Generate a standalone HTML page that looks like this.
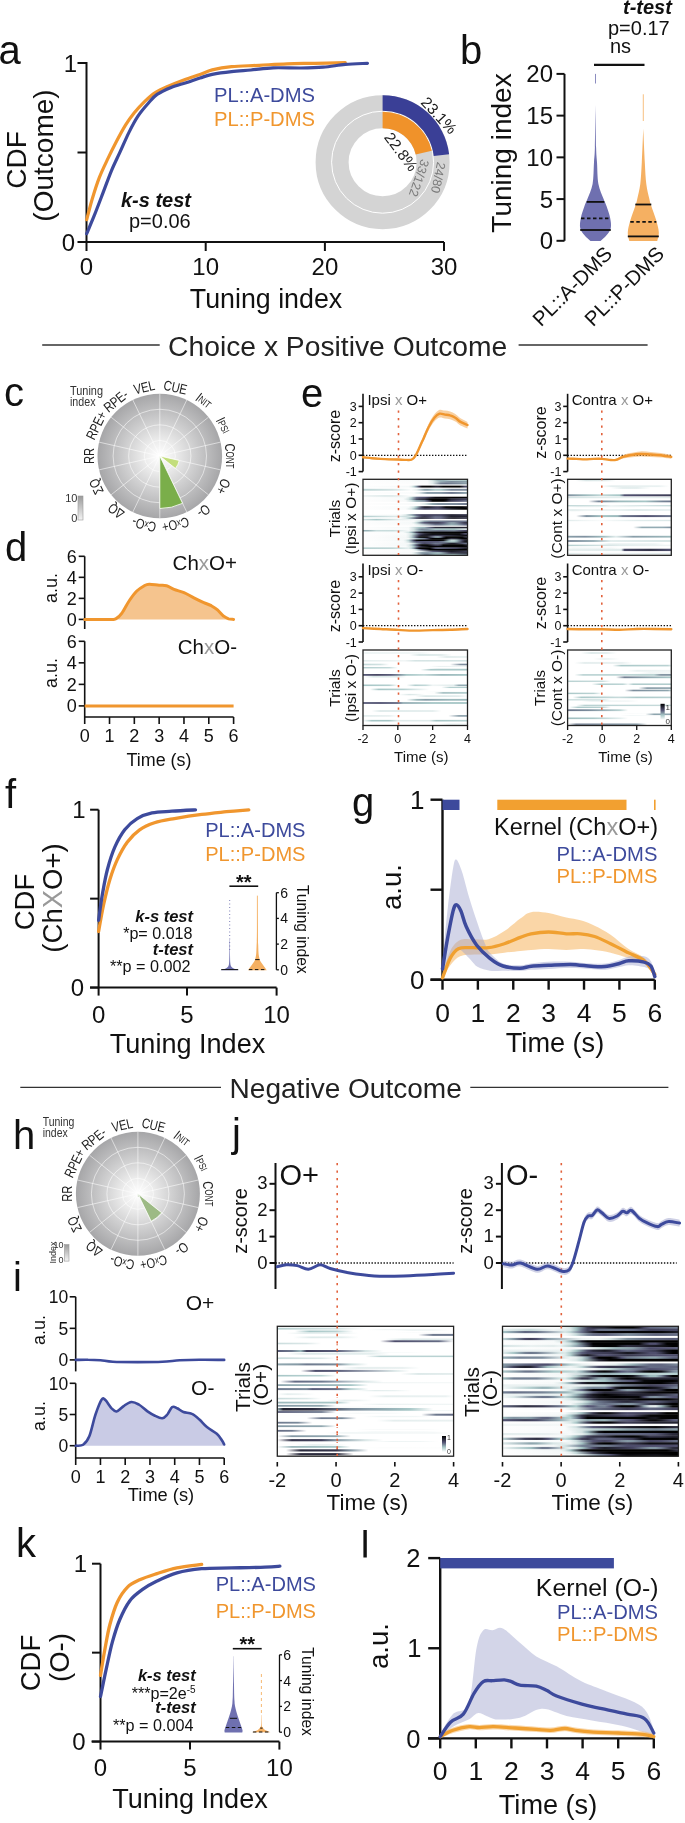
<!DOCTYPE html>
<html><head><meta charset="utf-8"><style>
html,body{margin:0;padding:0;background:#fff;}
body{width:685px;height:1823px;overflow:hidden;}
svg{display:block;will-change:transform;}
text{font-family:"Liberation Sans",sans-serif;}
</style></head><body>
<svg width="685" height="1823" viewBox="0 0 685 1823">
<defs><radialGradient id="pg1" cx="159.8" cy="456" r="62.3" gradientUnits="userSpaceOnUse"><stop offset="0" stop-color="#ffffff"/><stop offset="0.25" stop-color="#ececec"/><stop offset="0.6" stop-color="#cbcbcc"/><stop offset="1" stop-color="#a6a6a8"/></radialGradient><linearGradient id="lg10" x1="0" y1="0" x2="0" y2="1"><stop offset="0" stop-color="#9a9a9a"/><stop offset="1" stop-color="#f4f4f4"/></linearGradient><linearGradient id="h1"><stop offset="0.000" stop-color="#fefefe"/><stop offset="0.615" stop-color="#f6f9f9"/><stop offset="0.667" stop-color="#d0e1e0"/><stop offset="0.718" stop-color="#9cb7bb"/><stop offset="0.769" stop-color="#9cb8bc"/><stop offset="0.846" stop-color="#bfd6d6"/><stop offset="1.000" stop-color="#b4cfcf"/></linearGradient><linearGradient id="h2"><stop offset="0.000" stop-color="#fefefe"/><stop offset="0.615" stop-color="#f9fbfb"/><stop offset="0.667" stop-color="#dfeaea"/><stop offset="0.744" stop-color="#95aeb5"/><stop offset="0.846" stop-color="#7c8d9c"/><stop offset="1.000" stop-color="#8ca1ab"/></linearGradient><linearGradient id="h3"><stop offset="0.000" stop-color="#fefefe"/><stop offset="0.615" stop-color="#fbfcfc"/><stop offset="0.667" stop-color="#deeaea"/><stop offset="0.744" stop-color="#758395"/><stop offset="0.795" stop-color="#6d778c"/><stop offset="0.923" stop-color="#7d8d9c"/><stop offset="1.000" stop-color="#8ca2ac"/></linearGradient><linearGradient id="h4"><stop offset="0.000" stop-color="#fefefe"/><stop offset="0.436" stop-color="#f6f9f9"/><stop offset="0.462" stop-color="#e6efef"/><stop offset="0.487" stop-color="#bdd5d5"/><stop offset="0.513" stop-color="#8092a0"/><stop offset="0.538" stop-color="#3c3b53"/><stop offset="0.564" stop-color="#07070a"/><stop offset="0.641" stop-color="#010102"/><stop offset="0.692" stop-color="#1e1e2a"/><stop offset="0.718" stop-color="#21212f"/><stop offset="0.769" stop-color="#000000"/><stop offset="0.923" stop-color="#000000"/><stop offset="0.974" stop-color="#42425c"/><stop offset="1.000" stop-color="#515171"/></linearGradient><linearGradient id="h5"><stop offset="0.000" stop-color="#bcd4d4"/><stop offset="0.282" stop-color="#d4e3e3"/><stop offset="0.462" stop-color="#fafcfc"/><stop offset="0.513" stop-color="#e7efef"/><stop offset="0.590" stop-color="#8ea5ae"/><stop offset="0.615" stop-color="#8ba1ab"/><stop offset="0.692" stop-color="#b0cccc"/><stop offset="0.744" stop-color="#accac9"/><stop offset="0.846" stop-color="#778697"/><stop offset="1.000" stop-color="#7b8a9b"/></linearGradient><linearGradient id="h6"><stop offset="0.000" stop-color="#fefefe"/><stop offset="0.487" stop-color="#fafcfc"/><stop offset="0.538" stop-color="#e0ebeb"/><stop offset="0.615" stop-color="#899ea9"/><stop offset="0.744" stop-color="#8598a5"/><stop offset="0.846" stop-color="#6c768c"/><stop offset="0.923" stop-color="#7b8b9b"/><stop offset="1.000" stop-color="#90a8b0"/></linearGradient><linearGradient id="h7"><stop offset="0.000" stop-color="#edf3f3"/><stop offset="0.205" stop-color="#dde9e9"/><stop offset="0.282" stop-color="#dde9e9"/><stop offset="0.462" stop-color="#fcfdfd"/><stop offset="1.000" stop-color="#fefefe"/></linearGradient><linearGradient id="h8"><stop offset="0.000" stop-color="#fefefe"/><stop offset="0.410" stop-color="#f4f8f8"/><stop offset="0.436" stop-color="#e2ecec"/><stop offset="0.462" stop-color="#bad3d3"/><stop offset="0.513" stop-color="#676f86"/><stop offset="0.538" stop-color="#585b78"/><stop offset="0.590" stop-color="#4c4c6a"/><stop offset="0.692" stop-color="#0d0d13"/><stop offset="0.872" stop-color="#000000"/><stop offset="1.000" stop-color="#060609"/></linearGradient><linearGradient id="h9"><stop offset="0.000" stop-color="#fefefe"/><stop offset="0.385" stop-color="#f8fbfb"/><stop offset="0.436" stop-color="#d2e2e2"/><stop offset="0.462" stop-color="#9fbcbf"/><stop offset="0.513" stop-color="#454560"/><stop offset="0.538" stop-color="#323245"/><stop offset="0.590" stop-color="#222230"/><stop offset="0.641" stop-color="#000000"/><stop offset="0.795" stop-color="#040405"/><stop offset="0.846" stop-color="#292939"/><stop offset="1.000" stop-color="#403f59"/></linearGradient><linearGradient id="h10"><stop offset="0.000" stop-color="#fefefe"/><stop offset="0.410" stop-color="#f7f9f9"/><stop offset="0.462" stop-color="#d2e2e2"/><stop offset="0.513" stop-color="#94aeb4"/><stop offset="0.590" stop-color="#778697"/><stop offset="0.615" stop-color="#575977"/><stop offset="0.667" stop-color="#000000"/><stop offset="0.769" stop-color="#000000"/><stop offset="0.795" stop-color="#0d0d13"/><stop offset="0.821" stop-color="#29293a"/><stop offset="0.846" stop-color="#393950"/><stop offset="0.923" stop-color="#4e4e6c"/><stop offset="1.000" stop-color="#677087"/></linearGradient><linearGradient id="h11"><stop offset="0.000" stop-color="#fefefe"/><stop offset="0.538" stop-color="#f8fafa"/><stop offset="0.590" stop-color="#dce8e8"/><stop offset="0.667" stop-color="#90a8b0"/><stop offset="0.718" stop-color="#8193a1"/><stop offset="0.897" stop-color="#7b8a9b"/><stop offset="1.000" stop-color="#6c768c"/></linearGradient><linearGradient id="h12"><stop offset="0.000" stop-color="#fefefe"/><stop offset="0.436" stop-color="#f8fbfb"/><stop offset="0.487" stop-color="#d4e3e3"/><stop offset="0.513" stop-color="#a1bfc1"/><stop offset="0.564" stop-color="#3b3b52"/><stop offset="0.590" stop-color="#1f1f2c"/><stop offset="0.615" stop-color="#1b1b26"/><stop offset="0.692" stop-color="#3b3b52"/><stop offset="0.718" stop-color="#3e3e56"/><stop offset="0.744" stop-color="#323246"/><stop offset="0.795" stop-color="#000000"/><stop offset="0.949" stop-color="#000001"/><stop offset="1.000" stop-color="#1a1a24"/></linearGradient><linearGradient id="h13"><stop offset="0.000" stop-color="#fefefe"/><stop offset="0.410" stop-color="#f9fbfb"/><stop offset="0.462" stop-color="#dce8e8"/><stop offset="0.487" stop-color="#b1cdcd"/><stop offset="0.538" stop-color="#616781"/><stop offset="0.590" stop-color="#40405a"/><stop offset="0.718" stop-color="#4c4c69"/><stop offset="0.846" stop-color="#1b1b26"/><stop offset="0.974" stop-color="#000000"/><stop offset="1.000" stop-color="#000000"/></linearGradient><linearGradient id="h14"><stop offset="0.000" stop-color="#fefefe"/><stop offset="0.359" stop-color="#f9fbfb"/><stop offset="0.410" stop-color="#deeaea"/><stop offset="0.462" stop-color="#92abb2"/><stop offset="0.513" stop-color="#595c79"/><stop offset="0.564" stop-color="#41405a"/><stop offset="0.744" stop-color="#454460"/><stop offset="0.846" stop-color="#272736"/><stop offset="1.000" stop-color="#39394f"/></linearGradient><linearGradient id="h15"><stop offset="0.000" stop-color="#b1cdcd"/><stop offset="0.308" stop-color="#dce8e8"/><stop offset="0.410" stop-color="#cddfdf"/><stop offset="0.462" stop-color="#dde9e9"/><stop offset="0.487" stop-color="#b3cece"/><stop offset="0.538" stop-color="#5e627d"/><stop offset="0.564" stop-color="#45445f"/><stop offset="0.590" stop-color="#3a3a51"/><stop offset="0.641" stop-color="#4a4a67"/><stop offset="0.692" stop-color="#626882"/><stop offset="0.744" stop-color="#5e637e"/><stop offset="0.846" stop-color="#232331"/><stop offset="1.000" stop-color="#252534"/></linearGradient><linearGradient id="h16"><stop offset="0.000" stop-color="#fefefe"/><stop offset="0.359" stop-color="#f9fbfb"/><stop offset="0.410" stop-color="#dde9e9"/><stop offset="0.436" stop-color="#b7d1d1"/><stop offset="0.513" stop-color="#454561"/><stop offset="0.538" stop-color="#2f2f41"/><stop offset="0.564" stop-color="#242432"/><stop offset="0.615" stop-color="#2f2f42"/><stop offset="0.692" stop-color="#5d617d"/><stop offset="0.744" stop-color="#5a5d79"/><stop offset="0.821" stop-color="#262635"/><stop offset="0.872" stop-color="#1c1c26"/><stop offset="1.000" stop-color="#343449"/></linearGradient><linearGradient id="h17"><stop offset="0.000" stop-color="#d1e1e1"/><stop offset="0.128" stop-color="#a9c8c8"/><stop offset="0.359" stop-color="#e7efef"/><stop offset="0.641" stop-color="#fefefe"/><stop offset="1.000" stop-color="#fefefe"/></linearGradient><linearGradient id="h18"><stop offset="0.000" stop-color="#fefefe"/><stop offset="0.487" stop-color="#f8fafa"/><stop offset="0.538" stop-color="#cfe0e0"/><stop offset="0.590" stop-color="#879ba6"/><stop offset="0.641" stop-color="#707c90"/><stop offset="1.000" stop-color="#687188"/></linearGradient><linearGradient id="h19"><stop offset="0.000" stop-color="#fefefe"/><stop offset="0.462" stop-color="#f5f9f9"/><stop offset="0.487" stop-color="#e6efee"/><stop offset="0.513" stop-color="#c2d8d8"/><stop offset="0.564" stop-color="#6a748a"/><stop offset="0.590" stop-color="#515070"/><stop offset="0.641" stop-color="#3e3e56"/><stop offset="0.718" stop-color="#3a3950"/><stop offset="0.769" stop-color="#525271"/><stop offset="0.821" stop-color="#798899"/><stop offset="0.846" stop-color="#8497a3"/><stop offset="0.872" stop-color="#8395a2"/><stop offset="0.923" stop-color="#5e637e"/><stop offset="0.974" stop-color="#343449"/><stop offset="1.000" stop-color="#302f42"/></linearGradient><linearGradient id="h20"><stop offset="0.000" stop-color="#fefefe"/><stop offset="0.487" stop-color="#f8fafa"/><stop offset="0.538" stop-color="#dae7e7"/><stop offset="0.692" stop-color="#687088"/><stop offset="0.744" stop-color="#697389"/><stop offset="0.846" stop-color="#96afb5"/><stop offset="0.897" stop-color="#8ba0ab"/><stop offset="0.974" stop-color="#5e627d"/><stop offset="1.000" stop-color="#5a5e7a"/></linearGradient><linearGradient id="h21"><stop offset="0.000" stop-color="#fefefe"/><stop offset="0.436" stop-color="#f5f9f9"/><stop offset="0.538" stop-color="#a3c2c3"/><stop offset="0.590" stop-color="#94adb4"/><stop offset="0.641" stop-color="#5f647f"/><stop offset="0.692" stop-color="#2a2a3a"/><stop offset="0.872" stop-color="#222230"/><stop offset="1.000" stop-color="#222230"/></linearGradient><linearGradient id="h22"><stop offset="0.000" stop-color="#fefefe"/><stop offset="0.436" stop-color="#f8fbfb"/><stop offset="0.487" stop-color="#d0e1e1"/><stop offset="0.538" stop-color="#899ea9"/><stop offset="0.564" stop-color="#7a899a"/><stop offset="0.615" stop-color="#8193a1"/><stop offset="0.692" stop-color="#aac8c8"/><stop offset="0.872" stop-color="#a4c3c4"/><stop offset="1.000" stop-color="#e6efef"/></linearGradient><linearGradient id="h23"><stop offset="0.000" stop-color="#95afb5"/><stop offset="0.051" stop-color="#9bb6ba"/><stop offset="0.128" stop-color="#c8dcdc"/><stop offset="0.282" stop-color="#c7dbdb"/><stop offset="0.436" stop-color="#f6f9f9"/><stop offset="0.487" stop-color="#d6e5e4"/><stop offset="0.538" stop-color="#93abb3"/><stop offset="0.590" stop-color="#7d8d9c"/><stop offset="0.744" stop-color="#6e798e"/><stop offset="0.872" stop-color="#778597"/><stop offset="0.974" stop-color="#494865"/><stop offset="1.000" stop-color="#464662"/></linearGradient><linearGradient id="h24"><stop offset="0.000" stop-color="#fefefe"/><stop offset="0.385" stop-color="#f7fafa"/><stop offset="0.436" stop-color="#d3e3e3"/><stop offset="0.462" stop-color="#a0bec0"/><stop offset="0.513" stop-color="#3b3b53"/><stop offset="0.538" stop-color="#1b1b26"/><stop offset="0.590" stop-color="#07070a"/><stop offset="0.769" stop-color="#020204"/><stop offset="1.000" stop-color="#000000"/></linearGradient><linearGradient id="h25"><stop offset="0.000" stop-color="#fefefe"/><stop offset="0.410" stop-color="#f9fbfb"/><stop offset="0.462" stop-color="#dae7e7"/><stop offset="0.487" stop-color="#accac9"/><stop offset="0.538" stop-color="#525271"/><stop offset="0.590" stop-color="#232331"/><stop offset="0.667" stop-color="#010102"/><stop offset="0.923" stop-color="#010102"/><stop offset="0.974" stop-color="#43435e"/><stop offset="1.000" stop-color="#4f4f6f"/></linearGradient><linearGradient id="h26"><stop offset="0.000" stop-color="#fefefe"/><stop offset="0.410" stop-color="#f6f9f9"/><stop offset="0.436" stop-color="#e8f0f0"/><stop offset="0.462" stop-color="#c7dbdb"/><stop offset="0.538" stop-color="#35354b"/><stop offset="0.564" stop-color="#20202c"/><stop offset="0.615" stop-color="#1f1f2b"/><stop offset="0.692" stop-color="#3e3e57"/><stop offset="0.769" stop-color="#3a3a50"/><stop offset="0.923" stop-color="#1a1a24"/><stop offset="1.000" stop-color="#08080b"/></linearGradient><linearGradient id="h27"><stop offset="0.000" stop-color="#fefefe"/><stop offset="0.410" stop-color="#f4f7f7"/><stop offset="0.436" stop-color="#e2ecec"/><stop offset="0.462" stop-color="#b8d1d1"/><stop offset="0.487" stop-color="#7e8f9e"/><stop offset="0.513" stop-color="#3d3d55"/><stop offset="0.538" stop-color="#09090d"/><stop offset="0.590" stop-color="#000000"/><stop offset="0.615" stop-color="#08080c"/><stop offset="0.667" stop-color="#656c85"/><stop offset="0.692" stop-color="#879ba6"/><stop offset="0.718" stop-color="#90a8b0"/><stop offset="0.744" stop-color="#717d91"/><stop offset="0.769" stop-color="#2b2b3c"/><stop offset="0.795" stop-color="#000000"/><stop offset="0.949" stop-color="#000000"/><stop offset="0.974" stop-color="#1d1d29"/><stop offset="1.000" stop-color="#303042"/></linearGradient><linearGradient id="h28"><stop offset="0.000" stop-color="#fefefe"/><stop offset="0.436" stop-color="#f5f8f8"/><stop offset="0.487" stop-color="#c9dcdc"/><stop offset="0.538" stop-color="#8fa6af"/><stop offset="0.590" stop-color="#707b90"/><stop offset="0.615" stop-color="#4a4a67"/><stop offset="0.641" stop-color="#16161f"/><stop offset="0.667" stop-color="#000000"/><stop offset="0.795" stop-color="#000000"/><stop offset="0.846" stop-color="#2d2d3e"/><stop offset="0.897" stop-color="#232330"/><stop offset="0.949" stop-color="#010102"/><stop offset="1.000" stop-color="#000000"/></linearGradient><linearGradient id="h29"><stop offset="0.000" stop-color="#fefefe"/><stop offset="0.385" stop-color="#f4f8f8"/><stop offset="0.410" stop-color="#e3eded"/><stop offset="0.436" stop-color="#bad3d3"/><stop offset="0.462" stop-color="#8193a1"/><stop offset="0.487" stop-color="#41415b"/><stop offset="0.513" stop-color="#0f0f15"/><stop offset="0.538" stop-color="#000000"/><stop offset="0.744" stop-color="#000000"/><stop offset="0.769" stop-color="#0c0c10"/><stop offset="0.821" stop-color="#94adb4"/><stop offset="0.846" stop-color="#c2d8d8"/><stop offset="0.872" stop-color="#c1d7d7"/><stop offset="0.897" stop-color="#9dbabd"/><stop offset="0.949" stop-color="#44445f"/><stop offset="0.974" stop-color="#222230"/><stop offset="1.000" stop-color="#181821"/></linearGradient><linearGradient id="h30"><stop offset="0.000" stop-color="#fefefe"/><stop offset="0.385" stop-color="#f8fafa"/><stop offset="0.410" stop-color="#ebf2f2"/><stop offset="0.436" stop-color="#ccdede"/><stop offset="0.487" stop-color="#6a7389"/><stop offset="0.513" stop-color="#4f4f6e"/><stop offset="0.718" stop-color="#555675"/><stop offset="0.769" stop-color="#717d91"/><stop offset="0.821" stop-color="#a0bdc0"/><stop offset="0.846" stop-color="#b0cccc"/><stop offset="0.872" stop-color="#abc9c9"/><stop offset="0.897" stop-color="#8ea6ae"/><stop offset="0.949" stop-color="#35354a"/><stop offset="0.974" stop-color="#13131b"/><stop offset="1.000" stop-color="#08080c"/></linearGradient><linearGradient id="h31"><stop offset="0.000" stop-color="#fefefe"/><stop offset="0.436" stop-color="#f5f8f8"/><stop offset="0.462" stop-color="#e5eeee"/><stop offset="0.487" stop-color="#c4d9d9"/><stop offset="0.538" stop-color="#717d91"/><stop offset="0.564" stop-color="#565775"/><stop offset="0.590" stop-color="#484864"/><stop offset="0.641" stop-color="#565876"/><stop offset="0.692" stop-color="#6e798e"/><stop offset="0.744" stop-color="#697188"/><stop offset="0.821" stop-color="#2a2a3b"/><stop offset="0.846" stop-color="#1f1f2b"/><stop offset="0.872" stop-color="#1f1f2c"/><stop offset="0.974" stop-color="#656c84"/><stop offset="1.000" stop-color="#6c768b"/></linearGradient><linearGradient id="h32"><stop offset="0.000" stop-color="#fefefe"/><stop offset="0.410" stop-color="#f4f8f8"/><stop offset="0.436" stop-color="#e3eded"/><stop offset="0.462" stop-color="#bad3d3"/><stop offset="0.487" stop-color="#8395a3"/><stop offset="0.513" stop-color="#474763"/><stop offset="0.538" stop-color="#181822"/><stop offset="0.564" stop-color="#000000"/><stop offset="0.615" stop-color="#030304"/><stop offset="0.692" stop-color="#3b3b53"/><stop offset="0.718" stop-color="#404059"/><stop offset="0.744" stop-color="#2b2b3c"/><stop offset="0.769" stop-color="#000000"/><stop offset="0.949" stop-color="#000000"/><stop offset="1.000" stop-color="#21202d"/></linearGradient><linearGradient id="h33"><stop offset="0.000" stop-color="#fefefe"/><stop offset="0.410" stop-color="#f9fbfb"/><stop offset="0.462" stop-color="#d9e6e6"/><stop offset="0.487" stop-color="#a8c7c7"/><stop offset="0.538" stop-color="#474763"/><stop offset="0.564" stop-color="#282838"/><stop offset="0.641" stop-color="#020203"/><stop offset="0.949" stop-color="#010102"/><stop offset="1.000" stop-color="#0a0a0e"/></linearGradient><linearGradient id="h34"><stop offset="0.000" stop-color="#b4cfcf"/><stop offset="0.282" stop-color="#bdd4d4"/><stop offset="0.436" stop-color="#e2eded"/><stop offset="0.462" stop-color="#c0d7d7"/><stop offset="0.487" stop-color="#8496a3"/><stop offset="0.513" stop-color="#36364b"/><stop offset="0.538" stop-color="#000000"/><stop offset="0.641" stop-color="#000000"/><stop offset="0.692" stop-color="#545473"/><stop offset="0.718" stop-color="#5f647e"/><stop offset="0.897" stop-color="#43435e"/><stop offset="0.974" stop-color="#22222f"/><stop offset="1.000" stop-color="#20202d"/></linearGradient><linearGradient id="h35"><stop offset="0.000" stop-color="#fefefe"/><stop offset="0.462" stop-color="#f8fafa"/><stop offset="0.487" stop-color="#e8f0f0"/><stop offset="0.513" stop-color="#bed5d5"/><stop offset="0.564" stop-color="#535473"/><stop offset="0.641" stop-color="#000000"/><stop offset="1.000" stop-color="#000000"/></linearGradient><linearGradient id="h36"><stop offset="0.000" stop-color="#fefefe"/><stop offset="0.513" stop-color="#f8fafa"/><stop offset="0.564" stop-color="#dae7e7"/><stop offset="0.667" stop-color="#5b5f7b"/><stop offset="0.718" stop-color="#484864"/><stop offset="0.846" stop-color="#1b1b26"/><stop offset="0.923" stop-color="#2a2a3a"/><stop offset="1.000" stop-color="#404059"/></linearGradient><linearGradient id="h37"><stop offset="0.000" stop-color="#fefefe"/><stop offset="0.462" stop-color="#f6f9f9"/><stop offset="0.487" stop-color="#e5eeee"/><stop offset="0.564" stop-color="#8699a5"/><stop offset="0.615" stop-color="#8193a1"/><stop offset="0.718" stop-color="#9bb6ba"/><stop offset="0.744" stop-color="#90a7af"/><stop offset="0.821" stop-color="#3c3c53"/><stop offset="0.846" stop-color="#2c2c3e"/><stop offset="1.000" stop-color="#262635"/></linearGradient><linearGradient id="h38"><stop offset="0.000" stop-color="#fefefe"/><stop offset="0.462" stop-color="#fafbfb"/><stop offset="0.513" stop-color="#dfebeb"/><stop offset="0.590" stop-color="#7b8a9a"/><stop offset="0.615" stop-color="#768496"/><stop offset="0.692" stop-color="#a0bdbf"/><stop offset="0.872" stop-color="#a7c7c7"/><stop offset="0.974" stop-color="#7b8b9b"/><stop offset="1.000" stop-color="#798899"/></linearGradient><linearGradient id="h39"><stop offset="0.000" stop-color="#ffffff"/><stop offset="0.020" stop-color="#eff5f5"/><stop offset="0.552" stop-color="#f2f7f7"/><stop offset="0.652" stop-color="#ffffff"/><stop offset="1.000" stop-color="#ffffff"/></linearGradient><linearGradient id="h40"><stop offset="0.000" stop-color="#ffffff"/><stop offset="0.443" stop-color="#ffffff"/><stop offset="0.543" stop-color="#dbe8e8"/><stop offset="0.749" stop-color="#e2ecec"/><stop offset="0.849" stop-color="#ffffff"/><stop offset="1.000" stop-color="#ffffff"/></linearGradient><linearGradient id="h41"><stop offset="0.000" stop-color="#ffffff"/><stop offset="0.700" stop-color="#ffffff"/><stop offset="0.800" stop-color="#e3eded"/><stop offset="0.993" stop-color="#e9f1f1"/><stop offset="1.000" stop-color="#ffffff"/></linearGradient><linearGradient id="h42"><stop offset="0.000" stop-color="#ffffff"/><stop offset="0.634" stop-color="#ffffff"/><stop offset="0.734" stop-color="#ebf2f2"/><stop offset="1.000" stop-color="#eff5f5"/><stop offset="1.000" stop-color="#ffffff"/></linearGradient><linearGradient id="h43"><stop offset="0.000" stop-color="#ffffff"/><stop offset="0.608" stop-color="#ffffff"/><stop offset="0.708" stop-color="#dae7e7"/><stop offset="1.000" stop-color="#e1ecec"/><stop offset="1.000" stop-color="#ffffff"/></linearGradient><linearGradient id="h44"><stop offset="0.000" stop-color="#ffffff"/><stop offset="0.588" stop-color="#ffffff"/><stop offset="0.688" stop-color="#eff5f4"/><stop offset="1.000" stop-color="#f2f7f6"/><stop offset="1.000" stop-color="#ffffff"/></linearGradient><linearGradient id="h45"><stop offset="0.000" stop-color="#ffffff"/><stop offset="0.343" stop-color="#ffffff"/><stop offset="0.443" stop-color="#dae7e7"/><stop offset="0.493" stop-color="#e2ecec"/><stop offset="0.593" stop-color="#ffffff"/><stop offset="1.000" stop-color="#ffffff"/></linearGradient><linearGradient id="h46"><stop offset="0.000" stop-color="#ffffff"/><stop offset="0.730" stop-color="#ffffff"/><stop offset="0.830" stop-color="#e8f0f0"/><stop offset="1.000" stop-color="#edf3f3"/><stop offset="1.000" stop-color="#ffffff"/></linearGradient><linearGradient id="h47"><stop offset="0.000" stop-color="#e1ecec"/><stop offset="0.167" stop-color="#e7efef"/><stop offset="0.400" stop-color="#f0f5f5"/><stop offset="0.500" stop-color="#d2e2e2"/><stop offset="1.000" stop-color="#d2e2e2"/></linearGradient><linearGradient id="h48"><stop offset="0.000" stop-color="#c3d9d9"/><stop offset="0.167" stop-color="#d2e2e2"/><stop offset="0.250" stop-color="#ffffff"/><stop offset="0.833" stop-color="#ffffff"/><stop offset="0.933" stop-color="#8091a0"/><stop offset="1.000" stop-color="#768496"/></linearGradient><linearGradient id="h49"><stop offset="0.000" stop-color="#b4cfcf"/><stop offset="0.250" stop-color="#c3d9d9"/><stop offset="0.333" stop-color="#ffffff"/><stop offset="1.000" stop-color="#ffffff"/></linearGradient><linearGradient id="h50"><stop offset="0.000" stop-color="#ffffff"/><stop offset="0.550" stop-color="#ffffff"/><stop offset="0.650" stop-color="#a6c6c6"/><stop offset="1.000" stop-color="#a6c6c6"/></linearGradient><linearGradient id="h51"><stop offset="0.000" stop-color="#5a5d7a"/><stop offset="0.133" stop-color="#474763"/><stop offset="0.267" stop-color="#5a5d7a"/><stop offset="0.333" stop-color="#768496"/><stop offset="0.417" stop-color="#a6c6c6"/><stop offset="0.583" stop-color="#c3d9d9"/><stop offset="0.750" stop-color="#9cb9bc"/><stop offset="1.000" stop-color="#a6c6c6"/></linearGradient><linearGradient id="h52"><stop offset="0.000" stop-color="#ffffff"/><stop offset="0.017" stop-color="#ffffff"/><stop offset="0.100" stop-color="#d2e2e2"/><stop offset="0.333" stop-color="#dbe8e8"/><stop offset="0.417" stop-color="#ffffff"/><stop offset="1.000" stop-color="#ffffff"/></linearGradient><linearGradient id="h53"><stop offset="0.000" stop-color="#a6c6c6"/><stop offset="0.250" stop-color="#b4cfcf"/><stop offset="0.333" stop-color="#ffffff"/><stop offset="0.417" stop-color="#ffffff"/><stop offset="0.500" stop-color="#b4cfcf"/><stop offset="0.600" stop-color="#c3d9d9"/><stop offset="0.667" stop-color="#f0f5f5"/><stop offset="0.867" stop-color="#e1ecec"/><stop offset="0.917" stop-color="#93abb3"/><stop offset="1.000" stop-color="#93abb3"/></linearGradient><linearGradient id="h54"><stop offset="0.000" stop-color="#ffffff"/><stop offset="0.750" stop-color="#ffffff"/><stop offset="0.833" stop-color="#b4cfcf"/><stop offset="1.000" stop-color="#b4cfcf"/></linearGradient><linearGradient id="h55"><stop offset="0.000" stop-color="#ffffff"/><stop offset="0.067" stop-color="#ffffff"/><stop offset="0.150" stop-color="#a6c6c6"/><stop offset="0.383" stop-color="#b4cfcf"/><stop offset="0.533" stop-color="#e1ecec"/><stop offset="0.633" stop-color="#ffffff"/><stop offset="1.000" stop-color="#ffffff"/></linearGradient><linearGradient id="h56"><stop offset="0.000" stop-color="#ffffff"/><stop offset="0.683" stop-color="#ffffff"/><stop offset="0.767" stop-color="#9cb9bc"/><stop offset="1.000" stop-color="#a6c6c6"/></linearGradient><linearGradient id="h57"><stop offset="0.000" stop-color="#ffffff"/><stop offset="0.500" stop-color="#ffffff"/><stop offset="0.600" stop-color="#d2e2e2"/><stop offset="0.917" stop-color="#dbe8e8"/><stop offset="1.000" stop-color="#ffffff"/><stop offset="1.000" stop-color="#ffffff"/></linearGradient><linearGradient id="h58"><stop offset="0.000" stop-color="#ffffff"/><stop offset="0.417" stop-color="#ffffff"/><stop offset="0.517" stop-color="#9cb9bc"/><stop offset="0.600" stop-color="#899ea9"/><stop offset="0.833" stop-color="#9cb9bc"/><stop offset="1.000" stop-color="#9cb9bc"/></linearGradient><linearGradient id="h59"><stop offset="0.000" stop-color="#5a5d7a"/><stop offset="0.167" stop-color="#505070"/><stop offset="0.333" stop-color="#636a83"/><stop offset="0.383" stop-color="#93abb3"/><stop offset="0.667" stop-color="#a6c6c6"/><stop offset="1.000" stop-color="#a6c6c6"/></linearGradient><linearGradient id="h60"><stop offset="0.000" stop-color="#ffffff"/><stop offset="0.083" stop-color="#ffffff"/><stop offset="0.167" stop-color="#d2e2e2"/><stop offset="0.667" stop-color="#dbe8e8"/><stop offset="0.750" stop-color="#ffffff"/><stop offset="1.000" stop-color="#ffffff"/></linearGradient><linearGradient id="h61"><stop offset="0.000" stop-color="#e1ecec"/><stop offset="0.250" stop-color="#e7efef"/><stop offset="0.333" stop-color="#ffffff"/><stop offset="0.817" stop-color="#ffffff"/><stop offset="0.917" stop-color="#899ea9"/><stop offset="1.000" stop-color="#899ea9"/></linearGradient><linearGradient id="h62"><stop offset="0.000" stop-color="#ffffff"/><stop offset="0.000" stop-color="#ffffff"/><stop offset="0.083" stop-color="#a6c6c6"/><stop offset="0.250" stop-color="#a6c6c6"/><stop offset="0.333" stop-color="#e1ecec"/><stop offset="0.633" stop-color="#e1ecec"/><stop offset="0.700" stop-color="#a6c6c6"/><stop offset="1.000" stop-color="#b4cfcf"/></linearGradient><linearGradient id="h63"><stop offset="0.000" stop-color="#ffffff"/><stop offset="0.078" stop-color="#ffffff"/><stop offset="0.178" stop-color="#dbe8e8"/><stop offset="0.363" stop-color="#e2ecec"/><stop offset="0.463" stop-color="#ffffff"/><stop offset="1.000" stop-color="#ffffff"/></linearGradient><linearGradient id="h64"><stop offset="0.000" stop-color="#ffffff"/><stop offset="0.324" stop-color="#ffffff"/><stop offset="0.424" stop-color="#e5eeee"/><stop offset="0.879" stop-color="#eaf2f2"/><stop offset="0.979" stop-color="#ffffff"/><stop offset="1.000" stop-color="#ffffff"/></linearGradient><linearGradient id="h65"><stop offset="0.000" stop-color="#ffffff"/><stop offset="0.529" stop-color="#ffffff"/><stop offset="0.629" stop-color="#f4f8f8"/><stop offset="0.726" stop-color="#f6f9f9"/><stop offset="0.826" stop-color="#ffffff"/><stop offset="1.000" stop-color="#ffffff"/></linearGradient><linearGradient id="h66"><stop offset="0.000" stop-color="#ffffff"/><stop offset="0.001" stop-color="#ffffff"/><stop offset="0.101" stop-color="#f1f6f6"/><stop offset="0.623" stop-color="#f4f8f8"/><stop offset="0.723" stop-color="#ffffff"/><stop offset="1.000" stop-color="#ffffff"/></linearGradient><linearGradient id="h67"><stop offset="0.000" stop-color="#ffffff"/><stop offset="0.041" stop-color="#eaf2f1"/><stop offset="0.094" stop-color="#eef4f4"/><stop offset="0.194" stop-color="#ffffff"/><stop offset="1.000" stop-color="#ffffff"/></linearGradient><linearGradient id="h68"><stop offset="0.000" stop-color="#ffffff"/><stop offset="0.297" stop-color="#ffffff"/><stop offset="0.397" stop-color="#e8f0f0"/><stop offset="0.837" stop-color="#ecf3f3"/><stop offset="0.937" stop-color="#ffffff"/><stop offset="1.000" stop-color="#ffffff"/></linearGradient><linearGradient id="h69"><stop offset="0.000" stop-color="#ffffff"/><stop offset="0.000" stop-color="#ffffff"/><stop offset="0.052" stop-color="#f3f7f7"/><stop offset="0.416" stop-color="#f5f8f8"/><stop offset="0.516" stop-color="#ffffff"/><stop offset="1.000" stop-color="#ffffff"/></linearGradient><linearGradient id="h70"><stop offset="0.000" stop-color="#ffffff"/><stop offset="0.417" stop-color="#ffffff"/><stop offset="0.533" stop-color="#dbe8e8"/><stop offset="0.667" stop-color="#dbe8e8"/><stop offset="0.800" stop-color="#ffffff"/><stop offset="1.000" stop-color="#ffffff"/></linearGradient><linearGradient id="h71"><stop offset="0.000" stop-color="#8091a0"/><stop offset="0.167" stop-color="#9cb9bc"/><stop offset="0.333" stop-color="#c3d9d9"/><stop offset="0.500" stop-color="#a6c6c6"/><stop offset="0.550" stop-color="#505070"/><stop offset="0.750" stop-color="#474763"/><stop offset="1.000" stop-color="#3d3d56"/></linearGradient><linearGradient id="h72"><stop offset="0.000" stop-color="#d2e2e2"/><stop offset="0.333" stop-color="#e1ecec"/><stop offset="0.667" stop-color="#e7efef"/><stop offset="1.000" stop-color="#e1ecec"/></linearGradient><linearGradient id="h73"><stop offset="0.000" stop-color="#ffffff"/><stop offset="0.200" stop-color="#ffffff"/><stop offset="0.300" stop-color="#768496"/><stop offset="0.500" stop-color="#9cb9bc"/><stop offset="0.750" stop-color="#a6c6c6"/><stop offset="0.917" stop-color="#768496"/><stop offset="1.000" stop-color="#6d778d"/></linearGradient><linearGradient id="h74"><stop offset="0.000" stop-color="#c3d9d9"/><stop offset="0.333" stop-color="#d2e2e2"/><stop offset="0.417" stop-color="#f0f5f5"/><stop offset="0.583" stop-color="#e1ecec"/><stop offset="1.000" stop-color="#c3d9d9"/></linearGradient><linearGradient id="h75"><stop offset="0.000" stop-color="#e1ecec"/><stop offset="0.167" stop-color="#e7efef"/><stop offset="0.500" stop-color="#e1ecec"/><stop offset="0.667" stop-color="#d2e2e2"/><stop offset="1.000" stop-color="#e1ecec"/></linearGradient><linearGradient id="h76"><stop offset="0.000" stop-color="#ffffff"/><stop offset="0.083" stop-color="#ffffff"/><stop offset="0.183" stop-color="#8091a0"/><stop offset="0.333" stop-color="#a6c6c6"/><stop offset="0.483" stop-color="#9cb9bc"/><stop offset="0.533" stop-color="#6d778d"/><stop offset="0.750" stop-color="#505070"/><stop offset="1.000" stop-color="#6d778d"/></linearGradient><linearGradient id="h77"><stop offset="0.000" stop-color="#e1ecec"/><stop offset="0.167" stop-color="#f0f5f5"/><stop offset="0.333" stop-color="#f9fbfb"/><stop offset="0.667" stop-color="#e1ecec"/><stop offset="1.000" stop-color="#dbe8e8"/></linearGradient><linearGradient id="h78"><stop offset="0.000" stop-color="#ffffff"/><stop offset="0.633" stop-color="#ffffff"/><stop offset="0.717" stop-color="#93abb3"/><stop offset="0.917" stop-color="#93abb3"/><stop offset="1.000" stop-color="#8091a0"/></linearGradient><linearGradient id="h79"><stop offset="0.000" stop-color="#899ea9"/><stop offset="0.167" stop-color="#8091a0"/><stop offset="0.333" stop-color="#9cb9bc"/><stop offset="0.467" stop-color="#e1ecec"/><stop offset="0.633" stop-color="#899ea9"/><stop offset="1.000" stop-color="#9cb9bc"/></linearGradient><linearGradient id="h80"><stop offset="0.000" stop-color="#768496"/><stop offset="0.250" stop-color="#93abb3"/><stop offset="0.417" stop-color="#e1ecec"/><stop offset="1.000" stop-color="#d2e2e2"/></linearGradient><linearGradient id="h81"><stop offset="0.000" stop-color="#b4cfcf"/><stop offset="0.333" stop-color="#d2e2e2"/><stop offset="0.500" stop-color="#e1ecec"/><stop offset="1.000" stop-color="#f0f5f5"/></linearGradient><linearGradient id="h82"><stop offset="0.000" stop-color="#e7efef"/><stop offset="0.517" stop-color="#e1ecec"/><stop offset="0.550" stop-color="#474763"/><stop offset="0.800" stop-color="#343448"/><stop offset="1.000" stop-color="#505070"/></linearGradient><linearGradient id="h83"><stop offset="0.000" stop-color="#e1ecec"/><stop offset="0.333" stop-color="#f0f5f5"/><stop offset="1.000" stop-color="#e1ecec"/></linearGradient><linearGradient id="h84"><stop offset="0.000" stop-color="#ffffff"/><stop offset="0.129" stop-color="#ffffff"/><stop offset="0.229" stop-color="#e0ebeb"/><stop offset="0.374" stop-color="#e6efef"/><stop offset="0.474" stop-color="#ffffff"/><stop offset="1.000" stop-color="#ffffff"/></linearGradient><linearGradient id="h85"><stop offset="0.000" stop-color="#ffffff"/><stop offset="0.252" stop-color="#ffffff"/><stop offset="0.352" stop-color="#eef4f4"/><stop offset="0.400" stop-color="#f1f6f6"/><stop offset="0.500" stop-color="#ffffff"/><stop offset="1.000" stop-color="#ffffff"/></linearGradient><linearGradient id="h86"><stop offset="0.000" stop-color="#ffffff"/><stop offset="0.066" stop-color="#ffffff"/><stop offset="0.166" stop-color="#e5eeee"/><stop offset="0.524" stop-color="#eaf1f1"/><stop offset="0.624" stop-color="#ffffff"/><stop offset="1.000" stop-color="#ffffff"/></linearGradient><linearGradient id="h87"><stop offset="0.000" stop-color="#ffffff"/><stop offset="0.572" stop-color="#ffffff"/><stop offset="0.672" stop-color="#ebf2f2"/><stop offset="1.000" stop-color="#eff4f4"/><stop offset="1.000" stop-color="#ffffff"/></linearGradient><linearGradient id="h88"><stop offset="0.000" stop-color="#ffffff"/><stop offset="0.698" stop-color="#ffffff"/><stop offset="0.798" stop-color="#f1f6f6"/><stop offset="0.999" stop-color="#f4f8f8"/><stop offset="1.000" stop-color="#ffffff"/></linearGradient><linearGradient id="h89"><stop offset="0.000" stop-color="#ffffff"/><stop offset="0.606" stop-color="#ffffff"/><stop offset="0.706" stop-color="#dee9e9"/><stop offset="1.000" stop-color="#e4eeee"/><stop offset="1.000" stop-color="#ffffff"/></linearGradient><linearGradient id="h90"><stop offset="0.000" stop-color="#ffffff"/><stop offset="0.090" stop-color="#ffffff"/><stop offset="0.190" stop-color="#f2f6f6"/><stop offset="0.368" stop-color="#f4f8f8"/><stop offset="0.468" stop-color="#ffffff"/><stop offset="1.000" stop-color="#ffffff"/></linearGradient><linearGradient id="h91"><stop offset="0.000" stop-color="#ffffff"/><stop offset="0.132" stop-color="#ffffff"/><stop offset="0.232" stop-color="#eaf1f1"/><stop offset="0.583" stop-color="#eef4f4"/><stop offset="0.683" stop-color="#ffffff"/><stop offset="1.000" stop-color="#ffffff"/></linearGradient><linearGradient id="h92"><stop offset="0.000" stop-color="#ffffff"/><stop offset="0.508" stop-color="#ffffff"/><stop offset="0.608" stop-color="#e9f1f1"/><stop offset="0.723" stop-color="#eef4f4"/><stop offset="0.823" stop-color="#ffffff"/><stop offset="1.000" stop-color="#ffffff"/></linearGradient><linearGradient id="h93"><stop offset="0.000" stop-color="#ffffff"/><stop offset="0.433" stop-color="#ffffff"/><stop offset="0.517" stop-color="#abc9c9"/><stop offset="0.967" stop-color="#b9d2d2"/><stop offset="1.000" stop-color="#e3eded"/></linearGradient><linearGradient id="h94"><stop offset="0.000" stop-color="#ffffff"/><stop offset="0.067" stop-color="#ffffff"/><stop offset="0.150" stop-color="#b9d2d2"/><stop offset="0.833" stop-color="#b9d2d2"/><stop offset="0.900" stop-color="#7c8d9c"/><stop offset="1.000" stop-color="#7c8d9c"/></linearGradient><linearGradient id="h95"><stop offset="0.000" stop-color="#ffffff"/><stop offset="0.467" stop-color="#ffffff"/><stop offset="0.550" stop-color="#748093"/><stop offset="0.750" stop-color="#8ea5ae"/><stop offset="1.000" stop-color="#abc9c9"/></linearGradient><linearGradient id="h96"><stop offset="0.000" stop-color="#b9d2d2"/><stop offset="0.333" stop-color="#c7dbdb"/><stop offset="0.417" stop-color="#ffffff"/><stop offset="1.000" stop-color="#ffffff"/></linearGradient><linearGradient id="h97"><stop offset="0.000" stop-color="#ffffff"/><stop offset="0.233" stop-color="#ffffff"/><stop offset="0.317" stop-color="#abc9c9"/><stop offset="0.533" stop-color="#b9d2d2"/><stop offset="0.583" stop-color="#f1f6f6"/><stop offset="0.633" stop-color="#abc9c9"/><stop offset="1.000" stop-color="#abc9c9"/></linearGradient><linearGradient id="h98"><stop offset="0.000" stop-color="#ffffff"/><stop offset="0.683" stop-color="#ffffff"/><stop offset="0.767" stop-color="#8599a5"/><stop offset="1.000" stop-color="#8ea5ae"/></linearGradient><linearGradient id="h99"><stop offset="0.000" stop-color="#ffffff"/><stop offset="0.550" stop-color="#ffffff"/><stop offset="0.633" stop-color="#7c8d9c"/><stop offset="0.967" stop-color="#8ea5ae"/><stop offset="1.000" stop-color="#c7dbdb"/></linearGradient><linearGradient id="h100"><stop offset="0.000" stop-color="#abc9c9"/><stop offset="0.250" stop-color="#b9d2d2"/><stop offset="0.333" stop-color="#ffffff"/><stop offset="1.000" stop-color="#ffffff"/></linearGradient><linearGradient id="h101"><stop offset="0.000" stop-color="#ffffff"/><stop offset="0.050" stop-color="#ffffff"/><stop offset="0.133" stop-color="#abc9c9"/><stop offset="0.500" stop-color="#c7dbdb"/><stop offset="0.667" stop-color="#abc9c9"/><stop offset="1.000" stop-color="#b9d2d2"/></linearGradient><linearGradient id="h102"><stop offset="0.000" stop-color="#c7dbdb"/><stop offset="0.333" stop-color="#d5e4e4"/><stop offset="0.417" stop-color="#ffffff"/><stop offset="1.000" stop-color="#ffffff"/></linearGradient><linearGradient id="h103"><stop offset="0.000" stop-color="#ffffff"/><stop offset="0.083" stop-color="#ffffff"/><stop offset="0.167" stop-color="#b9d2d2"/><stop offset="1.000" stop-color="#c7dbdb"/></linearGradient><linearGradient id="h104"><stop offset="0.000" stop-color="#ffffff"/><stop offset="0.017" stop-color="#ffffff"/><stop offset="0.100" stop-color="#abc9c9"/><stop offset="0.333" stop-color="#b9d2d2"/><stop offset="0.417" stop-color="#ffffff"/><stop offset="1.000" stop-color="#ffffff"/></linearGradient><linearGradient id="h105"><stop offset="0.000" stop-color="#6b748a"/><stop offset="0.200" stop-color="#7c8d9c"/><stop offset="0.500" stop-color="#b9d2d2"/><stop offset="0.583" stop-color="#ffffff"/><stop offset="1.000" stop-color="#ffffff"/></linearGradient><linearGradient id="h106"><stop offset="0.000" stop-color="#ffffff"/><stop offset="0.750" stop-color="#ffffff"/><stop offset="0.833" stop-color="#8ea5ae"/><stop offset="1.000" stop-color="#8ea5ae"/></linearGradient><linearGradient id="h107"><stop offset="0.000" stop-color="#a0bec0"/><stop offset="0.250" stop-color="#abc9c9"/><stop offset="0.500" stop-color="#e3eded"/><stop offset="0.583" stop-color="#ffffff"/><stop offset="1.000" stop-color="#ffffff"/></linearGradient><linearGradient id="h108"><stop offset="0.000" stop-color="#ffffff"/><stop offset="0.000" stop-color="#ffffff"/><stop offset="0.083" stop-color="#748093"/><stop offset="0.667" stop-color="#8599a5"/><stop offset="0.767" stop-color="#ffffff"/><stop offset="1.000" stop-color="#ffffff"/></linearGradient><linearGradient id="cbar" x1="0" y1="0" x2="0" y2="1"><stop offset="0" stop-color="#000"/><stop offset="0.4" stop-color="#545474"/><stop offset="0.7" stop-color="#a6c6c6"/><stop offset="1" stop-color="#fff"/></linearGradient><radialGradient id="pg2" cx="137.9" cy="1193.8" r="62" gradientUnits="userSpaceOnUse"><stop offset="0" stop-color="#ffffff"/><stop offset="0.25" stop-color="#ececec"/><stop offset="0.6" stop-color="#cbcbcc"/><stop offset="1" stop-color="#a6a6a8"/></radialGradient><linearGradient id="lg11" x1="0" y1="0" x2="0" y2="1"><stop offset="0" stop-color="#9a9a9a"/><stop offset="1" stop-color="#f4f4f4"/></linearGradient><linearGradient id="h109"><stop offset="0.000" stop-color="#ffffff"/><stop offset="0.505" stop-color="#ffffff"/><stop offset="0.605" stop-color="#dae7e7"/><stop offset="0.880" stop-color="#e1ecec"/><stop offset="0.980" stop-color="#ffffff"/><stop offset="1.000" stop-color="#ffffff"/></linearGradient><linearGradient id="h110"><stop offset="0.000" stop-color="#ffffff"/><stop offset="0.666" stop-color="#ffffff"/><stop offset="0.766" stop-color="#d8e6e6"/><stop offset="0.879" stop-color="#e0ebeb"/><stop offset="0.979" stop-color="#ffffff"/><stop offset="1.000" stop-color="#ffffff"/></linearGradient><linearGradient id="h111"><stop offset="0.000" stop-color="#ffffff"/><stop offset="0.053" stop-color="#ffffff"/><stop offset="0.153" stop-color="#e2eded"/><stop offset="0.359" stop-color="#e8f0f0"/><stop offset="0.459" stop-color="#ffffff"/><stop offset="1.000" stop-color="#ffffff"/></linearGradient><linearGradient id="h112"><stop offset="0.000" stop-color="#ffffff"/><stop offset="0.223" stop-color="#ffffff"/><stop offset="0.323" stop-color="#f2f7f7"/><stop offset="0.362" stop-color="#f5f8f8"/><stop offset="0.462" stop-color="#ffffff"/><stop offset="1.000" stop-color="#ffffff"/></linearGradient><linearGradient id="h113"><stop offset="0.000" stop-color="#ffffff"/><stop offset="0.092" stop-color="#ffffff"/><stop offset="0.192" stop-color="#deeaea"/><stop offset="0.363" stop-color="#e5eeee"/><stop offset="0.463" stop-color="#ffffff"/><stop offset="1.000" stop-color="#ffffff"/></linearGradient><linearGradient id="h114"><stop offset="0.000" stop-color="#ffffff"/><stop offset="0.615" stop-color="#ffffff"/><stop offset="0.715" stop-color="#dbe8e8"/><stop offset="1.000" stop-color="#e2ecec"/><stop offset="1.000" stop-color="#ffffff"/></linearGradient><linearGradient id="h115"><stop offset="0.000" stop-color="#ffffff"/><stop offset="0.334" stop-color="#ffffff"/><stop offset="0.434" stop-color="#eff5f5"/><stop offset="0.732" stop-color="#f2f7f7"/><stop offset="0.832" stop-color="#ffffff"/><stop offset="1.000" stop-color="#ffffff"/></linearGradient><linearGradient id="h116"><stop offset="0.000" stop-color="#ffffff"/><stop offset="0.054" stop-color="#ffffff"/><stop offset="0.154" stop-color="#dde9e9"/><stop offset="0.536" stop-color="#e4eeee"/><stop offset="0.636" stop-color="#ffffff"/><stop offset="1.000" stop-color="#ffffff"/></linearGradient><linearGradient id="h117"><stop offset="0.000" stop-color="#ffffff"/><stop offset="0.024" stop-color="#e2ecec"/><stop offset="0.059" stop-color="#e8f0f0"/><stop offset="0.159" stop-color="#ffffff"/><stop offset="1.000" stop-color="#ffffff"/></linearGradient><linearGradient id="h118"><stop offset="0.000" stop-color="#ffffff"/><stop offset="0.003" stop-color="#ffffff"/><stop offset="0.103" stop-color="#f0f6f6"/><stop offset="0.226" stop-color="#f3f7f7"/><stop offset="0.326" stop-color="#ffffff"/><stop offset="1.000" stop-color="#ffffff"/></linearGradient><linearGradient id="h119"><stop offset="0.000" stop-color="#ffffff"/><stop offset="0.362" stop-color="#ffffff"/><stop offset="0.462" stop-color="#e5eeee"/><stop offset="0.710" stop-color="#eaf1f1"/><stop offset="0.810" stop-color="#ffffff"/><stop offset="1.000" stop-color="#ffffff"/></linearGradient><linearGradient id="h120"><stop offset="0.000" stop-color="#ffffff"/><stop offset="0.700" stop-color="#ffffff"/><stop offset="0.800" stop-color="#dde9e9"/><stop offset="1.000" stop-color="#e4eded"/><stop offset="1.000" stop-color="#ffffff"/></linearGradient><linearGradient id="h121"><stop offset="0.000" stop-color="#ffffff"/><stop offset="0.472" stop-color="#ffffff"/><stop offset="0.572" stop-color="#dfeaea"/><stop offset="1.000" stop-color="#e5eeee"/><stop offset="1.000" stop-color="#ffffff"/></linearGradient><linearGradient id="h122"><stop offset="0.000" stop-color="#ffffff"/><stop offset="0.453" stop-color="#ffffff"/><stop offset="0.553" stop-color="#e0ebeb"/><stop offset="0.660" stop-color="#e6efef"/><stop offset="0.760" stop-color="#ffffff"/><stop offset="1.000" stop-color="#ffffff"/></linearGradient><linearGradient id="h123"><stop offset="0.000" stop-color="#ffffff"/><stop offset="0.000" stop-color="#ffffff"/><stop offset="0.058" stop-color="#e6efef"/><stop offset="0.113" stop-color="#ebf2f2"/><stop offset="0.213" stop-color="#ffffff"/><stop offset="1.000" stop-color="#ffffff"/></linearGradient><linearGradient id="h124"><stop offset="0.000" stop-color="#ffffff"/><stop offset="0.516" stop-color="#ffffff"/><stop offset="0.616" stop-color="#e6efef"/><stop offset="0.954" stop-color="#ebf2f2"/><stop offset="1.000" stop-color="#ffffff"/></linearGradient><linearGradient id="h125"><stop offset="0.000" stop-color="#ffffff"/><stop offset="0.282" stop-color="#ffffff"/><stop offset="0.382" stop-color="#e5eeee"/><stop offset="0.438" stop-color="#eaf1f1"/><stop offset="0.538" stop-color="#ffffff"/><stop offset="1.000" stop-color="#ffffff"/></linearGradient><linearGradient id="h126"><stop offset="0.000" stop-color="#ffffff"/><stop offset="0.474" stop-color="#ffffff"/><stop offset="0.574" stop-color="#ebf2f2"/><stop offset="1.000" stop-color="#eff5f5"/><stop offset="1.000" stop-color="#ffffff"/></linearGradient><linearGradient id="h127"><stop offset="0.000" stop-color="#ffffff"/><stop offset="0.110" stop-color="#ffffff"/><stop offset="0.210" stop-color="#f2f6f6"/><stop offset="0.660" stop-color="#f4f8f8"/><stop offset="0.760" stop-color="#ffffff"/><stop offset="1.000" stop-color="#ffffff"/></linearGradient><linearGradient id="h128"><stop offset="0.000" stop-color="#ffffff"/><stop offset="0.530" stop-color="#ffffff"/><stop offset="0.630" stop-color="#dce9e9"/><stop offset="1.000" stop-color="#e3eded"/><stop offset="1.000" stop-color="#ffffff"/></linearGradient><linearGradient id="h129"><stop offset="0.000" stop-color="#ffffff"/><stop offset="0.357" stop-color="#ffffff"/><stop offset="0.457" stop-color="#dce8e8"/><stop offset="0.648" stop-color="#e3eded"/><stop offset="0.748" stop-color="#ffffff"/><stop offset="1.000" stop-color="#ffffff"/></linearGradient><linearGradient id="h130"><stop offset="0.000" stop-color="#ffffff"/><stop offset="0.041" stop-color="#ffffff"/><stop offset="0.141" stop-color="#f2f6f6"/><stop offset="0.377" stop-color="#f4f8f8"/><stop offset="0.477" stop-color="#ffffff"/><stop offset="1.000" stop-color="#ffffff"/></linearGradient><linearGradient id="h131"><stop offset="0.000" stop-color="#ffffff"/><stop offset="0.486" stop-color="#ffffff"/><stop offset="0.586" stop-color="#eff5f5"/><stop offset="0.783" stop-color="#f2f7f7"/><stop offset="0.883" stop-color="#ffffff"/><stop offset="1.000" stop-color="#ffffff"/></linearGradient><linearGradient id="h132"><stop offset="0.000" stop-color="#ffffff"/><stop offset="0.563" stop-color="#ffffff"/><stop offset="0.663" stop-color="#e5eeee"/><stop offset="1.000" stop-color="#eaf1f1"/><stop offset="1.000" stop-color="#ffffff"/></linearGradient><linearGradient id="h133"><stop offset="0.000" stop-color="#ffffff"/><stop offset="0.446" stop-color="#ffffff"/><stop offset="0.546" stop-color="#dae7e7"/><stop offset="0.833" stop-color="#e2ecec"/><stop offset="0.933" stop-color="#ffffff"/><stop offset="1.000" stop-color="#ffffff"/></linearGradient><linearGradient id="h134"><stop offset="0.000" stop-color="#ffffff"/><stop offset="0.277" stop-color="#ffffff"/><stop offset="0.377" stop-color="#f2f7f7"/><stop offset="0.893" stop-color="#f5f8f8"/><stop offset="0.993" stop-color="#ffffff"/><stop offset="1.000" stop-color="#ffffff"/></linearGradient><linearGradient id="h135"><stop offset="0.000" stop-color="#ffffff"/><stop offset="0.547" stop-color="#ffffff"/><stop offset="0.647" stop-color="#e6efef"/><stop offset="0.812" stop-color="#ebf2f2"/><stop offset="0.912" stop-color="#ffffff"/><stop offset="1.000" stop-color="#ffffff"/></linearGradient><linearGradient id="h136"><stop offset="0.000" stop-color="#ffffff"/><stop offset="0.103" stop-color="#ffffff"/><stop offset="0.203" stop-color="#eaf2f2"/><stop offset="0.295" stop-color="#eef4f4"/><stop offset="0.395" stop-color="#ffffff"/><stop offset="1.000" stop-color="#ffffff"/></linearGradient><linearGradient id="h137"><stop offset="0.000" stop-color="#ffffff"/><stop offset="0.479" stop-color="#ffffff"/><stop offset="0.579" stop-color="#f2f7f7"/><stop offset="1.000" stop-color="#f5f8f8"/><stop offset="1.000" stop-color="#ffffff"/></linearGradient><linearGradient id="h138"><stop offset="0.000" stop-color="#ffffff"/><stop offset="0.342" stop-color="#ffffff"/><stop offset="0.442" stop-color="#e6efef"/><stop offset="0.816" stop-color="#ebf2f2"/><stop offset="0.916" stop-color="#ffffff"/><stop offset="1.000" stop-color="#ffffff"/></linearGradient><linearGradient id="h139"><stop offset="0.000" stop-color="#b9d2d2"/><stop offset="0.333" stop-color="#d5e4e4"/><stop offset="0.417" stop-color="#edf3f3"/><stop offset="0.500" stop-color="#ffffff"/><stop offset="1.000" stop-color="#ffffff"/></linearGradient><linearGradient id="h140"><stop offset="0.000" stop-color="#ffffff"/><stop offset="0.100" stop-color="#ffffff"/><stop offset="0.183" stop-color="#a7c7c7"/><stop offset="0.333" stop-color="#b9d2d2"/><stop offset="0.433" stop-color="#ffffff"/><stop offset="1.000" stop-color="#ffffff"/></linearGradient><linearGradient id="h141"><stop offset="0.000" stop-color="#ffffff"/><stop offset="0.800" stop-color="#ffffff"/><stop offset="0.883" stop-color="#6f7a8f"/><stop offset="1.000" stop-color="#6f7a8f"/></linearGradient><linearGradient id="h142"><stop offset="0.000" stop-color="#ffffff"/><stop offset="0.583" stop-color="#ffffff"/><stop offset="0.667" stop-color="#4e4e6c"/><stop offset="0.917" stop-color="#646b84"/><stop offset="1.000" stop-color="#ffffff"/><stop offset="1.000" stop-color="#ffffff"/></linearGradient><linearGradient id="h143"><stop offset="0.000" stop-color="#cadddd"/><stop offset="0.167" stop-color="#dce8e8"/><stop offset="0.250" stop-color="#ffffff"/><stop offset="1.000" stop-color="#ffffff"/></linearGradient><linearGradient id="h144"><stop offset="0.000" stop-color="#595c79"/><stop offset="0.083" stop-color="#6f7a8f"/><stop offset="0.133" stop-color="#9cb8bc"/><stop offset="0.167" stop-color="#42425d"/><stop offset="0.333" stop-color="#595c79"/><stop offset="0.500" stop-color="#d5e4e4"/><stop offset="0.600" stop-color="#ffffff"/><stop offset="1.000" stop-color="#ffffff"/></linearGradient><linearGradient id="h145"><stop offset="0.000" stop-color="#ffffff"/><stop offset="0.500" stop-color="#ffffff"/><stop offset="0.583" stop-color="#b9d2d2"/><stop offset="1.000" stop-color="#b9d2d2"/></linearGradient><linearGradient id="h146"><stop offset="0.000" stop-color="#cadddd"/><stop offset="0.250" stop-color="#dce8e8"/><stop offset="0.333" stop-color="#ffffff"/><stop offset="1.000" stop-color="#ffffff"/></linearGradient><linearGradient id="h147"><stop offset="0.000" stop-color="#91a8b0"/><stop offset="0.117" stop-color="#8599a5"/><stop offset="0.167" stop-color="#6f7a8f"/><stop offset="0.333" stop-color="#7a8a9a"/><stop offset="0.417" stop-color="#cadddd"/><stop offset="0.517" stop-color="#ffffff"/><stop offset="1.000" stop-color="#ffffff"/></linearGradient><linearGradient id="h148"><stop offset="0.000" stop-color="#ffffff"/><stop offset="0.133" stop-color="#ffffff"/><stop offset="0.217" stop-color="#4e4e6c"/><stop offset="0.333" stop-color="#595c79"/><stop offset="0.667" stop-color="#dce8e8"/><stop offset="0.750" stop-color="#ffffff"/><stop offset="1.000" stop-color="#ffffff"/></linearGradient><linearGradient id="h149"><stop offset="0.000" stop-color="#a7c7c7"/><stop offset="0.250" stop-color="#b9d2d2"/><stop offset="0.333" stop-color="#ffffff"/><stop offset="1.000" stop-color="#ffffff"/></linearGradient><linearGradient id="h150"><stop offset="0.000" stop-color="#ffffff"/><stop offset="0.017" stop-color="#ffffff"/><stop offset="0.100" stop-color="#646b84"/><stop offset="0.250" stop-color="#6f7a8f"/><stop offset="0.500" stop-color="#dce8e8"/><stop offset="0.600" stop-color="#ffffff"/><stop offset="1.000" stop-color="#ffffff"/></linearGradient><linearGradient id="h151"><stop offset="0.000" stop-color="#91a8b0"/><stop offset="0.333" stop-color="#9cb8bc"/><stop offset="0.417" stop-color="#a7c7c7"/><stop offset="0.517" stop-color="#ffffff"/><stop offset="1.000" stop-color="#ffffff"/></linearGradient><linearGradient id="h152"><stop offset="0.000" stop-color="#6f7a8f"/><stop offset="0.167" stop-color="#7a8a9a"/><stop offset="0.200" stop-color="#595c79"/><stop offset="0.333" stop-color="#646b84"/><stop offset="0.417" stop-color="#b9d2d2"/><stop offset="0.517" stop-color="#ffffff"/><stop offset="1.000" stop-color="#ffffff"/></linearGradient><linearGradient id="h153"><stop offset="0.000" stop-color="#cadddd"/><stop offset="0.167" stop-color="#dce8e8"/><stop offset="0.250" stop-color="#ffffff"/><stop offset="1.000" stop-color="#ffffff"/></linearGradient><linearGradient id="h154"><stop offset="0.000" stop-color="#9cb8bc"/><stop offset="0.333" stop-color="#a7c7c7"/><stop offset="0.417" stop-color="#ffffff"/><stop offset="1.000" stop-color="#ffffff"/></linearGradient><linearGradient id="h155"><stop offset="0.000" stop-color="#8599a5"/><stop offset="0.250" stop-color="#91a8b0"/><stop offset="0.333" stop-color="#ffffff"/><stop offset="1.000" stop-color="#ffffff"/></linearGradient><linearGradient id="h156"><stop offset="0.000" stop-color="#9cb8bc"/><stop offset="0.033" stop-color="#21212e"/><stop offset="0.200" stop-color="#2c2c3e"/><stop offset="0.417" stop-color="#7a8a9a"/><stop offset="0.750" stop-color="#a7c7c7"/><stop offset="0.883" stop-color="#ffffff"/><stop offset="1.000" stop-color="#ffffff"/></linearGradient><linearGradient id="h157"><stop offset="0.000" stop-color="#595c79"/><stop offset="0.250" stop-color="#6f7a8f"/><stop offset="0.333" stop-color="#ffffff"/><stop offset="1.000" stop-color="#ffffff"/></linearGradient><linearGradient id="h158"><stop offset="0.000" stop-color="#ffffff"/><stop offset="0.817" stop-color="#ffffff"/><stop offset="0.900" stop-color="#6f7a8f"/><stop offset="1.000" stop-color="#646b84"/></linearGradient><linearGradient id="h159"><stop offset="0.000" stop-color="#ffffff"/><stop offset="0.167" stop-color="#ffffff"/><stop offset="0.250" stop-color="#6f7a8f"/><stop offset="0.367" stop-color="#7a8a9a"/><stop offset="0.450" stop-color="#ffffff"/><stop offset="1.000" stop-color="#ffffff"/></linearGradient><linearGradient id="h160"><stop offset="0.000" stop-color="#6f7a8f"/><stop offset="0.117" stop-color="#7a8a9a"/><stop offset="0.200" stop-color="#ffffff"/><stop offset="1.000" stop-color="#ffffff"/></linearGradient><linearGradient id="h161"><stop offset="0.000" stop-color="#8599a5"/><stop offset="0.250" stop-color="#91a8b0"/><stop offset="0.333" stop-color="#ffffff"/><stop offset="1.000" stop-color="#ffffff"/></linearGradient><linearGradient id="h162"><stop offset="0.000" stop-color="#646b84"/><stop offset="0.083" stop-color="#6f7a8f"/><stop offset="0.167" stop-color="#ffffff"/><stop offset="1.000" stop-color="#ffffff"/></linearGradient><linearGradient id="h163"><stop offset="0.000" stop-color="#ffffff"/><stop offset="0.000" stop-color="#ffffff"/><stop offset="0.083" stop-color="#8599a5"/><stop offset="0.333" stop-color="#91a8b0"/><stop offset="0.417" stop-color="#ffffff"/><stop offset="1.000" stop-color="#ffffff"/></linearGradient><linearGradient id="h164"><stop offset="0.000" stop-color="#ffffff"/><stop offset="0.000" stop-color="#ffffff"/><stop offset="0.083" stop-color="#37374d"/><stop offset="0.250" stop-color="#42425d"/><stop offset="0.333" stop-color="#8599a5"/><stop offset="0.500" stop-color="#dce8e8"/><stop offset="0.600" stop-color="#ffffff"/><stop offset="1.000" stop-color="#ffffff"/></linearGradient><linearGradient id="h165"><stop offset="0.000" stop-color="#ffffff"/><stop offset="0.000" stop-color="#ffffff"/><stop offset="0.083" stop-color="#9cb8bc"/><stop offset="0.333" stop-color="#a7c7c7"/><stop offset="0.417" stop-color="#ffffff"/><stop offset="1.000" stop-color="#ffffff"/></linearGradient><linearGradient id="h166"><stop offset="0.000" stop-color="#ffffff"/><stop offset="0.050" stop-color="#ffffff"/><stop offset="0.133" stop-color="#2c2c3e"/><stop offset="0.333" stop-color="#37374d"/><stop offset="0.417" stop-color="#8599a5"/><stop offset="0.517" stop-color="#ffffff"/><stop offset="1.000" stop-color="#ffffff"/></linearGradient><linearGradient id="h167"><stop offset="0.000" stop-color="#ffffff"/><stop offset="0.050" stop-color="#ffffff"/><stop offset="0.133" stop-color="#2c2c3e"/><stop offset="0.333" stop-color="#2c2c3e"/><stop offset="0.433" stop-color="#ffffff"/><stop offset="1.000" stop-color="#ffffff"/></linearGradient><linearGradient id="h168"><stop offset="0.000" stop-color="#fefefe"/><stop offset="0.323" stop-color="#fafcfc"/><stop offset="0.387" stop-color="#d7e6e5"/><stop offset="0.419" stop-color="#a2c1c2"/><stop offset="0.484" stop-color="#3d3d55"/><stop offset="0.516" stop-color="#292939"/><stop offset="0.581" stop-color="#222230"/><stop offset="0.645" stop-color="#030305"/><stop offset="0.742" stop-color="#000000"/><stop offset="0.774" stop-color="#181822"/><stop offset="0.806" stop-color="#43435e"/><stop offset="0.839" stop-color="#616781"/><stop offset="1.000" stop-color="#748193"/></linearGradient><linearGradient id="h169"><stop offset="0.000" stop-color="#e9f1f1"/><stop offset="0.161" stop-color="#c9dcdc"/><stop offset="0.290" stop-color="#f0f5f5"/><stop offset="0.387" stop-color="#dbe8e8"/><stop offset="0.419" stop-color="#a3c1c2"/><stop offset="0.452" stop-color="#6b748b"/><stop offset="0.484" stop-color="#454560"/><stop offset="0.516" stop-color="#4e4e6c"/><stop offset="0.548" stop-color="#6b748a"/><stop offset="0.613" stop-color="#6d788d"/><stop offset="0.742" stop-color="#646b84"/><stop offset="0.839" stop-color="#42425c"/><stop offset="1.000" stop-color="#494966"/></linearGradient><linearGradient id="h170"><stop offset="0.000" stop-color="#a9c8c8"/><stop offset="0.065" stop-color="#8699a6"/><stop offset="0.129" stop-color="#606680"/><stop offset="0.194" stop-color="#6b758b"/><stop offset="0.355" stop-color="#d9e6e6"/><stop offset="0.387" stop-color="#bfd6d6"/><stop offset="0.452" stop-color="#666d86"/><stop offset="0.516" stop-color="#1a1924"/><stop offset="0.548" stop-color="#060608"/><stop offset="0.677" stop-color="#030305"/><stop offset="0.903" stop-color="#060609"/><stop offset="1.000" stop-color="#1f1f2b"/></linearGradient><linearGradient id="h171"><stop offset="0.000" stop-color="#fefefe"/><stop offset="0.355" stop-color="#f6f9f9"/><stop offset="0.387" stop-color="#e7efef"/><stop offset="0.419" stop-color="#c7dbdb"/><stop offset="0.484" stop-color="#778496"/><stop offset="0.516" stop-color="#646b84"/><stop offset="0.581" stop-color="#5c607c"/><stop offset="0.710" stop-color="#7d8e9d"/><stop offset="0.871" stop-color="#5f647e"/><stop offset="1.000" stop-color="#666e86"/></linearGradient><linearGradient id="h172"><stop offset="0.000" stop-color="#c4d9d9"/><stop offset="0.065" stop-color="#8498a4"/><stop offset="0.129" stop-color="#494865"/><stop offset="0.161" stop-color="#3f3f58"/><stop offset="0.194" stop-color="#4e4e6c"/><stop offset="0.258" stop-color="#879ba7"/><stop offset="0.452" stop-color="#ecf3f3"/><stop offset="0.548" stop-color="#f1f6f6"/><stop offset="0.613" stop-color="#d4e3e3"/><stop offset="0.710" stop-color="#8193a0"/><stop offset="0.806" stop-color="#6a748a"/><stop offset="0.968" stop-color="#595c78"/><stop offset="1.000" stop-color="#5e627d"/></linearGradient><linearGradient id="h173"><stop offset="0.000" stop-color="#fefefe"/><stop offset="0.290" stop-color="#f7fafa"/><stop offset="0.355" stop-color="#cfe0e0"/><stop offset="0.387" stop-color="#99b5b9"/><stop offset="0.452" stop-color="#20202d"/><stop offset="0.484" stop-color="#000000"/><stop offset="1.000" stop-color="#000000"/></linearGradient><linearGradient id="h174"><stop offset="0.000" stop-color="#fefefe"/><stop offset="0.323" stop-color="#f7fafa"/><stop offset="0.387" stop-color="#d0e1e1"/><stop offset="0.419" stop-color="#9fbcbf"/><stop offset="0.484" stop-color="#2e2e41"/><stop offset="0.516" stop-color="#000000"/><stop offset="0.774" stop-color="#000000"/><stop offset="0.806" stop-color="#2e2e40"/><stop offset="0.839" stop-color="#4f4f6e"/><stop offset="0.871" stop-color="#505070"/><stop offset="0.935" stop-color="#000000"/><stop offset="1.000" stop-color="#000000"/></linearGradient><linearGradient id="h175"><stop offset="0.000" stop-color="#d7e5e5"/><stop offset="0.161" stop-color="#ebf2f2"/><stop offset="0.290" stop-color="#e4eded"/><stop offset="0.323" stop-color="#ecf3f3"/><stop offset="0.387" stop-color="#b8d1d1"/><stop offset="0.452" stop-color="#707b8f"/><stop offset="0.516" stop-color="#09090d"/><stop offset="0.581" stop-color="#000000"/><stop offset="0.645" stop-color="#060608"/><stop offset="0.677" stop-color="#22222f"/><stop offset="0.710" stop-color="#302f42"/><stop offset="0.903" stop-color="#15151d"/><stop offset="0.968" stop-color="#000000"/><stop offset="1.000" stop-color="#010101"/></linearGradient><linearGradient id="h176"><stop offset="0.000" stop-color="#fefefe"/><stop offset="0.484" stop-color="#f6f9f9"/><stop offset="0.581" stop-color="#c0d7d6"/><stop offset="0.645" stop-color="#9bb7bb"/><stop offset="0.742" stop-color="#889da8"/><stop offset="0.839" stop-color="#4c4c6a"/><stop offset="0.968" stop-color="#565775"/><stop offset="1.000" stop-color="#5e637e"/></linearGradient><linearGradient id="h177"><stop offset="0.000" stop-color="#e9f1f1"/><stop offset="0.355" stop-color="#ebf2f2"/><stop offset="0.387" stop-color="#d8e6e6"/><stop offset="0.419" stop-color="#a7c6c6"/><stop offset="0.484" stop-color="#494966"/><stop offset="0.516" stop-color="#2c2c3d"/><stop offset="0.581" stop-color="#191923"/><stop offset="0.613" stop-color="#252533"/><stop offset="0.677" stop-color="#565876"/><stop offset="0.710" stop-color="#626982"/><stop offset="0.774" stop-color="#545574"/><stop offset="0.871" stop-color="#3a3a51"/><stop offset="0.935" stop-color="#0d0d12"/><stop offset="0.968" stop-color="#000000"/><stop offset="1.000" stop-color="#000000"/></linearGradient><linearGradient id="h178"><stop offset="0.000" stop-color="#e1ecec"/><stop offset="0.065" stop-color="#aac8c8"/><stop offset="0.129" stop-color="#768496"/><stop offset="0.161" stop-color="#6d788d"/><stop offset="0.194" stop-color="#758294"/><stop offset="0.323" stop-color="#d7e5e5"/><stop offset="0.355" stop-color="#dce9e9"/><stop offset="0.387" stop-color="#b0cccc"/><stop offset="0.452" stop-color="#5b5f7b"/><stop offset="0.484" stop-color="#474763"/><stop offset="0.613" stop-color="#3b3a52"/><stop offset="0.710" stop-color="#171720"/><stop offset="0.742" stop-color="#1c1c27"/><stop offset="0.839" stop-color="#4f4e6d"/><stop offset="0.871" stop-color="#4f4e6d"/><stop offset="0.903" stop-color="#38384e"/><stop offset="0.935" stop-color="#14141d"/><stop offset="0.968" stop-color="#000000"/><stop offset="1.000" stop-color="#000000"/></linearGradient><linearGradient id="h179"><stop offset="0.000" stop-color="#fefefe"/><stop offset="0.323" stop-color="#f2f7f7"/><stop offset="0.355" stop-color="#deeaea"/><stop offset="0.387" stop-color="#aecbcb"/><stop offset="0.452" stop-color="#333347"/><stop offset="0.484" stop-color="#1a1a24"/><stop offset="0.548" stop-color="#4b4b69"/><stop offset="0.581" stop-color="#515171"/><stop offset="0.710" stop-color="#38384d"/><stop offset="0.871" stop-color="#4f4e6d"/><stop offset="1.000" stop-color="#4c4c6a"/></linearGradient><linearGradient id="h180"><stop offset="0.000" stop-color="#96b0b6"/><stop offset="0.097" stop-color="#768496"/><stop offset="0.226" stop-color="#7e8e9d"/><stop offset="0.355" stop-color="#e2ecec"/><stop offset="0.387" stop-color="#f0f5f5"/><stop offset="0.419" stop-color="#e6efef"/><stop offset="0.452" stop-color="#c4d9d9"/><stop offset="0.484" stop-color="#879ba7"/><stop offset="0.516" stop-color="#38384e"/><stop offset="0.548" stop-color="#000000"/><stop offset="0.613" stop-color="#000000"/><stop offset="0.645" stop-color="#1a1a25"/><stop offset="0.677" stop-color="#525272"/><stop offset="0.710" stop-color="#6d788d"/><stop offset="0.839" stop-color="#8ea5ae"/><stop offset="0.871" stop-color="#8ea5ae"/><stop offset="0.968" stop-color="#5f647e"/><stop offset="1.000" stop-color="#5c607b"/></linearGradient><linearGradient id="h181"><stop offset="0.000" stop-color="#fefefe"/><stop offset="0.355" stop-color="#f9fbfb"/><stop offset="0.419" stop-color="#dfebeb"/><stop offset="0.452" stop-color="#b8d1d1"/><stop offset="0.548" stop-color="#252534"/><stop offset="0.613" stop-color="#000000"/><stop offset="1.000" stop-color="#000000"/></linearGradient><linearGradient id="h182"><stop offset="0.000" stop-color="#889da8"/><stop offset="0.129" stop-color="#636a83"/><stop offset="0.226" stop-color="#4f4f6e"/><stop offset="0.258" stop-color="#50506f"/><stop offset="0.323" stop-color="#7e8f9e"/><stop offset="0.387" stop-color="#bcd4d4"/><stop offset="0.452" stop-color="#e8f0f0"/><stop offset="0.548" stop-color="#f9fbfb"/><stop offset="0.645" stop-color="#e0ebeb"/><stop offset="0.742" stop-color="#97b2b7"/><stop offset="0.839" stop-color="#646b84"/><stop offset="0.903" stop-color="#616680"/><stop offset="1.000" stop-color="#7a8999"/></linearGradient><linearGradient id="h183"><stop offset="0.000" stop-color="#8599a5"/><stop offset="0.065" stop-color="#404059"/><stop offset="0.097" stop-color="#2a2a3b"/><stop offset="0.129" stop-color="#20202d"/><stop offset="0.161" stop-color="#262635"/><stop offset="0.194" stop-color="#4a4a67"/><stop offset="0.258" stop-color="#a4c2c3"/><stop offset="0.323" stop-color="#d8e6e6"/><stop offset="0.387" stop-color="#eef4f4"/><stop offset="0.419" stop-color="#e2edec"/><stop offset="0.452" stop-color="#c0d7d7"/><stop offset="0.548" stop-color="#464662"/><stop offset="0.613" stop-color="#343448"/><stop offset="0.742" stop-color="#3b3b53"/><stop offset="0.839" stop-color="#656c85"/><stop offset="1.000" stop-color="#60657f"/></linearGradient><linearGradient id="h184"><stop offset="0.000" stop-color="#fefefe"/><stop offset="0.516" stop-color="#f3f7f7"/><stop offset="0.613" stop-color="#c1d7d7"/><stop offset="0.710" stop-color="#8193a1"/><stop offset="0.839" stop-color="#4e4e6d"/><stop offset="0.935" stop-color="#5a5d79"/><stop offset="1.000" stop-color="#6c768b"/></linearGradient><linearGradient id="h185"><stop offset="0.000" stop-color="#b1cdcd"/><stop offset="0.129" stop-color="#6c778c"/><stop offset="0.161" stop-color="#6c758b"/><stop offset="0.290" stop-color="#a7c6c6"/><stop offset="0.419" stop-color="#c7dbdb"/><stop offset="0.452" stop-color="#96b0b6"/><stop offset="0.516" stop-color="#313145"/><stop offset="0.548" stop-color="#111117"/><stop offset="0.581" stop-color="#050507"/><stop offset="0.613" stop-color="#13131b"/><stop offset="0.677" stop-color="#565876"/><stop offset="0.710" stop-color="#666e86"/><stop offset="0.742" stop-color="#5c607b"/><stop offset="0.806" stop-color="#0f0f15"/><stop offset="0.839" stop-color="#000000"/><stop offset="0.871" stop-color="#000000"/><stop offset="0.903" stop-color="#111118"/><stop offset="0.968" stop-color="#758395"/><stop offset="1.000" stop-color="#8a9faa"/></linearGradient><linearGradient id="h186"><stop offset="0.000" stop-color="#fefefe"/><stop offset="0.355" stop-color="#f3f7f7"/><stop offset="0.548" stop-color="#9bb7bb"/><stop offset="0.613" stop-color="#9bb6bb"/><stop offset="0.742" stop-color="#b4cfcf"/><stop offset="0.903" stop-color="#bdd5d5"/><stop offset="1.000" stop-color="#b2cece"/></linearGradient><linearGradient id="h187"><stop offset="0.000" stop-color="#fefefe"/><stop offset="0.355" stop-color="#f5f8f8"/><stop offset="0.387" stop-color="#e5eeee"/><stop offset="0.419" stop-color="#bfd6d5"/><stop offset="0.516" stop-color="#282838"/><stop offset="0.581" stop-color="#07070a"/><stop offset="0.710" stop-color="#030305"/><stop offset="0.742" stop-color="#121219"/><stop offset="0.806" stop-color="#778697"/><stop offset="0.839" stop-color="#9ebbbe"/><stop offset="0.871" stop-color="#a0bec0"/><stop offset="0.903" stop-color="#768395"/><stop offset="0.935" stop-color="#323246"/><stop offset="0.968" stop-color="#000000"/><stop offset="1.000" stop-color="#000000"/></linearGradient><linearGradient id="h188"><stop offset="0.000" stop-color="#a5c4c4"/><stop offset="0.065" stop-color="#727f92"/><stop offset="0.194" stop-color="#748194"/><stop offset="0.323" stop-color="#cfe0e0"/><stop offset="0.355" stop-color="#dfebeb"/><stop offset="0.387" stop-color="#adcbca"/><stop offset="0.452" stop-color="#39394f"/><stop offset="0.484" stop-color="#35354a"/><stop offset="0.548" stop-color="#8ea5ae"/><stop offset="0.581" stop-color="#97b2b7"/><stop offset="0.613" stop-color="#7b8a9b"/><stop offset="0.677" stop-color="#171720"/><stop offset="0.710" stop-color="#000000"/><stop offset="0.774" stop-color="#111118"/><stop offset="0.839" stop-color="#2c2c3d"/><stop offset="1.000" stop-color="#242433"/></linearGradient><linearGradient id="h189"><stop offset="0.000" stop-color="#fefefe"/><stop offset="0.387" stop-color="#f8fafa"/><stop offset="0.581" stop-color="#a5c5c5"/><stop offset="0.677" stop-color="#666e86"/><stop offset="0.742" stop-color="#4e4e6d"/><stop offset="0.806" stop-color="#08080b"/><stop offset="0.903" stop-color="#000000"/><stop offset="0.968" stop-color="#010101"/><stop offset="1.000" stop-color="#0f0f15"/></linearGradient><linearGradient id="h190"><stop offset="0.000" stop-color="#fefefe"/><stop offset="0.290" stop-color="#f6f9f9"/><stop offset="0.323" stop-color="#e8f0f0"/><stop offset="0.355" stop-color="#c8dcdc"/><stop offset="0.387" stop-color="#93acb3"/><stop offset="0.452" stop-color="#2d2d3e"/><stop offset="0.484" stop-color="#16161e"/><stop offset="0.871" stop-color="#000000"/><stop offset="0.903" stop-color="#000001"/><stop offset="1.000" stop-color="#282837"/></linearGradient><linearGradient id="h191"><stop offset="0.000" stop-color="#eaf1f1"/><stop offset="0.355" stop-color="#ebf2f2"/><stop offset="0.452" stop-color="#edf3f3"/><stop offset="0.581" stop-color="#c7dbdb"/><stop offset="0.677" stop-color="#788698"/><stop offset="0.839" stop-color="#42415b"/><stop offset="0.935" stop-color="#4f4f6e"/><stop offset="1.000" stop-color="#626982"/></linearGradient><linearGradient id="h192"><stop offset="0.000" stop-color="#f4f8f8"/><stop offset="0.161" stop-color="#b3cece"/><stop offset="0.226" stop-color="#98b3b8"/><stop offset="0.258" stop-color="#9bb7bb"/><stop offset="0.355" stop-color="#e2ecec"/><stop offset="0.387" stop-color="#e8f0f0"/><stop offset="0.419" stop-color="#cddfdf"/><stop offset="0.484" stop-color="#8496a3"/><stop offset="0.516" stop-color="#7a8a9a"/><stop offset="0.581" stop-color="#7b8b9b"/><stop offset="0.613" stop-color="#575977"/><stop offset="0.645" stop-color="#181822"/><stop offset="0.677" stop-color="#000000"/><stop offset="0.806" stop-color="#000000"/><stop offset="0.871" stop-color="#15151e"/><stop offset="0.903" stop-color="#2b2b3c"/><stop offset="0.968" stop-color="#6e788d"/><stop offset="1.000" stop-color="#7c8d9c"/></linearGradient><linearGradient id="h193"><stop offset="0.000" stop-color="#fefefe"/><stop offset="0.323" stop-color="#f8fafa"/><stop offset="0.355" stop-color="#ebf2f2"/><stop offset="0.387" stop-color="#cadddd"/><stop offset="0.452" stop-color="#626882"/><stop offset="0.516" stop-color="#000000"/><stop offset="0.613" stop-color="#000000"/><stop offset="0.677" stop-color="#6e798e"/><stop offset="0.710" stop-color="#8a9faa"/><stop offset="0.742" stop-color="#8396a3"/><stop offset="0.839" stop-color="#3d3d54"/><stop offset="0.871" stop-color="#37374d"/><stop offset="0.903" stop-color="#222230"/><stop offset="0.935" stop-color="#010102"/><stop offset="1.000" stop-color="#000000"/></linearGradient><linearGradient id="h194"><stop offset="0.000" stop-color="#768496"/><stop offset="0.065" stop-color="#676f87"/><stop offset="0.226" stop-color="#768496"/><stop offset="0.355" stop-color="#99b4b9"/><stop offset="0.419" stop-color="#c5dada"/><stop offset="0.452" stop-color="#b7d1d0"/><stop offset="0.516" stop-color="#5a5d7a"/><stop offset="0.548" stop-color="#393950"/><stop offset="0.581" stop-color="#282838"/><stop offset="0.645" stop-color="#2a2a3b"/><stop offset="0.710" stop-color="#343448"/><stop offset="0.774" stop-color="#232330"/><stop offset="0.839" stop-color="#08080b"/><stop offset="1.000" stop-color="#000000"/></linearGradient><linearGradient id="h195"><stop offset="0.000" stop-color="#edf3f3"/><stop offset="0.226" stop-color="#e8f0f0"/><stop offset="0.355" stop-color="#edf3f3"/><stop offset="0.387" stop-color="#cee0e0"/><stop offset="0.419" stop-color="#9ab5ba"/><stop offset="0.484" stop-color="#37374d"/><stop offset="0.516" stop-color="#171720"/><stop offset="0.581" stop-color="#000000"/><stop offset="0.710" stop-color="#1f1e2b"/><stop offset="0.871" stop-color="#292939"/><stop offset="1.000" stop-color="#60657f"/></linearGradient><linearGradient id="h196"><stop offset="0.000" stop-color="#f6f9f9"/><stop offset="0.065" stop-color="#dce9e9"/><stop offset="0.194" stop-color="#778597"/><stop offset="0.226" stop-color="#6c768c"/><stop offset="0.258" stop-color="#6d788d"/><stop offset="0.290" stop-color="#7e8e9e"/><stop offset="0.355" stop-color="#c0d6d6"/><stop offset="0.387" stop-color="#a0bdbf"/><stop offset="0.484" stop-color="#2e2e40"/><stop offset="0.548" stop-color="#0d0d12"/><stop offset="0.645" stop-color="#000000"/><stop offset="0.774" stop-color="#07070a"/><stop offset="0.806" stop-color="#4b4b69"/><stop offset="0.839" stop-color="#7b8a9a"/><stop offset="0.871" stop-color="#8294a1"/><stop offset="0.968" stop-color="#545574"/><stop offset="1.000" stop-color="#515171"/></linearGradient><linearGradient id="h197"><stop offset="0.000" stop-color="#fefefe"/><stop offset="0.323" stop-color="#f8fafa"/><stop offset="0.387" stop-color="#dce8e8"/><stop offset="0.419" stop-color="#b7d1d0"/><stop offset="0.516" stop-color="#343449"/><stop offset="0.548" stop-color="#1e1e2b"/><stop offset="0.613" stop-color="#15151d"/><stop offset="0.710" stop-color="#1c1c27"/><stop offset="0.774" stop-color="#000000"/><stop offset="0.935" stop-color="#000000"/><stop offset="1.000" stop-color="#20202d"/></linearGradient><linearGradient id="h198"><stop offset="0.000" stop-color="#fefefe"/><stop offset="0.419" stop-color="#f1f6f6"/><stop offset="0.452" stop-color="#e0ebeb"/><stop offset="0.484" stop-color="#b9d2d2"/><stop offset="0.548" stop-color="#6a748a"/><stop offset="0.677" stop-color="#2f2f42"/><stop offset="0.710" stop-color="#282838"/><stop offset="0.774" stop-color="#3c3c54"/><stop offset="0.839" stop-color="#5b5f7b"/><stop offset="0.871" stop-color="#5c617c"/><stop offset="0.968" stop-color="#2c2c3e"/><stop offset="1.000" stop-color="#2b2b3b"/></linearGradient><linearGradient id="h199"><stop offset="0.000" stop-color="#fefefe"/><stop offset="0.387" stop-color="#f4f8f8"/><stop offset="0.452" stop-color="#bed5d5"/><stop offset="0.516" stop-color="#7c8c9c"/><stop offset="0.581" stop-color="#676f86"/><stop offset="0.645" stop-color="#748194"/><stop offset="0.710" stop-color="#8599a5"/><stop offset="0.742" stop-color="#7e8f9e"/><stop offset="0.839" stop-color="#36364b"/><stop offset="0.903" stop-color="#252533"/><stop offset="0.968" stop-color="#010102"/><stop offset="1.000" stop-color="#010101"/></linearGradient><linearGradient id="h200"><stop offset="0.000" stop-color="#636983"/><stop offset="0.129" stop-color="#2e2e40"/><stop offset="0.226" stop-color="#3b3b52"/><stop offset="0.323" stop-color="#6b748a"/><stop offset="0.387" stop-color="#9db9bd"/><stop offset="0.419" stop-color="#aecbcb"/><stop offset="0.452" stop-color="#798798"/><stop offset="0.484" stop-color="#525272"/><stop offset="0.516" stop-color="#575976"/><stop offset="0.548" stop-color="#707c90"/><stop offset="0.581" stop-color="#748193"/><stop offset="0.613" stop-color="#545473"/><stop offset="0.645" stop-color="#1d1c28"/><stop offset="0.677" stop-color="#000000"/><stop offset="0.742" stop-color="#000000"/><stop offset="0.774" stop-color="#303043"/><stop offset="0.806" stop-color="#8ba1ab"/><stop offset="0.839" stop-color="#dee9e9"/><stop offset="0.871" stop-color="#e6efef"/><stop offset="0.903" stop-color="#9cb8bc"/><stop offset="0.968" stop-color="#050507"/><stop offset="1.000" stop-color="#000000"/></linearGradient><linearGradient id="h201"><stop offset="0.000" stop-color="#fefefe"/><stop offset="0.355" stop-color="#f9fbfb"/><stop offset="0.419" stop-color="#d7e5e5"/><stop offset="0.516" stop-color="#697188"/><stop offset="0.710" stop-color="#3d3c54"/><stop offset="0.774" stop-color="#4b4a68"/><stop offset="0.839" stop-color="#616781"/><stop offset="0.903" stop-color="#5a5d7a"/><stop offset="0.968" stop-color="#44445f"/><stop offset="1.000" stop-color="#454460"/></linearGradient><linearGradient id="h202"><stop offset="0.000" stop-color="#fefefe"/><stop offset="0.355" stop-color="#f6f9f9"/><stop offset="0.419" stop-color="#ccdede"/><stop offset="0.452" stop-color="#9ab6ba"/><stop offset="0.516" stop-color="#36364c"/><stop offset="0.548" stop-color="#181821"/><stop offset="0.581" stop-color="#0a0a0e"/><stop offset="0.613" stop-color="#121219"/><stop offset="0.677" stop-color="#41415b"/><stop offset="0.710" stop-color="#4d4d6b"/><stop offset="0.871" stop-color="#35354a"/><stop offset="0.935" stop-color="#000000"/><stop offset="1.000" stop-color="#000000"/></linearGradient><linearGradient id="h203"><stop offset="0.000" stop-color="#fefefe"/><stop offset="0.323" stop-color="#f2f6f6"/><stop offset="0.355" stop-color="#dce9e9"/><stop offset="0.387" stop-color="#aac9c9"/><stop offset="0.452" stop-color="#35354a"/><stop offset="0.484" stop-color="#1a1a24"/><stop offset="0.581" stop-color="#313144"/><stop offset="0.710" stop-color="#4c4c6a"/><stop offset="0.742" stop-color="#464561"/><stop offset="0.839" stop-color="#050507"/><stop offset="1.000" stop-color="#000000"/></linearGradient><linearGradient id="h204"><stop offset="0.000" stop-color="#a3c2c3"/><stop offset="0.032" stop-color="#8ca2ac"/><stop offset="0.065" stop-color="#8294a2"/><stop offset="0.129" stop-color="#8a9faa"/><stop offset="0.161" stop-color="#8599a5"/><stop offset="0.226" stop-color="#636982"/><stop offset="0.258" stop-color="#626882"/><stop offset="0.355" stop-color="#aecbcb"/><stop offset="0.387" stop-color="#b8d2d2"/><stop offset="0.419" stop-color="#7c8c9c"/><stop offset="0.452" stop-color="#36364b"/><stop offset="0.484" stop-color="#000000"/><stop offset="0.806" stop-color="#000000"/><stop offset="0.839" stop-color="#13131a"/><stop offset="0.871" stop-color="#181821"/><stop offset="0.903" stop-color="#040405"/><stop offset="1.000" stop-color="#000000"/></linearGradient><linearGradient id="h205"><stop offset="0.000" stop-color="#555675"/><stop offset="0.129" stop-color="#3e3e56"/><stop offset="0.194" stop-color="#4a4a67"/><stop offset="0.323" stop-color="#91a9b1"/><stop offset="0.387" stop-color="#cedfdf"/><stop offset="0.419" stop-color="#ccdede"/><stop offset="0.484" stop-color="#8fa6ae"/><stop offset="0.581" stop-color="#97b2b7"/><stop offset="0.677" stop-color="#616781"/><stop offset="0.742" stop-color="#50506f"/><stop offset="0.839" stop-color="#08070b"/><stop offset="0.871" stop-color="#060609"/><stop offset="0.903" stop-color="#191922"/><stop offset="0.968" stop-color="#525271"/><stop offset="1.000" stop-color="#60657f"/></linearGradient><linearGradient id="h206"><stop offset="0.000" stop-color="#fefefe"/><stop offset="0.323" stop-color="#fafbfb"/><stop offset="0.387" stop-color="#dbe8e8"/><stop offset="0.419" stop-color="#a9c8c8"/><stop offset="0.484" stop-color="#3b3b53"/><stop offset="0.516" stop-color="#15151e"/><stop offset="0.548" stop-color="#040406"/><stop offset="0.613" stop-color="#050508"/><stop offset="0.677" stop-color="#333348"/><stop offset="0.710" stop-color="#3e3e57"/><stop offset="0.871" stop-color="#232330"/><stop offset="1.000" stop-color="#252533"/></linearGradient><linearGradient id="h207"><stop offset="0.000" stop-color="#f3f7f7"/><stop offset="0.226" stop-color="#f3f7f7"/><stop offset="1.000" stop-color="#fefefe"/></linearGradient><linearGradient id="h208"><stop offset="0.000" stop-color="#fefefe"/><stop offset="0.355" stop-color="#f9fbfb"/><stop offset="0.419" stop-color="#d1e1e1"/><stop offset="0.484" stop-color="#748093"/><stop offset="0.516" stop-color="#575977"/><stop offset="0.710" stop-color="#20202c"/><stop offset="0.871" stop-color="#09090d"/><stop offset="1.000" stop-color="#2e2e40"/></linearGradient><linearGradient id="h209"><stop offset="0.000" stop-color="#fefefe"/><stop offset="0.355" stop-color="#f9fbfb"/><stop offset="0.516" stop-color="#c1d7d7"/><stop offset="0.613" stop-color="#adcaca"/><stop offset="0.710" stop-color="#90a8b0"/><stop offset="0.871" stop-color="#7b8b9b"/><stop offset="1.000" stop-color="#8ea4ad"/></linearGradient><linearGradient id="h210"><stop offset="0.000" stop-color="#fefefe"/><stop offset="0.387" stop-color="#f5f9f9"/><stop offset="0.452" stop-color="#d4e4e3"/><stop offset="0.484" stop-color="#98b3b8"/><stop offset="0.548" stop-color="#13131b"/><stop offset="0.581" stop-color="#000000"/><stop offset="0.742" stop-color="#040406"/><stop offset="1.000" stop-color="#000000"/></linearGradient><linearGradient id="h211"><stop offset="0.000" stop-color="#e5eeee"/><stop offset="0.258" stop-color="#e9f0f0"/><stop offset="0.387" stop-color="#f7fafa"/><stop offset="0.452" stop-color="#e4eeed"/><stop offset="0.484" stop-color="#bfd6d6"/><stop offset="0.548" stop-color="#707c90"/><stop offset="0.581" stop-color="#626982"/><stop offset="0.774" stop-color="#616781"/><stop offset="0.871" stop-color="#575a77"/><stop offset="0.968" stop-color="#2a2a3a"/><stop offset="1.000" stop-color="#292939"/></linearGradient><linearGradient id="h212"><stop offset="0.000" stop-color="#fefefe"/><stop offset="0.323" stop-color="#f7fafa"/><stop offset="0.387" stop-color="#d3e3e3"/><stop offset="0.419" stop-color="#a3c1c2"/><stop offset="0.484" stop-color="#44445f"/><stop offset="0.516" stop-color="#323245"/><stop offset="0.581" stop-color="#2c2c3d"/><stop offset="0.645" stop-color="#07070a"/><stop offset="0.742" stop-color="#000000"/><stop offset="0.774" stop-color="#07070a"/><stop offset="0.839" stop-color="#38384e"/><stop offset="0.903" stop-color="#343449"/><stop offset="0.968" stop-color="#22222f"/><stop offset="1.000" stop-color="#232331"/></linearGradient><linearGradient id="h213"><stop offset="0.000" stop-color="#bfd6d6"/><stop offset="0.129" stop-color="#41415a"/><stop offset="0.194" stop-color="#303043"/><stop offset="0.226" stop-color="#38384e"/><stop offset="0.258" stop-color="#525272"/><stop offset="0.323" stop-color="#9ebbbe"/><stop offset="0.355" stop-color="#c5dada"/><stop offset="0.387" stop-color="#a3c2c3"/><stop offset="0.452" stop-color="#42425c"/><stop offset="0.484" stop-color="#36364b"/><stop offset="0.548" stop-color="#5e627e"/><stop offset="0.613" stop-color="#5c607c"/><stop offset="0.742" stop-color="#3b3b52"/><stop offset="0.806" stop-color="#020203"/><stop offset="0.968" stop-color="#010102"/><stop offset="1.000" stop-color="#0a0a0e"/></linearGradient><linearGradient id="h214"><stop offset="0.000" stop-color="#fefefe"/><stop offset="0.355" stop-color="#f8fbfb"/><stop offset="0.387" stop-color="#ecf3f3"/><stop offset="0.419" stop-color="#cee0e0"/><stop offset="0.484" stop-color="#6e798e"/><stop offset="0.516" stop-color="#525271"/><stop offset="0.581" stop-color="#44445e"/><stop offset="0.613" stop-color="#4c4b69"/><stop offset="0.677" stop-color="#7b8a9a"/><stop offset="0.710" stop-color="#869aa6"/><stop offset="0.742" stop-color="#8092a0"/><stop offset="0.839" stop-color="#474763"/><stop offset="0.903" stop-color="#4c4c69"/><stop offset="1.000" stop-color="#697188"/></linearGradient><linearGradient id="h215"><stop offset="0.000" stop-color="#deeaea"/><stop offset="0.161" stop-color="#8ea5ae"/><stop offset="0.194" stop-color="#93acb3"/><stop offset="0.290" stop-color="#d8e6e6"/><stop offset="0.387" stop-color="#edf3f3"/><stop offset="0.419" stop-color="#d5e4e4"/><stop offset="0.452" stop-color="#a3c2c3"/><stop offset="0.516" stop-color="#353549"/><stop offset="0.548" stop-color="#0b0b10"/><stop offset="0.581" stop-color="#000000"/><stop offset="0.613" stop-color="#000000"/><stop offset="0.677" stop-color="#2e2e40"/><stop offset="0.710" stop-color="#3a3950"/><stop offset="0.774" stop-color="#282737"/><stop offset="0.839" stop-color="#0b0b10"/><stop offset="1.000" stop-color="#13131b"/></linearGradient><linearGradient id="h216"><stop offset="0.000" stop-color="#fefefe"/><stop offset="0.290" stop-color="#f5f8f8"/><stop offset="0.355" stop-color="#d4e4e4"/><stop offset="0.452" stop-color="#768496"/><stop offset="0.484" stop-color="#6d778d"/><stop offset="0.581" stop-color="#768496"/><stop offset="0.710" stop-color="#4c4c6a"/><stop offset="0.903" stop-color="#515070"/><stop offset="0.968" stop-color="#4c4c6a"/><stop offset="1.000" stop-color="#535373"/></linearGradient><linearGradient id="h217"><stop offset="0.000" stop-color="#f0f5f5"/><stop offset="0.161" stop-color="#a2c0c2"/><stop offset="0.226" stop-color="#6f7a8e"/><stop offset="0.258" stop-color="#717d91"/><stop offset="0.355" stop-color="#d8e6e6"/><stop offset="0.387" stop-color="#ebf2f2"/><stop offset="0.419" stop-color="#d4e3e3"/><stop offset="0.452" stop-color="#a4c4c4"/><stop offset="0.516" stop-color="#494865"/><stop offset="0.548" stop-color="#2b2a3b"/><stop offset="0.581" stop-color="#1d1d28"/><stop offset="0.645" stop-color="#2b2b3c"/><stop offset="0.742" stop-color="#464561"/><stop offset="0.839" stop-color="#8497a4"/><stop offset="0.871" stop-color="#8497a4"/><stop offset="0.903" stop-color="#6e788d"/><stop offset="0.968" stop-color="#2c2c3d"/><stop offset="1.000" stop-color="#252533"/></linearGradient><linearGradient id="h218"><stop offset="0.000" stop-color="#fefefe"/><stop offset="0.323" stop-color="#f2f7f7"/><stop offset="0.355" stop-color="#dce8e8"/><stop offset="0.387" stop-color="#a4c3c4"/><stop offset="0.452" stop-color="#181822"/><stop offset="0.484" stop-color="#000000"/><stop offset="0.935" stop-color="#000000"/><stop offset="1.000" stop-color="#35354a"/></linearGradient><linearGradient id="h219"><stop offset="0.000" stop-color="#fefefe"/><stop offset="0.355" stop-color="#f4f8f8"/><stop offset="0.387" stop-color="#e5eeee"/><stop offset="0.419" stop-color="#c3d9d9"/><stop offset="0.516" stop-color="#36364b"/><stop offset="0.548" stop-color="#1d1d28"/><stop offset="0.613" stop-color="#000000"/><stop offset="1.000" stop-color="#000000"/></linearGradient><linearGradient id="h220"><stop offset="0.000" stop-color="#fefefe"/><stop offset="0.387" stop-color="#f7fafa"/><stop offset="0.452" stop-color="#dbe8e8"/><stop offset="0.548" stop-color="#778597"/><stop offset="0.613" stop-color="#525372"/><stop offset="0.677" stop-color="#15151e"/><stop offset="0.710" stop-color="#07070b"/><stop offset="0.871" stop-color="#0f0f15"/><stop offset="0.968" stop-color="#000000"/><stop offset="1.000" stop-color="#000000"/></linearGradient></defs>
<rect width="685" height="1823" fill="#fff"/>
<text x="-1.5" y="64" font-size="40" text-anchor="start" fill="#111">a</text>
<line x1="86.5" y1="62" x2="86.5" y2="242" stroke="#111" stroke-width="2"/>
<line x1="77.5" y1="63" x2="86.5" y2="63" stroke="#111" stroke-width="2"/>
<line x1="77.5" y1="152.5" x2="86.5" y2="152.5" stroke="#111" stroke-width="2"/>
<line x1="77.5" y1="242" x2="86.5" y2="242" stroke="#111" stroke-width="2"/>
<line x1="78" y1="242" x2="444" y2="242" stroke="#111" stroke-width="2"/>
<line x1="86.5" y1="242" x2="86.5" y2="251" stroke="#111" stroke-width="2"/>
<line x1="205.7" y1="242" x2="205.7" y2="251" stroke="#111" stroke-width="2"/>
<line x1="324.9" y1="242" x2="324.9" y2="251" stroke="#111" stroke-width="2"/>
<line x1="444" y1="242" x2="444" y2="251" stroke="#111" stroke-width="2"/>
<text x="77" y="71.5" font-size="24" text-anchor="end" fill="#111">1</text>
<text x="75" y="250.5" font-size="24" text-anchor="end" fill="#111">0</text>
<text x="86.5" y="275.4" font-size="24" text-anchor="middle" fill="#111">0</text>
<text x="205.7" y="275.4" font-size="24" text-anchor="middle" fill="#111">10</text>
<text x="324.9" y="275.4" font-size="24" text-anchor="middle" fill="#111">20</text>
<text x="444" y="275.4" font-size="24" text-anchor="middle" fill="#111">30</text>
<text x="266" y="308.4" font-size="28" text-anchor="middle" fill="#111" textLength="152.4" lengthAdjust="spacingAndGlyphs">Tuning index</text>
<text x="26" y="160" font-size="28" text-anchor="middle" fill="#111" transform="rotate(-90 26 160)">CDF</text>
<text x="53" y="155.5" font-size="28" text-anchor="middle" fill="#111" transform="rotate(-90 53 155.5)">(Outcome)</text>
<text x="121" y="207.3" font-size="20" text-anchor="start" fill="#111" font-weight="bold" font-style="italic">k-s test</text>
<text x="129" y="228.2" font-size="20" text-anchor="start" fill="#111">p=0.06</text>
<text x="214" y="102.4" font-size="20" text-anchor="start" fill="#3d4a9c" textLength="101" lengthAdjust="spacingAndGlyphs">PL::A-DMS</text>
<text x="214" y="125.6" font-size="20" text-anchor="start" fill="#f0962e" textLength="101" lengthAdjust="spacingAndGlyphs">PL::P-DMS</text>
<path d="M86.7,219.7 C87.6,216.2 90.2,205.7 92.3,198.7 C94.4,191.7 96.7,184.3 99.3,177.6 C101.9,170.9 105.1,164.5 108.0,158.4 C110.9,152.3 113.9,146.4 116.8,140.8 C119.7,135.2 122.6,129.8 125.5,125.1 C128.4,120.4 131.1,116.8 134.3,112.8 C137.5,108.8 141.3,104.8 144.8,101.4 C148.3,98.1 151.5,95.2 155.3,92.7 C159.1,90.2 162.6,88.7 167.6,86.5 C172.6,84.3 179.7,81.5 185.1,79.5 C190.5,77.5 195.5,76.1 200.0,74.5 C204.5,72.9 206.9,71.2 212.2,69.9 C217.5,68.6 223.8,67.4 231.6,66.6 C239.4,65.8 250.1,65.8 259.3,65.3 C268.6,64.8 277.9,64.1 287.1,63.8 C296.4,63.5 305.1,63.5 314.8,63.3 C324.5,63.1 340.2,62.8 345.3,62.7" fill="none" stroke="#f0962e" stroke-width="3.2" stroke-linejoin="round" stroke-linecap="round"/>
<path d="M86.7,233.7 C87.9,230.8 91.3,222.9 94.0,216.2 C96.7,209.5 99.9,201.0 102.8,193.4 C105.7,185.8 108.6,177.6 111.5,170.6 C114.4,163.6 117.4,157.8 120.3,151.4 C123.2,145.0 126.2,137.9 129.1,132.1 C132.0,126.2 134.6,121.1 137.8,116.3 C141.0,111.5 145.1,106.8 148.3,103.2 C151.5,99.6 153.3,97.0 157.1,94.4 C160.9,91.8 166.1,89.4 171.1,87.4 C176.1,85.4 182.1,84.1 186.9,82.5 C191.7,80.9 195.8,79.3 200.0,78.0 C204.2,76.7 206.9,75.5 212.2,74.4 C217.5,73.3 225.1,72.3 231.6,71.6 C238.1,70.9 244.1,70.6 251.0,70.0 C257.9,69.4 264.9,68.1 273.2,67.8 C281.5,67.5 292.7,68.1 301.0,68.0 C309.3,67.9 315.7,67.8 323.1,67.2 C330.5,66.6 337.9,65.1 345.3,64.4 C352.7,63.8 363.8,63.5 367.5,63.3" fill="none" stroke="#3d4a9c" stroke-width="3.2" stroke-linejoin="round" stroke-linecap="round"/>
<circle cx="382.6" cy="162.2" r="50.5" fill="none" stroke="#d4d4d4" stroke-width="33"/>
<circle cx="382.6" cy="162.2" r="51" fill="none" stroke="#fff" stroke-width="1"/>
<path d="M382.60,95.20 A67,67 0 0 1 449.12,154.22 L433.73,156.07 A51.5,51.5 0 0 0 382.60,110.70 Z" fill="#3a3f96"/>
<path d="M382.60,111.70 A50.5,50.5 0 0 1 431.81,150.87 L415.73,154.57 A34,34 0 0 0 382.60,128.20 Z" fill="#f0922a"/>
<text x="435.1" y="119" font-size="15.5" text-anchor="middle" fill="#1a1a1a" transform="rotate(47 435.1 119)">23.1%</text>
<text x="396.7" y="155" font-size="15.5" text-anchor="middle" fill="#1a1a1a" transform="rotate(53 396.7 155)">22.8%</text>
<text x="415" y="176.7" font-size="12.5" text-anchor="middle" fill="#7a7a7a" transform="rotate(109 415 176.7)">33/122</text>
<text x="434" y="176.7" font-size="12.5" text-anchor="middle" fill="#7a7a7a" transform="rotate(102 434 176.7)">24/80</text>
<text x="460" y="64" font-size="40" text-anchor="start" fill="#111">b</text>
<line x1="564.5" y1="73.9" x2="564.5" y2="240.8" stroke="#111" stroke-width="2"/>
<line x1="556.5" y1="240.8" x2="564.5" y2="240.8" stroke="#111" stroke-width="2"/>
<line x1="556.5" y1="199.07500000000002" x2="564.5" y2="199.07500000000002" stroke="#111" stroke-width="2"/>
<line x1="556.5" y1="157.35000000000002" x2="564.5" y2="157.35000000000002" stroke="#111" stroke-width="2"/>
<line x1="556.5" y1="115.625" x2="564.5" y2="115.625" stroke="#111" stroke-width="2"/>
<line x1="556.5" y1="73.9" x2="564.5" y2="73.9" stroke="#111" stroke-width="2"/>
<text x="553" y="249.3" font-size="24" text-anchor="end" fill="#111">0</text>
<text x="553" y="207.57500000000002" font-size="24" text-anchor="end" fill="#111">5</text>
<text x="553" y="165.85000000000002" font-size="24" text-anchor="end" fill="#111">10</text>
<text x="553" y="124.125" font-size="24" text-anchor="end" fill="#111">15</text>
<text x="553" y="82.4" font-size="24" text-anchor="end" fill="#111">20</text>
<text x="511" y="153" font-size="28" text-anchor="middle" fill="#111" transform="rotate(-90 511 153)">Tuning index</text>
<path d="M595.5,105.0 C595.6,112.1 595.9,138.1 596.1,147.6 C596.4,157.1 596.6,156.1 597.0,162.2 C597.4,168.3 597.3,177.9 598.4,184.0 C599.5,190.1 602.1,195.0 603.5,198.7 C604.9,202.4 605.4,202.8 606.5,206.0 C607.6,209.2 609.4,214.0 610.1,217.7 C610.8,221.3 611.4,225.0 610.8,227.9 C610.2,230.8 608.2,233.0 606.5,235.2 C604.8,237.4 601.5,240.0 600.5,241.0 L590.5,241.0 C589.5,240.0 586.2,237.4 584.5,235.2 C582.8,233.0 580.8,230.8 580.2,227.9 C579.6,225.0 580.2,221.3 580.9,217.7 C581.6,214.0 583.4,209.2 584.5,206.0 C585.6,202.8 586.1,202.4 587.5,198.7 C588.9,195.0 591.5,190.1 592.6,184.0 C593.7,177.9 593.6,168.3 594.0,162.2 C594.4,156.1 594.6,157.1 594.9,147.6 C595.1,138.1 595.4,112.1 595.5,105.0 Z" fill="#6f70b0"/>
<line x1="595.5" y1="73.9" x2="595.5" y2="83.5" stroke="#6f70b0" stroke-width="0.8"/>
<line x1="586.7" y1="201.9" x2="604.3" y2="201.9" stroke="#111" stroke-width="1.8"/>
<line x1="581.0" y1="218.4" x2="610.0" y2="218.4" stroke="#111" stroke-width="1.8" stroke-dasharray="3.5,2.5"/>
<line x1="580.2" y1="230" x2="610.8" y2="230" stroke="#111" stroke-width="1.8"/>
<path d="M643.3,128.6 C643.5,134.2 644.3,153.0 644.8,162.2 C645.3,171.4 645.5,177.9 646.3,184.0 C647.0,190.1 648.5,195.0 649.3,198.7 C650.1,202.4 650.1,202.3 651.3,206.0 C652.5,209.7 655.0,216.2 656.3,220.6 C657.5,225.0 658.6,228.9 658.8,232.3 C659.0,235.7 657.5,239.6 657.3,241.0 L629.3,241.0 C629.0,239.6 627.6,235.7 627.8,232.3 C628.0,228.9 629.0,225.0 630.3,220.6 C631.5,216.2 634.1,209.7 635.3,206.0 C636.5,202.3 636.5,202.4 637.3,198.7 C638.1,195.0 639.5,190.1 640.3,184.0 C641.0,177.9 641.3,171.4 641.8,162.2 C642.3,153.0 643.0,134.2 643.3,128.6 Z" fill="#f5b062"/>
<line x1="643.3" y1="94.3" x2="643.3" y2="121" stroke="#f5b062" stroke-width="0.8"/>
<line x1="635.3" y1="204.5" x2="651.3" y2="204.5" stroke="#111" stroke-width="1.8"/>
<line x1="630.3" y1="221.8" x2="656.3" y2="221.8" stroke="#111" stroke-width="1.8" stroke-dasharray="3.5,2.5"/>
<line x1="627.8" y1="236.4" x2="658.8" y2="236.4" stroke="#111" stroke-width="1.8"/>
<line x1="594" y1="64.8" x2="644.5" y2="64.8" stroke="#111" stroke-width="2.2"/>
<text x="610" y="52.6" font-size="20" text-anchor="start" fill="#111">ns</text>
<text x="608" y="34.5" font-size="20" text-anchor="start" fill="#111">p=0.17</text>
<text x="623" y="13.8" font-size="20" text-anchor="start" fill="#111" font-weight="bold" font-style="italic">t-test</text>
<text x="613.5" y="255" font-size="20.5" text-anchor="end" fill="#111" transform="rotate(-45 613.5 255)">PL::A-DMS</text>
<text x="665.5" y="255" font-size="20.5" text-anchor="end" fill="#111" transform="rotate(-45 665.5 255)">PL::P-DMS</text>
<line x1="42.2" y1="345" x2="159.7" y2="345" stroke="#333" stroke-width="1.3"/>
<text x="168.1" y="355.7" font-size="28.2" text-anchor="start" fill="#222" textLength="339.2" lengthAdjust="spacingAndGlyphs">Choice x Positive Outcome</text>
<line x1="518.6" y1="345" x2="647.6" y2="345" stroke="#333" stroke-width="1.3"/>
<line x1="20.3" y1="1087.4" x2="221" y2="1087.4" stroke="#333" stroke-width="1.3"/>
<text x="229.6" y="1098.2" font-size="28.2" text-anchor="start" fill="#222" textLength="232.2" lengthAdjust="spacingAndGlyphs">Negative Outcome</text>
<line x1="470.3" y1="1087.4" x2="668.4" y2="1087.4" stroke="#333" stroke-width="1.3"/>
<text x="4" y="406" font-size="40" text-anchor="start" fill="#111">c</text>
<circle cx="159.8" cy="456" r="62.3" fill="url(#pg1)"/>
<g stroke="#ffffff" stroke-opacity="0.55" stroke-width="1"><circle cx="159.8" cy="456" r="15.57" fill="none"/><circle cx="159.8" cy="456" r="31.15" fill="none"/><circle cx="159.8" cy="456" r="46.72" fill="none"/><line x1="159.8" y1="456" x2="159.80" y2="393.70"/><line x1="159.8" y1="456" x2="186.83" y2="399.87"/><line x1="159.8" y1="456" x2="208.51" y2="417.16"/><line x1="159.8" y1="456" x2="220.54" y2="442.14"/><line x1="159.8" y1="456" x2="220.54" y2="469.86"/><line x1="159.8" y1="456" x2="208.51" y2="494.84"/><line x1="159.8" y1="456" x2="186.83" y2="512.13"/><line x1="159.8" y1="456" x2="159.80" y2="518.30"/><line x1="159.8" y1="456" x2="132.77" y2="512.13"/><line x1="159.8" y1="456" x2="111.09" y2="494.84"/><line x1="159.8" y1="456" x2="99.06" y2="469.86"/><line x1="159.8" y1="456" x2="99.06" y2="442.14"/><line x1="159.8" y1="456" x2="111.09" y2="417.16"/><line x1="159.8" y1="456" x2="132.77" y2="399.87"/></g>
<path d="M159.8,456 L179.30,460.45 A20,20 0 0 1 175.44,468.47 Z" fill="#c3de7c" stroke="#fff" stroke-width="0.8"/>
<path d="M159.8,456 L182.58,503.30 A52.5,52.5 0 0 1 159.80,508.50 Z" fill="#7aae4a" stroke="#fff" stroke-width="0.8"/>
<text x="175.38" y="387.76" font-size="14" text-anchor="middle" dominant-baseline="central" fill="#222" transform="rotate(12.9 175.38 387.76) scale(0.8 1) translate(43.84 0)">CUE</text>
<text x="203.44" y="401.27" font-size="14" text-anchor="middle" dominant-baseline="central" fill="#222" transform="rotate(38.6 203.44 401.27) scale(0.8 1) translate(50.86 0)">I<tspan font-size="10.08">NIT</tspan></text>
<text x="222.87" y="425.63" font-size="14" text-anchor="middle" dominant-baseline="central" fill="#222" transform="rotate(64.3 222.87 425.63) scale(0.8 1) translate(55.72 0)">I<tspan font-size="10.08">PSI</tspan></text>
<text x="229.80" y="456.00" font-size="14" text-anchor="middle" dominant-baseline="central" fill="#222" transform="rotate(90.0 229.80 456.00) scale(0.8 1) translate(57.45 0)">C<tspan font-size="10.08">ONT</tspan></text>
<text x="222.87" y="486.37" font-size="14" text-anchor="middle" dominant-baseline="central" fill="#222" transform="rotate(115.7 222.87 486.37) scale(0.8 1) translate(55.72 0)">O+</text>
<text x="203.44" y="510.73" font-size="14" text-anchor="middle" dominant-baseline="central" fill="#222" transform="rotate(141.4 203.44 510.73) scale(0.8 1) translate(50.86 0)">O-</text>
<text x="175.38" y="524.24" font-size="14" text-anchor="middle" dominant-baseline="central" fill="#222" transform="rotate(167.1 175.38 524.24) scale(0.8 1) translate(43.84 0)">C<tspan font-size="9.799999999999999">x</tspan>O+</text>
<text x="144.22" y="524.24" font-size="14" text-anchor="middle" dominant-baseline="central" fill="#222" transform="rotate(192.9 144.22 524.24) scale(0.8 1) translate(36.06 0)">C<tspan font-size="9.799999999999999">x</tspan>O-</text>
<text x="116.16" y="510.73" font-size="14" text-anchor="middle" dominant-baseline="central" fill="#222" transform="rotate(218.6 116.16 510.73) scale(0.8 1) translate(29.04 0)">ΔQ</text>
<text x="96.73" y="486.37" font-size="14" text-anchor="middle" dominant-baseline="central" fill="#222" transform="rotate(244.3 96.73 486.37) scale(0.8 1) translate(24.18 0)">ΣQ</text>
<text x="89.80" y="456.00" font-size="14" text-anchor="middle" dominant-baseline="central" fill="#222" transform="rotate(270.0 89.80 456.00) scale(0.8 1) translate(22.45 0)">RR</text>
<text x="96.73" y="425.63" font-size="14" text-anchor="middle" dominant-baseline="central" fill="#222" transform="rotate(295.7 96.73 425.63) scale(0.8 1) translate(24.18 0)">RPE+</text>
<text x="116.16" y="401.27" font-size="14" text-anchor="middle" dominant-baseline="central" fill="#222" transform="rotate(321.4 116.16 401.27) scale(0.8 1) translate(29.04 0)">RPE-</text>
<text x="144.22" y="387.76" font-size="14" text-anchor="middle" dominant-baseline="central" fill="#222" transform="rotate(347.1 144.22 387.76) scale(0.8 1) translate(36.06 0)">VEL</text>
<text x="70" y="394.7" font-size="13" text-anchor="start" fill="#333" textLength="33" lengthAdjust="spacingAndGlyphs">Tuning</text>
<text x="70" y="406" font-size="13" text-anchor="start" fill="#333" textLength="25.5" lengthAdjust="spacingAndGlyphs">index</text>
<rect x="78" y="496" width="5" height="24" fill="url(#lg10)" stroke="#999" stroke-width="0.6"/>
<text x="77.4" y="501.5" font-size="11" text-anchor="end" fill="#333">10</text>
<text x="77.4" y="521.5" font-size="11" text-anchor="end" fill="#333">0</text>
<text x="5" y="561" font-size="40" text-anchor="start" fill="#111">d</text>
<line x1="84.7" y1="556.3" x2="84.7" y2="629" stroke="#111" stroke-width="1.6"/>
<line x1="78.7" y1="619.4" x2="84.7" y2="619.4" stroke="#111" stroke-width="1.6"/>
<text x="76.7" y="625.6999999999999" font-size="18" text-anchor="end" fill="#111">0</text>
<line x1="78.7" y1="598.3666666666667" x2="84.7" y2="598.3666666666667" stroke="#111" stroke-width="1.6"/>
<text x="76.7" y="604.6666666666666" font-size="18" text-anchor="end" fill="#111">2</text>
<line x1="78.7" y1="577.3333333333333" x2="84.7" y2="577.3333333333333" stroke="#111" stroke-width="1.6"/>
<text x="76.7" y="583.6333333333332" font-size="18" text-anchor="end" fill="#111">4</text>
<line x1="78.7" y1="556.3" x2="84.7" y2="556.3" stroke="#111" stroke-width="1.6"/>
<text x="76.7" y="562.5999999999999" font-size="18" text-anchor="end" fill="#111">6</text>
<line x1="84.7" y1="641.3" x2="84.7" y2="717" stroke="#111" stroke-width="1.6"/>
<line x1="78.7" y1="705.9" x2="84.7" y2="705.9" stroke="#111" stroke-width="1.6"/>
<text x="76.7" y="712.1999999999999" font-size="18" text-anchor="end" fill="#111">0</text>
<line x1="78.7" y1="684.3666666666667" x2="84.7" y2="684.3666666666667" stroke="#111" stroke-width="1.6"/>
<text x="76.7" y="690.6666666666666" font-size="18" text-anchor="end" fill="#111">2</text>
<line x1="78.7" y1="662.8333333333333" x2="84.7" y2="662.8333333333333" stroke="#111" stroke-width="1.6"/>
<text x="76.7" y="669.1333333333332" font-size="18" text-anchor="end" fill="#111">4</text>
<line x1="78.7" y1="641.3" x2="84.7" y2="641.3" stroke="#111" stroke-width="1.6"/>
<text x="76.7" y="647.5999999999999" font-size="18" text-anchor="end" fill="#111">6</text>
<line x1="84.7" y1="717" x2="233.6" y2="717" stroke="#111" stroke-width="1.6"/>
<line x1="84.7" y1="717" x2="84.7" y2="724" stroke="#111" stroke-width="1.6"/>
<text x="84.7" y="741.7" font-size="18" text-anchor="middle" fill="#111">0</text>
<line x1="109.51666666666667" y1="717" x2="109.51666666666667" y2="724" stroke="#111" stroke-width="1.6"/>
<text x="109.51666666666667" y="741.7" font-size="18" text-anchor="middle" fill="#111">1</text>
<line x1="134.33333333333331" y1="717" x2="134.33333333333331" y2="724" stroke="#111" stroke-width="1.6"/>
<text x="134.33333333333331" y="741.7" font-size="18" text-anchor="middle" fill="#111">2</text>
<line x1="159.14999999999998" y1="717" x2="159.14999999999998" y2="724" stroke="#111" stroke-width="1.6"/>
<text x="159.14999999999998" y="741.7" font-size="18" text-anchor="middle" fill="#111">3</text>
<line x1="183.96666666666664" y1="717" x2="183.96666666666664" y2="724" stroke="#111" stroke-width="1.6"/>
<text x="183.96666666666664" y="741.7" font-size="18" text-anchor="middle" fill="#111">4</text>
<line x1="208.7833333333333" y1="717" x2="208.7833333333333" y2="724" stroke="#111" stroke-width="1.6"/>
<text x="208.7833333333333" y="741.7" font-size="18" text-anchor="middle" fill="#111">5</text>
<line x1="233.59999999999997" y1="717" x2="233.59999999999997" y2="724" stroke="#111" stroke-width="1.6"/>
<text x="233.59999999999997" y="741.7" font-size="18" text-anchor="middle" fill="#111">6</text>
<text x="159" y="766" font-size="18" text-anchor="middle" fill="#111" textLength="65" lengthAdjust="spacingAndGlyphs">Time (s)</text>
<text x="57" y="588" font-size="18" text-anchor="middle" fill="#111" transform="rotate(-90 57 588)">a.u.</text>
<text x="57" y="673" font-size="18" text-anchor="middle" fill="#111" transform="rotate(-90 57 673)">a.u.</text>
<text x="237" y="570" font-size="20.5" text-anchor="end" fill="#111">Ch<tspan fill="#999">x</tspan>O+</text>
<text x="237" y="654" font-size="20.5" text-anchor="end" fill="#111">Ch<tspan fill="#999">x</tspan>O-</text>
<path d="M84.7,619.4 C88.8,619.4 104.3,619.5 109.5,619.4 C114.7,619.3 113.7,619.9 115.7,618.9 C117.8,617.8 119.7,616.2 121.9,613.1 C124.2,610.0 126.9,604.2 129.4,600.5 C131.9,596.8 134.3,593.5 136.8,591.0 C139.3,588.6 142.2,586.9 144.3,585.7 C146.3,584.6 146.7,584.3 149.2,584.2 C151.7,584.1 156.3,585.0 159.1,585.2 C162.0,585.5 164.1,585.0 166.6,585.7 C169.1,586.4 171.1,588.3 174.0,589.4 C176.9,590.6 180.7,591.2 184.0,592.6 C187.3,594.0 190.6,596.2 193.9,597.8 C197.2,599.5 200.9,601.3 203.8,602.6 C206.7,603.9 209.0,604.5 211.3,605.7 C213.5,607.0 215.4,608.2 217.5,609.9 C219.5,611.7 221.8,614.8 223.7,616.2 C225.5,617.7 227.0,618.3 228.6,618.9 C230.3,619.4 232.8,619.3 233.6,619.4 L233.59999999999997,619.4 L84.7,619.4 Z" fill="#f5c48e"/>
<path d="M84.7,619.4 C88.8,619.4 104.3,619.5 109.5,619.4 C114.7,619.3 113.7,619.9 115.7,618.9 C117.8,617.8 119.7,616.2 121.9,613.1 C124.2,610.0 126.9,604.2 129.4,600.5 C131.9,596.8 134.3,593.5 136.8,591.0 C139.3,588.6 142.2,586.9 144.3,585.7 C146.3,584.6 146.7,584.3 149.2,584.2 C151.7,584.1 156.3,585.0 159.1,585.2 C162.0,585.5 164.1,585.0 166.6,585.7 C169.1,586.4 171.1,588.3 174.0,589.4 C176.9,590.6 180.7,591.2 184.0,592.6 C187.3,594.0 190.6,596.2 193.9,597.8 C197.2,599.5 200.9,601.3 203.8,602.6 C206.7,603.9 209.0,604.5 211.3,605.7 C213.5,607.0 215.4,608.2 217.5,609.9 C219.5,611.7 221.8,614.8 223.7,616.2 C225.5,617.7 227.0,618.3 228.6,618.9 C230.3,619.4 232.8,619.3 233.6,619.4" fill="none" stroke="#f0962e" stroke-width="3" stroke-linejoin="round" stroke-linecap="round"/>
<line x1="84.7" y1="705.9" x2="233.6" y2="705.9" stroke="#f0962e" stroke-width="3"/>
<text x="301" y="406.5" font-size="40" text-anchor="start" fill="#111">e</text>
<line x1="363" y1="393.8" x2="363" y2="471.6" stroke="#111" stroke-width="1.6"/>
<line x1="358.6" y1="406.4" x2="363" y2="406.4" stroke="#111" stroke-width="1.6"/>
<text x="356.8" y="410.9" font-size="12.5" text-anchor="end" fill="#111">3</text>
<line x1="358.6" y1="422.7" x2="363" y2="422.7" stroke="#111" stroke-width="1.6"/>
<text x="356.8" y="427.2" font-size="12.5" text-anchor="end" fill="#111">2</text>
<line x1="358.6" y1="439.0" x2="363" y2="439.0" stroke="#111" stroke-width="1.6"/>
<text x="356.8" y="443.5" font-size="12.5" text-anchor="end" fill="#111">1</text>
<line x1="358.6" y1="455.3" x2="363" y2="455.3" stroke="#111" stroke-width="1.6"/>
<text x="356.8" y="459.8" font-size="12.5" text-anchor="end" fill="#111">0</text>
<line x1="358.6" y1="471.6" x2="363" y2="471.6" stroke="#111" stroke-width="1.6"/>
<text x="356.8" y="476.1" font-size="12.5" text-anchor="end" fill="#111">-1</text>
<line x1="363" y1="455.3" x2="467.5" y2="455.3" stroke="#111" stroke-width="1.3" stroke-dasharray="1.4,1.6"/>
<path d="M363.0,456.4 C364.5,456.6 368.8,457.1 371.7,457.4 C374.6,457.7 377.5,457.9 380.4,458.1 C383.3,458.3 386.2,458.5 389.1,458.6 C392.0,458.7 394.9,458.6 397.8,458.7 C400.7,458.8 404.2,459.0 406.5,459.0 C408.9,459.0 410.3,459.4 411.8,458.7 C413.2,458.0 413.9,457.1 415.2,454.8 C416.6,452.6 418.2,448.5 419.6,445.2 C421.1,441.9 422.4,438.5 424.0,434.8 C425.6,431.0 427.4,426.1 429.2,422.7 C430.9,419.3 432.7,416.4 434.4,414.2 C436.1,412.1 437.9,410.4 439.6,409.8 C441.4,409.2 443.1,410.4 444.9,410.6 C446.6,410.9 448.3,410.9 450.1,411.5 C451.8,412.0 453.6,412.9 455.3,414.1 C457.1,415.2 458.5,417.0 460.5,418.3 C462.6,419.6 466.3,421.3 467.5,421.9 L467.5,428.4 C466.3,427.9 462.6,426.6 460.5,425.5 C458.5,424.3 457.1,422.6 455.3,421.6 C453.6,420.5 451.8,419.8 450.1,419.3 C448.3,418.8 446.6,418.7 444.9,418.5 C443.1,418.2 441.4,417.2 439.6,417.6 C437.9,418.1 436.1,419.5 434.4,421.4 C432.7,423.3 430.9,426.1 429.2,429.2 C427.4,432.3 425.6,436.7 424.0,440.0 C422.4,443.3 421.1,446.2 419.6,449.1 C418.2,452.0 416.6,455.5 415.2,457.4 C413.9,459.3 413.2,459.8 411.8,460.4 C410.3,460.9 408.9,460.7 406.5,460.7 C404.2,460.7 400.7,460.4 397.8,460.4 C394.9,460.3 392.0,460.3 389.1,460.2 C386.2,460.1 383.3,459.9 380.4,459.7 C377.5,459.5 374.6,459.3 371.7,459.0 C368.8,458.8 364.5,458.2 363.0,458.1 Z" fill="#f0962e" fill-opacity="0.45" stroke="none"/>
<path d="M363.0,457.3 C364.5,457.4 368.8,458.0 371.7,458.2 C374.6,458.5 377.5,458.7 380.4,458.9 C383.3,459.1 386.2,459.3 389.1,459.4 C392.0,459.5 394.9,459.5 397.8,459.5 C400.7,459.6 404.2,459.9 406.5,459.9 C408.9,459.9 410.3,460.2 411.8,459.5 C413.2,458.9 413.9,458.2 415.2,456.1 C416.6,454.1 418.2,450.3 419.6,447.2 C421.1,444.0 422.4,440.9 424.0,437.4 C425.6,433.8 427.4,429.2 429.2,426.0 C430.9,422.7 432.7,419.8 434.4,417.8 C436.1,415.8 437.9,414.3 439.6,413.7 C441.4,413.2 443.1,414.3 444.9,414.6 C446.6,414.8 448.3,414.8 450.1,415.4 C451.8,415.9 453.6,416.7 455.3,417.8 C457.1,418.9 458.5,420.7 460.5,421.9 C462.6,423.1 466.3,424.6 467.5,425.1" fill="none" stroke="#f0962e" stroke-width="2.4" stroke-linejoin="round" stroke-linecap="round"/>
<text x="367.4" y="404.7" font-size="15" text-anchor="start" fill="#111">Ipsi <tspan fill="#999">x</tspan> O+</text>
<text x="340" y="436" font-size="16" text-anchor="middle" fill="#111" transform="rotate(-90 340 436)">z-score</text>
<rect x="363" y="479.30" width="104.50" height="1.93" fill="url(#h1)"/><rect x="363" y="480.88" width="104.50" height="1.93" fill="url(#h2)"/><rect x="363" y="482.47" width="104.50" height="1.93" fill="url(#h3)"/><rect x="363" y="485.63" width="104.50" height="1.93" fill="url(#h4)"/><rect x="363" y="488.80" width="104.50" height="1.93" fill="url(#h5)"/><rect x="363" y="491.97" width="104.50" height="1.93" fill="url(#h6)"/><rect x="363" y="495.13" width="104.50" height="1.93" fill="url(#h7)"/><rect x="363" y="496.72" width="104.50" height="1.93" fill="url(#h8)"/><rect x="363" y="498.30" width="104.50" height="1.93" fill="url(#h9)"/><rect x="363" y="499.88" width="104.50" height="1.93" fill="url(#h10)"/><rect x="363" y="503.05" width="104.50" height="1.93" fill="url(#h11)"/><rect x="363" y="506.22" width="104.50" height="1.93" fill="url(#h12)"/><rect x="363" y="507.80" width="104.50" height="1.93" fill="url(#h13)"/><rect x="363" y="514.13" width="104.50" height="1.93" fill="url(#h14)"/><rect x="363" y="515.72" width="104.50" height="1.93" fill="url(#h15)"/><rect x="363" y="517.30" width="104.50" height="1.93" fill="url(#h16)"/><rect x="363" y="518.88" width="104.50" height="1.93" fill="url(#h17)"/><rect x="363" y="520.47" width="104.50" height="1.93" fill="url(#h18)"/><rect x="363" y="522.05" width="104.50" height="1.93" fill="url(#h19)"/><rect x="363" y="523.63" width="104.50" height="1.93" fill="url(#h20)"/><rect x="363" y="526.80" width="104.50" height="1.93" fill="url(#h21)"/><rect x="363" y="528.38" width="104.50" height="1.93" fill="url(#h22)"/><rect x="363" y="529.97" width="104.50" height="1.93" fill="url(#h23)"/><rect x="363" y="531.55" width="104.50" height="1.93" fill="url(#h24)"/><rect x="363" y="533.13" width="104.50" height="1.93" fill="url(#h25)"/><rect x="363" y="534.72" width="104.50" height="1.93" fill="url(#h26)"/><rect x="363" y="536.30" width="104.50" height="1.93" fill="url(#h27)"/><rect x="363" y="537.88" width="104.50" height="1.93" fill="url(#h28)"/><rect x="363" y="539.47" width="104.50" height="1.93" fill="url(#h29)"/><rect x="363" y="541.05" width="104.50" height="1.93" fill="url(#h30)"/><rect x="363" y="542.63" width="104.50" height="1.93" fill="url(#h31)"/><rect x="363" y="544.22" width="104.50" height="1.93" fill="url(#h32)"/><rect x="363" y="545.80" width="104.50" height="1.93" fill="url(#h33)"/><rect x="363" y="547.38" width="104.50" height="1.93" fill="url(#h34)"/><rect x="363" y="548.97" width="104.50" height="1.93" fill="url(#h35)"/><rect x="363" y="550.55" width="104.50" height="1.93" fill="url(#h36)"/><rect x="363" y="552.13" width="104.50" height="1.93" fill="url(#h37)"/><rect x="363" y="553.72" width="104.50" height="1.93" fill="url(#h38)"/>
<rect x="363" y="479.3" width="104.50" height="76.00" fill="none" stroke="#222" stroke-width="1.3"/>
<line x1="398.5" y1="410.5" x2="398.5" y2="555" stroke="#e2623c" stroke-width="1.6" stroke-dasharray="2.2,5.3"/>
<text x="340" y="518.5" font-size="15.5" text-anchor="middle" fill="#111" transform="rotate(-90 340 518.5)">Trials</text>
<text x="356" y="518.5" font-size="15.5" text-anchor="middle" fill="#111" transform="rotate(-90 356 518.5)">(Ipsi x O+)</text>
<line x1="363" y1="563.5" x2="363" y2="642.0" stroke="#111" stroke-width="1.6"/>
<line x1="358.6" y1="576.8000000000001" x2="363" y2="576.8000000000001" stroke="#111" stroke-width="1.6"/>
<text x="356.8" y="581.3000000000001" font-size="12.5" text-anchor="end" fill="#111">3</text>
<line x1="358.6" y1="593.1" x2="363" y2="593.1" stroke="#111" stroke-width="1.6"/>
<text x="356.8" y="597.6" font-size="12.5" text-anchor="end" fill="#111">2</text>
<line x1="358.6" y1="609.4000000000001" x2="363" y2="609.4000000000001" stroke="#111" stroke-width="1.6"/>
<text x="356.8" y="613.9000000000001" font-size="12.5" text-anchor="end" fill="#111">1</text>
<line x1="358.6" y1="625.7" x2="363" y2="625.7" stroke="#111" stroke-width="1.6"/>
<text x="356.8" y="630.2" font-size="12.5" text-anchor="end" fill="#111">0</text>
<line x1="358.6" y1="642.0" x2="363" y2="642.0" stroke="#111" stroke-width="1.6"/>
<text x="356.8" y="646.5" font-size="12.5" text-anchor="end" fill="#111">-1</text>
<line x1="363" y1="625.7" x2="467.5" y2="625.7" stroke="#111" stroke-width="1.3" stroke-dasharray="1.4,1.6"/>
<path d="M363.0,628.1 C365.9,628.3 374.6,628.7 380.4,629.0 C386.2,629.3 392.0,629.7 397.8,629.9 C403.6,630.2 409.4,630.6 415.2,630.6 C421.1,630.6 426.9,630.2 432.7,630.1 C438.5,630.0 444.3,630.0 450.1,629.8 C455.9,629.6 464.6,629.1 467.5,629.0" fill="none" stroke="#f0962e" stroke-width="2.4" stroke-linejoin="round" stroke-linecap="round"/>
<text x="367.4" y="574.5" font-size="15" text-anchor="start" fill="#111">Ipsi <tspan fill="#999">x</tspan> O-</text>
<text x="340" y="606" font-size="16" text-anchor="middle" fill="#111" transform="rotate(-90 340 606)">z-score</text>
<rect x="363" y="651.99" width="104.50" height="1.99" fill="url(#h39)"/><rect x="363" y="653.97" width="104.50" height="1.99" fill="url(#h40)"/><rect x="363" y="655.96" width="104.50" height="1.99" fill="url(#h41)"/><rect x="363" y="665.89" width="104.50" height="1.99" fill="url(#h42)"/><rect x="363" y="667.88" width="104.50" height="1.99" fill="url(#h43)"/><rect x="363" y="691.72" width="104.50" height="1.99" fill="url(#h44)"/><rect x="363" y="693.71" width="104.50" height="1.99" fill="url(#h45)"/><rect x="363" y="723.51" width="104.50" height="1.99" fill="url(#h46)"/><rect x="363" y="660.08" width="104.50" height="1.44" fill="url(#h47)"/><rect x="363" y="663.69" width="104.50" height="1.62" fill="url(#h48)"/><rect x="363" y="666.98" width="104.50" height="1.44" fill="url(#h49)"/><rect x="363" y="669.08" width="104.50" height="1.44" fill="url(#h50)"/><rect x="363" y="674.00" width="104.50" height="1.80" fill="url(#h51)"/><rect x="363" y="676.17" width="104.50" height="1.26" fill="url(#h52)"/><rect x="363" y="684.49" width="104.50" height="1.62" fill="url(#h53)"/><rect x="363" y="686.73" width="104.50" height="1.35" fill="url(#h54)"/><rect x="363" y="688.59" width="104.50" height="1.62" fill="url(#h55)"/><rect x="363" y="692.18" width="104.50" height="1.44" fill="url(#h56)"/><rect x="363" y="695.43" width="104.50" height="1.35" fill="url(#h57)"/><rect x="363" y="698.90" width="104.50" height="1.80" fill="url(#h58)"/><rect x="363" y="702.10" width="104.50" height="1.80" fill="url(#h59)"/><rect x="363" y="710.33" width="104.50" height="1.35" fill="url(#h60)"/><rect x="363" y="715.09" width="104.50" height="1.62" fill="url(#h61)"/><rect x="363" y="719.89" width="104.50" height="1.62" fill="url(#h62)"/>
<rect x="363" y="650" width="104.50" height="75.50" fill="none" stroke="#222" stroke-width="1.3"/>
<line x1="398.5" y1="580" x2="398.5" y2="725" stroke="#e2623c" stroke-width="1.6" stroke-dasharray="2.2,5.3"/>
<line x1="363.0" y1="725.5" x2="363.0" y2="730.0" stroke="#111" stroke-width="1.3"/>
<text x="363.0" y="743" font-size="12.5" text-anchor="middle" fill="#111">-2</text>
<line x1="397.8333333333333" y1="725.5" x2="397.8333333333333" y2="730.0" stroke="#111" stroke-width="1.3"/>
<text x="397.8333333333333" y="743" font-size="12.5" text-anchor="middle" fill="#111">0</text>
<line x1="432.6666666666667" y1="725.5" x2="432.6666666666667" y2="730.0" stroke="#111" stroke-width="1.3"/>
<text x="432.6666666666667" y="743" font-size="12.5" text-anchor="middle" fill="#111">2</text>
<line x1="467.5" y1="725.5" x2="467.5" y2="730.0" stroke="#111" stroke-width="1.3"/>
<text x="467.5" y="743" font-size="12.5" text-anchor="middle" fill="#111">4</text>
<text x="421.25" y="761.5" font-size="15" text-anchor="middle" fill="#111">Time (s)</text>
<text x="340" y="688" font-size="15.5" text-anchor="middle" fill="#111" transform="rotate(-90 340 688)">Trials</text>
<text x="356" y="688" font-size="15.5" text-anchor="middle" fill="#111" transform="rotate(-90 356 688)">(Ipsi x O-)</text>
<line x1="567.6" y1="393.8" x2="567.6" y2="471.6" stroke="#111" stroke-width="1.6"/>
<line x1="563.2" y1="406.4" x2="567.6" y2="406.4" stroke="#111" stroke-width="1.6"/>
<text x="561.4" y="410.9" font-size="12.5" text-anchor="end" fill="#111">3</text>
<line x1="563.2" y1="422.7" x2="567.6" y2="422.7" stroke="#111" stroke-width="1.6"/>
<text x="561.4" y="427.2" font-size="12.5" text-anchor="end" fill="#111">2</text>
<line x1="563.2" y1="439.0" x2="567.6" y2="439.0" stroke="#111" stroke-width="1.6"/>
<text x="561.4" y="443.5" font-size="12.5" text-anchor="end" fill="#111">1</text>
<line x1="563.2" y1="455.3" x2="567.6" y2="455.3" stroke="#111" stroke-width="1.6"/>
<text x="561.4" y="459.8" font-size="12.5" text-anchor="end" fill="#111">0</text>
<line x1="563.2" y1="471.6" x2="567.6" y2="471.6" stroke="#111" stroke-width="1.6"/>
<text x="561.4" y="476.1" font-size="12.5" text-anchor="end" fill="#111">-1</text>
<line x1="567.6" y1="455.3" x2="671.3" y2="455.3" stroke="#111" stroke-width="1.3" stroke-dasharray="1.4,1.6"/>
<path d="M567.6,457.9 C569.0,458.0 573.4,458.1 576.2,458.2 C579.1,458.4 582.0,458.7 584.9,458.7 C587.8,458.7 590.6,458.3 593.5,458.2 C596.4,458.2 599.6,458.1 602.2,458.2 C604.8,458.4 606.8,459.1 609.1,459.2 C611.4,459.3 613.7,459.4 616.0,458.7 C618.3,458.1 620.6,456.3 622.9,455.3 C625.2,454.3 626.9,453.7 629.8,453.0 C632.7,452.4 636.7,451.6 640.2,451.4 C643.6,451.2 647.1,451.6 650.6,451.9 C654.0,452.1 657.5,452.5 660.9,453.0 C664.4,453.5 669.6,454.6 671.3,455.0 L671.3,458.9 C669.6,458.7 664.4,457.9 660.9,457.6 C657.5,457.3 654.0,457.3 650.6,457.1 C647.1,456.9 643.6,456.5 640.2,456.6 C636.7,456.7 632.7,457.3 629.8,457.6 C626.9,457.9 625.2,458.0 622.9,458.6 C620.6,459.1 618.3,460.7 616.0,461.0 C613.7,461.3 611.4,460.8 609.1,460.5 C606.8,460.3 604.8,459.7 602.2,459.5 C599.6,459.4 596.4,459.5 593.5,459.5 C590.6,459.6 587.8,460.0 584.9,460.0 C582.0,460.0 579.1,459.7 576.2,459.5 C573.4,459.4 569.0,459.3 567.6,459.2 Z" fill="#f0962e" fill-opacity="0.45" stroke="none"/>
<path d="M567.6,458.6 C569.0,458.6 573.4,458.8 576.2,458.9 C579.1,459.0 582.0,459.4 584.9,459.4 C587.8,459.4 590.6,459.0 593.5,458.9 C596.4,458.8 599.6,458.7 602.2,458.9 C604.8,459.0 606.8,459.7 609.1,459.9 C611.4,460.0 613.7,460.4 616.0,459.9 C618.3,459.4 620.6,457.7 622.9,456.9 C625.2,456.2 626.9,455.8 629.8,455.3 C632.7,454.8 636.7,454.1 640.2,454.0 C643.6,453.9 647.1,454.3 650.6,454.5 C654.0,454.7 657.5,454.9 660.9,455.3 C664.4,455.7 669.6,456.7 671.3,456.9" fill="none" stroke="#f0962e" stroke-width="2.4" stroke-linejoin="round" stroke-linecap="round"/>
<text x="571.7" y="404.7" font-size="15" text-anchor="start" fill="#111">Contra <tspan fill="#999">x</tspan> O+</text>
<text x="546" y="432.5" font-size="16" text-anchor="middle" fill="#111" transform="rotate(-90 546 432.5)">z-score</text>
<rect x="567.6" y="479.30" width="103.70" height="2.00" fill="url(#h63)"/><rect x="567.6" y="485.30" width="103.70" height="2.00" fill="url(#h64)"/><rect x="567.6" y="493.30" width="103.70" height="2.00" fill="url(#h65)"/><rect x="567.6" y="505.30" width="103.70" height="2.00" fill="url(#h66)"/><rect x="567.6" y="509.30" width="103.70" height="2.00" fill="url(#h67)"/><rect x="567.6" y="543.30" width="103.70" height="2.00" fill="url(#h68)"/><rect x="567.6" y="547.30" width="103.70" height="2.00" fill="url(#h69)"/><rect x="567.6" y="487.32" width="103.70" height="1.35" fill="url(#h70)"/><rect x="567.6" y="494.31" width="103.70" height="1.98" fill="url(#h71)"/><rect x="567.6" y="496.97" width="103.70" height="1.26" fill="url(#h72)"/><rect x="567.6" y="500.50" width="103.70" height="1.80" fill="url(#h73)"/><rect x="567.6" y="505.02" width="103.70" height="1.35" fill="url(#h74)"/><rect x="567.6" y="509.32" width="103.70" height="1.35" fill="url(#h75)"/><rect x="567.6" y="515.11" width="103.70" height="1.98" fill="url(#h76)"/><rect x="567.6" y="519.83" width="103.70" height="1.35" fill="url(#h77)"/><rect x="567.6" y="526.59" width="103.70" height="1.62" fill="url(#h78)"/><rect x="567.6" y="535.80" width="103.70" height="1.80" fill="url(#h79)"/><rect x="567.6" y="540.10" width="103.70" height="1.80" fill="url(#h80)"/><rect x="567.6" y="544.68" width="103.70" height="1.44" fill="url(#h81)"/><rect x="567.6" y="548.73" width="103.70" height="2.34" fill="url(#h82)"/><rect x="567.6" y="552.83" width="103.70" height="1.35" fill="url(#h83)"/>
<rect x="567.6" y="479.3" width="103.70" height="76.00" fill="none" stroke="#222" stroke-width="1.3"/>
<line x1="601.8" y1="410.5" x2="601.8" y2="555" stroke="#e2623c" stroke-width="1.6" stroke-dasharray="2.2,5.3"/>
<text x="561.5" y="518.5" font-size="15.5" text-anchor="middle" fill="#111" transform="rotate(-90 561.5 518.5)">(Cont x O+)</text>
<line x1="567.6" y1="563.5" x2="567.6" y2="642.0" stroke="#111" stroke-width="1.6"/>
<line x1="563.2" y1="576.8000000000001" x2="567.6" y2="576.8000000000001" stroke="#111" stroke-width="1.6"/>
<text x="561.4" y="581.3000000000001" font-size="12.5" text-anchor="end" fill="#111">3</text>
<line x1="563.2" y1="593.1" x2="567.6" y2="593.1" stroke="#111" stroke-width="1.6"/>
<text x="561.4" y="597.6" font-size="12.5" text-anchor="end" fill="#111">2</text>
<line x1="563.2" y1="609.4000000000001" x2="567.6" y2="609.4000000000001" stroke="#111" stroke-width="1.6"/>
<text x="561.4" y="613.9000000000001" font-size="12.5" text-anchor="end" fill="#111">1</text>
<line x1="563.2" y1="625.7" x2="567.6" y2="625.7" stroke="#111" stroke-width="1.6"/>
<text x="561.4" y="630.2" font-size="12.5" text-anchor="end" fill="#111">0</text>
<line x1="563.2" y1="642.0" x2="567.6" y2="642.0" stroke="#111" stroke-width="1.6"/>
<text x="561.4" y="646.5" font-size="12.5" text-anchor="end" fill="#111">-1</text>
<line x1="567.6" y1="625.7" x2="671.3" y2="625.7" stroke="#111" stroke-width="1.3" stroke-dasharray="1.4,1.6"/>
<path d="M567.6,629.0 C570.5,629.0 579.1,629.2 584.9,629.3 C590.6,629.3 596.4,629.2 602.2,629.3 C607.9,629.4 613.7,629.8 619.5,629.8 C625.2,629.7 631.0,629.1 636.7,629.0 C642.5,628.8 648.3,628.9 654.0,629.0 C659.8,629.0 668.4,629.2 671.3,629.3" fill="none" stroke="#f0962e" stroke-width="2.4" stroke-linejoin="round" stroke-linecap="round"/>
<text x="571.7" y="574.5" font-size="15" text-anchor="start" fill="#111">Contra <tspan fill="#999">x</tspan> O-</text>
<text x="546" y="603" font-size="16" text-anchor="middle" fill="#111" transform="rotate(-90 546 603)">z-score</text>
<rect x="567.6" y="651.99" width="103.70" height="1.99" fill="url(#h84)"/><rect x="567.6" y="657.95" width="103.70" height="1.99" fill="url(#h85)"/><rect x="567.6" y="661.92" width="103.70" height="1.99" fill="url(#h86)"/><rect x="567.6" y="669.87" width="103.70" height="1.99" fill="url(#h87)"/><rect x="567.6" y="671.86" width="103.70" height="1.99" fill="url(#h88)"/><rect x="567.6" y="673.84" width="103.70" height="1.99" fill="url(#h89)"/><rect x="567.6" y="695.70" width="103.70" height="1.99" fill="url(#h90)"/><rect x="567.6" y="699.67" width="103.70" height="1.99" fill="url(#h91)"/><rect x="567.6" y="713.58" width="103.70" height="1.99" fill="url(#h92)"/><rect x="567.6" y="664.79" width="103.70" height="1.62" fill="url(#h93)"/><rect x="567.6" y="674.09" width="103.70" height="1.62" fill="url(#h94)"/><rect x="567.6" y="676.40" width="103.70" height="1.80" fill="url(#h95)"/><rect x="567.6" y="680.58" width="103.70" height="1.44" fill="url(#h96)"/><rect x="567.6" y="683.48" width="103.70" height="1.44" fill="url(#h97)"/><rect x="567.6" y="687.29" width="103.70" height="1.62" fill="url(#h98)"/><rect x="567.6" y="689.69" width="103.70" height="1.62" fill="url(#h99)"/><rect x="567.6" y="692.68" width="103.70" height="1.44" fill="url(#h100)"/><rect x="567.6" y="696.59" width="103.70" height="1.62" fill="url(#h101)"/><rect x="567.6" y="699.12" width="103.70" height="1.35" fill="url(#h102)"/><rect x="567.6" y="704.68" width="103.70" height="1.44" fill="url(#h103)"/><rect x="567.6" y="706.58" width="103.70" height="1.44" fill="url(#h104)"/><rect x="567.6" y="709.30" width="103.70" height="1.80" fill="url(#h105)"/><rect x="567.6" y="713.49" width="103.70" height="1.62" fill="url(#h106)"/><rect x="567.6" y="717.49" width="103.70" height="1.62" fill="url(#h107)"/><rect x="567.6" y="723.48" width="103.70" height="1.44" fill="url(#h108)"/>
<rect x="567.6" y="650" width="103.70" height="75.50" fill="none" stroke="#222" stroke-width="1.3"/>
<line x1="601.8" y1="580" x2="601.8" y2="725" stroke="#e2623c" stroke-width="1.6" stroke-dasharray="2.2,5.3"/>
<line x1="567.6" y1="725.5" x2="567.6" y2="730.0" stroke="#111" stroke-width="1.3"/>
<text x="567.6" y="743" font-size="12.5" text-anchor="middle" fill="#111">-2</text>
<line x1="602.1666666666666" y1="725.5" x2="602.1666666666666" y2="730.0" stroke="#111" stroke-width="1.3"/>
<text x="602.1666666666666" y="743" font-size="12.5" text-anchor="middle" fill="#111">0</text>
<line x1="636.7333333333333" y1="725.5" x2="636.7333333333333" y2="730.0" stroke="#111" stroke-width="1.3"/>
<text x="636.7333333333333" y="743" font-size="12.5" text-anchor="middle" fill="#111">2</text>
<line x1="671.3" y1="725.5" x2="671.3" y2="730.0" stroke="#111" stroke-width="1.3"/>
<text x="671.3" y="743" font-size="12.5" text-anchor="middle" fill="#111">4</text>
<text x="625.45" y="761.5" font-size="15" text-anchor="middle" fill="#111">Time (s)</text>
<text x="545" y="688" font-size="15" text-anchor="middle" fill="#111" transform="rotate(-90 545 688)">Trials</text>
<text x="561.5" y="688" font-size="15.5" text-anchor="middle" fill="#111" transform="rotate(-90 561.5 688)">(Cont x O-)</text>
<rect x="660.5" y="703.8" width="4.2" height="16" fill="url(#cbar)"/>
<text x="665.4" y="709.5" font-size="8" text-anchor="start" fill="#333">1</text>
<text x="665.4" y="723.5" font-size="8" text-anchor="start" fill="#333">0</text>
<text x="5" y="808" font-size="40" text-anchor="start" fill="#111">f</text>
<line x1="98.6" y1="809.7" x2="98.6" y2="987.6" stroke="#111" stroke-width="2"/>
<line x1="90.1" y1="809.7" x2="98.6" y2="809.7" stroke="#111" stroke-width="2"/>
<line x1="90.1" y1="898.6500000000001" x2="98.6" y2="898.6500000000001" stroke="#111" stroke-width="2"/>
<line x1="90.1" y1="987.6" x2="98.6" y2="987.6" stroke="#111" stroke-width="2"/>
<line x1="90" y1="987.6" x2="276.6" y2="987.6" stroke="#111" stroke-width="2"/>
<line x1="98.6" y1="987.6" x2="98.6" y2="995.6" stroke="#111" stroke-width="2"/>
<line x1="187" y1="987.6" x2="187" y2="995.6" stroke="#111" stroke-width="2"/>
<line x1="276.6" y1="987.6" x2="276.6" y2="995.6" stroke="#111" stroke-width="2"/>
<text x="85.5" y="817.5" font-size="24" text-anchor="end" fill="#111">1</text>
<text x="84" y="996" font-size="24" text-anchor="end" fill="#111">0</text>
<text x="98.6" y="1023" font-size="24" text-anchor="middle" fill="#111">0</text>
<text x="187" y="1023" font-size="24" text-anchor="middle" fill="#111">5</text>
<text x="276.6" y="1023" font-size="24" text-anchor="middle" fill="#111">10</text>
<text x="187.5" y="1053.4" font-size="27.5" text-anchor="middle" fill="#111" textLength="155.5" lengthAdjust="spacingAndGlyphs">Tuning Index</text>
<text x="34" y="902" font-size="27.5" text-anchor="middle" fill="#111" transform="rotate(-90 34 902)">CDF</text>
<text x="62" y="898" font-size="27.5" text-anchor="middle" fill="#111" transform="rotate(-90 62 898)">(Ch<tspan fill="#999">X</tspan>O+)</text>
<text x="305.5" y="836.6" font-size="20" text-anchor="end" fill="#3d4a9c" textLength="100.3" lengthAdjust="spacingAndGlyphs">PL::A-DMS</text>
<text x="305.5" y="861.3" font-size="20" text-anchor="end" fill="#f0962e" textLength="100.3" lengthAdjust="spacingAndGlyphs">PL::P-DMS</text>
<text x="193" y="921.8" font-size="16.5" text-anchor="end" fill="#111" font-weight="bold" font-style="italic">k-s test</text>
<text x="192.5" y="938.5" font-size="16.1" text-anchor="end" fill="#111">*p= 0.018</text>
<text x="193" y="954.6" font-size="16.5" text-anchor="end" fill="#111" font-weight="bold" font-style="italic">t-test</text>
<text x="190.5" y="971.6" font-size="16.2" text-anchor="end" fill="#111">**p = 0.002</text>
<path d="M98.6,931.5 C99.4,927.0 101.8,912.9 103.7,904.2 C105.6,895.5 107.6,886.8 109.9,879.4 C112.2,872.0 114.4,865.8 117.3,859.6 C120.2,853.4 123.5,847.2 127.2,842.2 C130.9,837.2 135.0,833.0 139.6,829.8 C144.2,826.6 148.7,824.7 154.5,822.8 C160.3,820.9 166.5,820.0 174.4,818.6 C182.3,817.2 193.0,815.5 201.7,814.4 C210.4,813.2 218.7,812.5 226.5,811.7 C234.3,811.0 245.1,810.2 248.8,809.9" fill="none" stroke="#f0962e" stroke-width="3.3" stroke-linejoin="round" stroke-linecap="round"/>
<path d="M98.6,920.4 C99.2,916.0 100.9,902.8 102.4,894.3 C103.9,885.8 105.3,877.4 107.4,869.5 C109.5,861.6 111.9,853.8 114.8,847.2 C117.7,840.6 121.0,834.6 124.7,829.8 C128.4,825.0 132.6,821.4 137.2,818.6 C141.8,815.8 146.2,814.1 152.0,812.9 C157.8,811.7 164.7,811.7 171.9,811.2 C179.2,810.7 191.6,810.1 195.5,809.9" fill="none" stroke="#3d4a9c" stroke-width="3.3" stroke-linejoin="round" stroke-linecap="round"/>
<line x1="276.4" y1="892.7" x2="276.4" y2="969.8" stroke="#111" stroke-width="1.3"/>
<line x1="276.4" y1="969.8" x2="278.9" y2="969.8" stroke="#111" stroke-width="1.3"/>
<text x="280.2" y="974.8" font-size="14" text-anchor="start" fill="#111">0</text>
<line x1="276.4" y1="944.1" x2="278.9" y2="944.1" stroke="#111" stroke-width="1.3"/>
<text x="280.2" y="949.1" font-size="14" text-anchor="start" fill="#111">2</text>
<line x1="276.4" y1="918.4" x2="278.9" y2="918.4" stroke="#111" stroke-width="1.3"/>
<text x="280.2" y="923.4" font-size="14" text-anchor="start" fill="#111">4</text>
<line x1="276.4" y1="892.7" x2="278.9" y2="892.7" stroke="#111" stroke-width="1.3"/>
<text x="280.2" y="897.7" font-size="14" text-anchor="start" fill="#111">6</text>
<text x="297.3" y="929.25" font-size="15.6" text-anchor="middle" fill="#111" transform="rotate(90 297.3 929.25)">Tuning index</text>
<line x1="229.7" y1="900" x2="229.7" y2="950" stroke="#6f70b0" stroke-width="0.9" stroke-dasharray="1,2.5"/>
<line x1="257.4" y1="895.7" x2="257.4" y2="941" stroke="#f5b062" stroke-width="0.8"/>
<path d="M229.8,940.0 C229.9,942.5 229.9,951.2 230.0,955.0 C230.1,958.8 230.1,961.1 230.3,963.0 C230.5,964.9 230.6,965.6 231.2,966.5 C231.8,967.4 232.4,967.9 233.7,968.5 C235.0,969.1 237.9,970.0 238.8,970.3 L220.6,970.3 C221.4,970.0 224.4,969.1 225.7,968.5 C227.0,967.9 227.6,967.4 228.2,966.5 C228.8,965.6 228.9,964.9 229.1,963.0 C229.3,961.1 229.3,958.8 229.4,955.0 C229.5,951.2 229.5,942.5 229.5,940.0 Z" fill="#6f70b0"/>
<line x1="221.2" y1="969.6" x2="238.2" y2="969.6" stroke="#111" stroke-width="1.0"/>
<path d="M257.5,895.7 C257.5,900.2 257.6,916.0 257.7,923.0 C257.8,930.0 257.8,934.3 257.9,938.0 C258.0,941.7 258.1,942.9 258.2,945.3 C258.3,947.7 258.4,950.7 258.5,952.6 C258.6,954.5 258.8,955.3 259.0,956.5 C259.2,957.7 259.5,959.0 259.8,959.9 C260.1,960.8 260.4,961.3 260.9,962.0 C261.3,962.7 261.9,963.4 262.5,964.3 C263.1,965.2 264.0,966.2 264.7,967.2 C265.4,968.2 266.4,969.8 266.7,970.3 L248.1,970.3 C248.4,969.8 249.4,968.2 250.1,967.2 C250.8,966.2 251.7,965.2 252.3,964.3 C252.9,963.4 253.4,962.7 253.9,962.0 C254.3,961.3 254.7,960.8 255.0,959.9 C255.3,959.0 255.6,957.7 255.8,956.5 C256.0,955.3 256.2,954.5 256.3,952.6 C256.4,950.7 256.5,947.7 256.6,945.3 C256.7,942.9 256.8,941.7 256.9,938.0 C257.0,934.3 257.0,930.0 257.1,923.0 C257.2,916.0 257.3,900.2 257.3,895.7 Z" fill="#f5b062"/>
<line x1="255.2" y1="959.6" x2="259.59999999999997" y2="959.6" stroke="#111" stroke-width="1.0"/>
<line x1="248.89999999999998" y1="969.6" x2="265.9" y2="969.6" stroke="#111" stroke-width="1.0" stroke-dasharray="3.5,2.5"/>
<line x1="229.4" y1="886.2" x2="258.2" y2="886.2" stroke="#111" stroke-width="1.6"/>
<text x="243.8" y="888.6" font-size="20" text-anchor="middle" fill="#111" font-weight="bold">**</text>
<text x="352" y="816" font-size="40" text-anchor="start" fill="#111">g</text>
<line x1="442.5" y1="799.7" x2="442.5" y2="979.7" stroke="#111" stroke-width="2.4"/>
<line x1="430.5" y1="799.7" x2="442.5" y2="799.7" stroke="#111" stroke-width="2.4"/>
<line x1="430.5" y1="889.7" x2="442.5" y2="889.7" stroke="#111" stroke-width="2.4"/>
<line x1="430.5" y1="979.7" x2="442.5" y2="979.7" stroke="#111" stroke-width="2.4"/>
<line x1="430.5" y1="979.7" x2="654.78" y2="979.7" stroke="#111" stroke-width="2.4"/>
<line x1="442.5" y1="979.7" x2="442.5" y2="989.7" stroke="#111" stroke-width="2.4"/>
<line x1="477.88" y1="979.7" x2="477.88" y2="989.7" stroke="#111" stroke-width="2.4"/>
<line x1="513.26" y1="979.7" x2="513.26" y2="989.7" stroke="#111" stroke-width="2.4"/>
<line x1="548.64" y1="979.7" x2="548.64" y2="989.7" stroke="#111" stroke-width="2.4"/>
<line x1="584.02" y1="979.7" x2="584.02" y2="989.7" stroke="#111" stroke-width="2.4"/>
<line x1="619.4" y1="979.7" x2="619.4" y2="989.7" stroke="#111" stroke-width="2.4"/>
<line x1="654.78" y1="979.7" x2="654.78" y2="989.7" stroke="#111" stroke-width="2.4"/>
<text x="424.5" y="808.5" font-size="26" text-anchor="end" fill="#111">1</text>
<text x="424.5" y="989" font-size="26" text-anchor="end" fill="#111">0</text>
<text x="442.5" y="1022.2" font-size="26.5" text-anchor="middle" fill="#111">0</text>
<text x="477.88" y="1022.2" font-size="26.5" text-anchor="middle" fill="#111">1</text>
<text x="513.26" y="1022.2" font-size="26.5" text-anchor="middle" fill="#111">2</text>
<text x="548.64" y="1022.2" font-size="26.5" text-anchor="middle" fill="#111">3</text>
<text x="584.02" y="1022.2" font-size="26.5" text-anchor="middle" fill="#111">4</text>
<text x="619.4" y="1022.2" font-size="26.5" text-anchor="middle" fill="#111">5</text>
<text x="654.78" y="1022.2" font-size="26.5" text-anchor="middle" fill="#111">6</text>
<text x="555" y="1052" font-size="28" text-anchor="middle" fill="#111" textLength="98.4" lengthAdjust="spacingAndGlyphs">Time (s)</text>
<text x="400.5" y="887" font-size="27.5" text-anchor="middle" fill="#111" transform="rotate(-90 400.5 887)">a.u.</text>
<rect x="442.5" y="799.7" width="17" height="10.3" fill="#3d4a9c"/>
<rect x="497.3" y="799.7" width="129.2" height="10.3" fill="#f2a030"/>
<rect x="654" y="799.7" width="1.6" height="10.3" fill="#f2a030"/>
<text x="658" y="835.2" font-size="23.5" text-anchor="end" fill="#111">Kernel (Ch<tspan fill="#999">x</tspan>O+)</text>
<text x="657.4" y="861" font-size="20.2" text-anchor="end" fill="#3d4a9c">PL::A-DMS</text>
<text x="657.4" y="882.5" font-size="20.2" text-anchor="end" fill="#f0962e">PL::P-DMS</text>
<path d="M442.5,974.3 C443.8,970.4 447.3,956.6 450.3,950.9 C453.2,945.2 456.2,942.1 460.2,940.1 C464.2,938.1 469.6,939.4 474.3,939.2 C479.1,939.1 483.5,940.6 488.5,939.2 C493.5,937.9 499.1,934.6 504.4,931.1 C509.7,927.6 515.9,921.6 520.3,918.5 C524.8,915.4 526.2,913.1 531.0,912.2 C535.7,911.3 542.7,912.2 548.6,913.1 C554.5,914.0 561.0,916.4 566.3,917.6 C571.6,918.8 575.8,919.0 580.5,920.3 C585.2,921.7 589.6,923.3 594.6,925.7 C599.6,928.1 604.9,930.8 610.6,934.7 C616.2,938.6 623.0,945.2 628.6,949.1 C634.2,953.0 639.8,954.4 644.2,958.1 C648.5,961.9 653.0,969.4 654.8,971.6 L654.8,976.5 C653.0,974.3 648.5,966.6 644.2,963.5 C639.8,960.4 634.2,959.9 628.6,958.1 C623.0,956.3 616.2,954.1 610.6,952.7 C604.9,951.4 599.6,950.6 594.6,950.0 C589.6,949.4 585.2,949.1 580.5,949.1 C575.8,949.1 571.6,950.0 566.3,950.0 C561.0,950.0 554.5,949.1 548.6,949.1 C542.7,949.1 535.7,949.7 531.0,950.0 C526.2,950.3 524.8,950.5 520.3,950.9 C515.9,951.4 509.7,952.1 504.4,952.7 C499.1,953.3 493.5,954.2 488.5,954.5 C483.5,954.8 479.1,954.2 474.3,954.5 C469.6,954.8 464.2,954.5 460.2,956.3 C456.2,958.1 453.2,961.4 450.3,965.3 C447.3,969.2 443.8,977.3 442.5,979.7 Z" fill="#f5b45e" fill-opacity="0.55" stroke="none"/>
<path d="M442.5,961.7 C443.4,952.7 446.0,923.3 447.8,907.7 C449.6,892.1 451.7,876.1 453.1,868.1 C454.5,860.1 454.8,859.0 456.3,859.6 C457.8,860.2 459.8,865.5 462.0,871.7 C464.1,877.9 466.6,888.8 469.0,896.9 C471.5,905.0 473.8,912.5 476.5,920.3 C479.1,928.1 482.7,938.3 485.0,943.7 C487.2,949.1 486.9,949.4 489.9,952.7 C492.9,956.0 498.0,961.4 503.0,963.5 C508.0,965.6 515.3,965.3 520.0,965.3 C524.6,965.3 526.2,964.1 531.0,963.5 C535.7,962.9 542.2,962.0 548.6,961.7 C555.1,961.4 562.8,961.4 569.9,961.7 C576.9,962.0 585.2,963.2 591.1,963.5 C597.0,963.8 600.5,964.1 605.2,963.5 C610.0,962.9 615.3,961.1 619.4,959.9 C623.5,958.7 625.9,956.9 630.0,956.3 C634.1,955.7 640.6,955.4 644.2,956.3 C647.7,957.2 649.5,958.7 651.2,961.7 C653.0,964.7 654.2,972.2 654.8,974.3 L654.8,977.9 C654.2,976.7 653.0,972.5 651.2,970.7 C649.5,968.9 647.9,968.0 644.2,967.1 C640.4,966.2 632.7,965.3 628.6,965.3 C624.5,965.3 623.3,966.4 619.4,967.1 C615.5,967.9 610.0,969.5 605.2,969.8 C600.5,970.1 597.0,969.2 591.1,968.9 C585.2,968.6 576.9,968.0 569.9,968.0 C562.8,968.0 555.1,968.6 548.6,968.9 C542.2,969.2 535.7,969.4 531.0,969.8 C526.2,970.2 524.6,970.9 520.0,971.1 C515.3,971.2 508.0,970.8 503.0,970.7 C498.0,970.6 494.1,971.3 489.9,970.7 C485.7,970.1 481.1,968.9 477.9,967.1 C474.7,965.3 473.2,962.3 470.8,959.9 C468.4,957.5 465.8,954.5 463.7,952.7 C461.7,950.9 460.2,949.4 458.4,949.1 C456.7,948.8 454.9,948.8 453.1,950.9 C451.3,953.0 449.6,957.8 447.8,961.7 C446.0,965.6 443.4,972.2 442.5,974.3 Z" fill="#9da1cc" fill-opacity="0.45" stroke="none"/>
<path d="M442.5,977.9 C443.8,974.6 447.6,963.0 450.3,958.1 C452.9,953.2 455.0,950.5 458.4,948.7 C461.8,947.0 465.8,947.8 470.8,947.7 C475.8,947.5 482.9,948.3 488.5,947.7 C494.1,947.0 499.1,945.4 504.4,943.7 C509.7,942.0 515.9,939.1 520.3,937.4 C524.8,935.8 526.2,934.7 531.0,933.8 C535.7,932.9 542.7,932.0 548.6,932.0 C554.5,932.0 561.0,933.5 566.3,933.8 C571.6,934.1 575.8,933.4 580.5,933.8 C585.2,934.2 589.6,934.9 594.6,936.5 C599.6,938.1 604.9,941.0 610.6,943.7 C616.2,946.4 623.0,950.0 628.6,952.9 C634.2,955.7 639.8,957.2 644.2,960.8 C648.5,964.4 653.0,972.1 654.8,974.3" fill="none" stroke="#f0a030" stroke-width="3.3" stroke-linejoin="round" stroke-linecap="round"/>
<path d="M442.5,968.9 C443.4,963.6 446.0,946.7 447.8,937.0 C449.6,927.4 451.7,916.3 453.1,910.9 C454.5,905.6 455.0,904.8 456.3,904.8 C457.6,904.8 459.2,907.3 460.9,910.9 C462.5,914.6 463.6,920.9 466.2,926.6 C468.8,932.3 472.5,939.7 476.5,945.0 C480.4,950.2 485.5,954.8 489.9,958.3 C494.3,961.8 498.0,964.4 503.0,966.0 C508.0,967.7 515.3,968.2 520.0,968.2 C524.7,968.2 526.5,966.7 531.3,966.2 C536.1,965.7 542.1,965.6 548.6,965.3 C555.2,965.0 563.5,964.3 570.6,964.4 C577.7,964.6 585.4,965.8 591.1,966.2 C596.8,966.6 600.2,967.0 604.9,966.6 C609.6,966.1 615.4,964.5 619.4,963.5 C623.4,962.5 624.5,961.0 628.6,960.8 C632.7,960.6 640.5,961.2 644.2,962.1 C647.9,962.9 649.1,963.6 650.9,966.0 C652.7,968.4 654.1,974.7 654.8,976.5" fill="none" stroke="#3d4a9c" stroke-width="3.5" stroke-linejoin="round" stroke-linecap="round"/>
<text x="13" y="1149" font-size="40" text-anchor="start" fill="#111">h</text>
<circle cx="137.9" cy="1193.8" r="62" fill="url(#pg2)"/>
<g stroke="#ffffff" stroke-opacity="0.55" stroke-width="1"><circle cx="137.9" cy="1193.8" r="15.50" fill="none"/><circle cx="137.9" cy="1193.8" r="31.00" fill="none"/><circle cx="137.9" cy="1193.8" r="46.50" fill="none"/><line x1="137.9" y1="1193.8" x2="137.90" y2="1131.80"/><line x1="137.9" y1="1193.8" x2="164.80" y2="1137.94"/><line x1="137.9" y1="1193.8" x2="186.37" y2="1155.14"/><line x1="137.9" y1="1193.8" x2="198.35" y2="1180.00"/><line x1="137.9" y1="1193.8" x2="198.35" y2="1207.60"/><line x1="137.9" y1="1193.8" x2="186.37" y2="1232.46"/><line x1="137.9" y1="1193.8" x2="164.80" y2="1249.66"/><line x1="137.9" y1="1193.8" x2="137.90" y2="1255.80"/><line x1="137.9" y1="1193.8" x2="111.00" y2="1249.66"/><line x1="137.9" y1="1193.8" x2="89.43" y2="1232.46"/><line x1="137.9" y1="1193.8" x2="77.45" y2="1207.60"/><line x1="137.9" y1="1193.8" x2="77.45" y2="1180.00"/><line x1="137.9" y1="1193.8" x2="89.43" y2="1155.14"/><line x1="137.9" y1="1193.8" x2="111.00" y2="1137.94"/></g>
<path d="M137.9,1193.8 L161.75,1212.82 A30.5,30.5 0 0 1 151.13,1221.28 Z" fill="#9dba85" stroke="#fff" stroke-width="0.8"/>
<path d="M137.9,1193.8 L139.20,1196.50 A3,3 0 0 1 137.90,1196.80 Z" fill="#5a8a3a" stroke="#fff" stroke-width="0.8"/>
<text x="153.48" y="1125.56" font-size="14" text-anchor="middle" dominant-baseline="central" fill="#222" transform="rotate(12.9 153.48 1125.56) scale(0.8 1) translate(38.37 0)">CUE</text>
<text x="181.54" y="1139.07" font-size="14" text-anchor="middle" dominant-baseline="central" fill="#222" transform="rotate(38.6 181.54 1139.07) scale(0.8 1) translate(45.39 0)">I<tspan font-size="10.08">NIT</tspan></text>
<text x="200.97" y="1163.43" font-size="14" text-anchor="middle" dominant-baseline="central" fill="#222" transform="rotate(64.3 200.97 1163.43) scale(0.8 1) translate(50.24 0)">I<tspan font-size="10.08">PSI</tspan></text>
<text x="207.90" y="1193.80" font-size="14" text-anchor="middle" dominant-baseline="central" fill="#222" transform="rotate(90.0 207.90 1193.80) scale(0.8 1) translate(51.98 0)">C<tspan font-size="10.08">ONT</tspan></text>
<text x="200.97" y="1224.17" font-size="14" text-anchor="middle" dominant-baseline="central" fill="#222" transform="rotate(115.7 200.97 1224.17) scale(0.8 1) translate(50.24 0)">O+</text>
<text x="181.54" y="1248.53" font-size="14" text-anchor="middle" dominant-baseline="central" fill="#222" transform="rotate(141.4 181.54 1248.53) scale(0.8 1) translate(45.39 0)">O-</text>
<text x="153.48" y="1262.04" font-size="14" text-anchor="middle" dominant-baseline="central" fill="#222" transform="rotate(167.1 153.48 1262.04) scale(0.8 1) translate(38.37 0)">C<tspan font-size="9.799999999999999">x</tspan>O+</text>
<text x="122.32" y="1262.04" font-size="14" text-anchor="middle" dominant-baseline="central" fill="#222" transform="rotate(192.9 122.32 1262.04) scale(0.8 1) translate(30.58 0)">C<tspan font-size="9.799999999999999">x</tspan>O-</text>
<text x="94.26" y="1248.53" font-size="14" text-anchor="middle" dominant-baseline="central" fill="#222" transform="rotate(218.6 94.26 1248.53) scale(0.8 1) translate(23.56 0)">ΔQ</text>
<text x="74.83" y="1224.17" font-size="14" text-anchor="middle" dominant-baseline="central" fill="#222" transform="rotate(244.3 74.83 1224.17) scale(0.8 1) translate(18.71 0)">ΣQ</text>
<text x="67.90" y="1193.80" font-size="14" text-anchor="middle" dominant-baseline="central" fill="#222" transform="rotate(270.0 67.90 1193.80) scale(0.8 1) translate(16.98 0)">RR</text>
<text x="74.83" y="1163.43" font-size="14" text-anchor="middle" dominant-baseline="central" fill="#222" transform="rotate(295.7 74.83 1163.43) scale(0.8 1) translate(18.71 0)">RPE+</text>
<text x="94.26" y="1139.07" font-size="14" text-anchor="middle" dominant-baseline="central" fill="#222" transform="rotate(321.4 94.26 1139.07) scale(0.8 1) translate(23.56 0)">RPE-</text>
<text x="122.32" y="1125.56" font-size="14" text-anchor="middle" dominant-baseline="central" fill="#222" transform="rotate(347.1 122.32 1125.56) scale(0.8 1) translate(30.58 0)">VEL</text>
<text x="42.7" y="1125.9" font-size="13" text-anchor="start" fill="#333" textLength="31.6" lengthAdjust="spacingAndGlyphs">Tuning</text>
<text x="42.7" y="1137" font-size="13" text-anchor="start" fill="#333" textLength="25" lengthAdjust="spacingAndGlyphs">index</text>
<rect x="64.5" y="1244.6" width="4.5" height="16.5" fill="url(#lg11)" stroke="#999" stroke-width="0.6"/>
<text x="63.5" y="1248" font-size="9" text-anchor="end" fill="#333">10</text>
<text x="63.5" y="1263" font-size="9" text-anchor="end" fill="#333">0</text>
<text x="56" y="1252.5" font-size="9" text-anchor="middle" fill="#333" transform="rotate(-90 56 1252.5)">Index</text>
<text x="13" y="1290.8" font-size="40" text-anchor="start" fill="#111">i</text>
<line x1="75.7" y1="1296.8" x2="75.7" y2="1371.4" stroke="#111" stroke-width="1.6"/>
<line x1="69.7" y1="1359.9" x2="75.7" y2="1359.9" stroke="#111" stroke-width="1.6"/>
<text x="68.2" y="1366.2" font-size="17.5" text-anchor="end" fill="#111">0</text>
<line x1="69.7" y1="1328.35" x2="75.7" y2="1328.35" stroke="#111" stroke-width="1.6"/>
<text x="68.2" y="1334.6499999999999" font-size="17.5" text-anchor="end" fill="#111">5</text>
<line x1="69.7" y1="1296.8" x2="75.7" y2="1296.8" stroke="#111" stroke-width="1.6"/>
<text x="68.2" y="1303.1" font-size="17.5" text-anchor="end" fill="#111">10</text>
<line x1="75.7" y1="1383.3" x2="75.7" y2="1458" stroke="#111" stroke-width="1.6"/>
<line x1="69.7" y1="1445.7" x2="75.7" y2="1445.7" stroke="#111" stroke-width="1.6"/>
<text x="68.2" y="1452.0" font-size="17.5" text-anchor="end" fill="#111">0</text>
<line x1="69.7" y1="1414.5" x2="75.7" y2="1414.5" stroke="#111" stroke-width="1.6"/>
<text x="68.2" y="1420.8" font-size="17.5" text-anchor="end" fill="#111">5</text>
<line x1="69.7" y1="1383.3" x2="75.7" y2="1383.3" stroke="#111" stroke-width="1.6"/>
<text x="68.2" y="1389.6" font-size="17.5" text-anchor="end" fill="#111">10</text>
<line x1="75.7" y1="1458" x2="224.2" y2="1458" stroke="#111" stroke-width="1.6"/>
<line x1="75.7" y1="1458" x2="75.7" y2="1465" stroke="#111" stroke-width="1.6"/>
<text x="75.7" y="1482.5" font-size="18" text-anchor="middle" fill="#111">0</text>
<line x1="100.45" y1="1458" x2="100.45" y2="1465" stroke="#111" stroke-width="1.6"/>
<text x="100.45" y="1482.5" font-size="18" text-anchor="middle" fill="#111">1</text>
<line x1="125.2" y1="1458" x2="125.2" y2="1465" stroke="#111" stroke-width="1.6"/>
<text x="125.2" y="1482.5" font-size="18" text-anchor="middle" fill="#111">2</text>
<line x1="149.95" y1="1458" x2="149.95" y2="1465" stroke="#111" stroke-width="1.6"/>
<text x="149.95" y="1482.5" font-size="18" text-anchor="middle" fill="#111">3</text>
<line x1="174.7" y1="1458" x2="174.7" y2="1465" stroke="#111" stroke-width="1.6"/>
<text x="174.7" y="1482.5" font-size="18" text-anchor="middle" fill="#111">4</text>
<line x1="199.45" y1="1458" x2="199.45" y2="1465" stroke="#111" stroke-width="1.6"/>
<text x="199.45" y="1482.5" font-size="18" text-anchor="middle" fill="#111">5</text>
<line x1="224.2" y1="1458" x2="224.2" y2="1465" stroke="#111" stroke-width="1.6"/>
<text x="224.2" y="1482.5" font-size="18" text-anchor="middle" fill="#111">6</text>
<text x="161" y="1501" font-size="18.3" text-anchor="middle" fill="#111">Time (s)</text>
<text x="45" y="1330" font-size="18" text-anchor="middle" fill="#111" transform="rotate(-90 45 1330)">a.u.</text>
<text x="45" y="1416" font-size="18" text-anchor="middle" fill="#111" transform="rotate(-90 45 1416)">a.u.</text>
<text x="214.4" y="1310" font-size="21" text-anchor="end" fill="#111">O+</text>
<text x="214.4" y="1395" font-size="21" text-anchor="end" fill="#111">O-</text>
<path d="M75.7,1359.9 C77.8,1359.9 84.0,1359.7 88.1,1359.8 C92.2,1359.8 96.3,1359.9 100.5,1360.2 C104.6,1360.6 106.6,1361.5 112.8,1361.8 C119.0,1362.1 129.3,1362.1 137.6,1362.1 C145.8,1362.1 155.3,1362.1 162.3,1361.8 C169.3,1361.5 173.5,1360.6 179.7,1360.2 C185.8,1359.9 192.0,1359.8 199.4,1359.8 C206.9,1359.7 220.1,1359.9 224.2,1359.9" fill="none" stroke="#3d4a9c" stroke-width="2.6" stroke-linejoin="round" stroke-linecap="round"/>
<path d="M75.7,1445.7 C76.9,1445.5 80.9,1446.3 83.1,1444.8 C85.4,1443.2 87.2,1441.4 89.3,1436.3 C91.4,1431.3 93.4,1420.6 95.5,1414.5 C97.6,1408.4 100.0,1401.9 101.7,1399.5 C103.3,1397.1 103.8,1398.7 105.4,1400.1 C107.1,1401.6 109.7,1406.4 111.6,1408.3 C113.4,1410.1 114.5,1411.8 116.5,1411.4 C118.6,1411.0 121.5,1407.3 124.0,1405.8 C126.4,1404.2 128.9,1402.2 131.4,1402.0 C133.9,1401.8 136.1,1403.0 138.8,1404.5 C141.5,1406.1 144.8,1409.5 147.5,1411.4 C150.2,1413.3 152.4,1414.6 154.9,1415.7 C157.4,1416.9 160.3,1418.5 162.3,1418.2 C164.4,1418.0 165.6,1416.4 167.3,1414.5 C168.9,1412.6 170.6,1408.1 172.2,1407.0 C173.9,1406.0 175.3,1407.4 177.2,1408.3 C179.0,1409.1 180.9,1411.1 183.4,1412.0 C185.8,1412.9 189.3,1412.6 192.0,1413.9 C194.7,1415.1 197.0,1417.3 199.4,1419.5 C201.9,1421.7 204.0,1424.6 206.9,1427.0 C209.8,1429.4 214.3,1431.7 216.8,1433.8 C219.3,1436.0 220.5,1438.3 221.7,1440.1 C223.0,1441.9 223.8,1443.7 224.2,1444.5 L224.2,1445.7 L75.7,1445.7 Z" fill="#c9cbe5"/>
<path d="M75.7,1445.7 C76.9,1445.5 80.9,1446.3 83.1,1444.8 C85.4,1443.2 87.2,1441.4 89.3,1436.3 C91.4,1431.3 93.4,1420.6 95.5,1414.5 C97.6,1408.4 100.0,1401.9 101.7,1399.5 C103.3,1397.1 103.8,1398.7 105.4,1400.1 C107.1,1401.6 109.7,1406.4 111.6,1408.3 C113.4,1410.1 114.5,1411.8 116.5,1411.4 C118.6,1411.0 121.5,1407.3 124.0,1405.8 C126.4,1404.2 128.9,1402.2 131.4,1402.0 C133.9,1401.8 136.1,1403.0 138.8,1404.5 C141.5,1406.1 144.8,1409.5 147.5,1411.4 C150.2,1413.3 152.4,1414.6 154.9,1415.7 C157.4,1416.9 160.3,1418.5 162.3,1418.2 C164.4,1418.0 165.6,1416.4 167.3,1414.5 C168.9,1412.6 170.6,1408.1 172.2,1407.0 C173.9,1406.0 175.3,1407.4 177.2,1408.3 C179.0,1409.1 180.9,1411.1 183.4,1412.0 C185.8,1412.9 189.3,1412.6 192.0,1413.9 C194.7,1415.1 197.0,1417.3 199.4,1419.5 C201.9,1421.7 204.0,1424.6 206.9,1427.0 C209.8,1429.4 214.3,1431.7 216.8,1433.8 C219.3,1436.0 220.5,1438.3 221.7,1440.1 C223.0,1441.9 223.8,1443.7 224.2,1444.5" fill="none" stroke="#3d4a9c" stroke-width="2.6" stroke-linejoin="round" stroke-linecap="round"/>
<text x="232" y="1146.5" font-size="40" text-anchor="start" fill="#111">j</text>
<line x1="275.5" y1="1163" x2="275.5" y2="1289" stroke="#111" stroke-width="2"/>
<line x1="269.5" y1="1183.8" x2="275.5" y2="1183.8" stroke="#111" stroke-width="2"/>
<text x="267.5" y="1189.3" font-size="18.5" text-anchor="end" fill="#111">3</text>
<line x1="269.5" y1="1210.2" x2="275.5" y2="1210.2" stroke="#111" stroke-width="2"/>
<text x="267.5" y="1215.7" font-size="18.5" text-anchor="end" fill="#111">2</text>
<line x1="269.5" y1="1236.6" x2="275.5" y2="1236.6" stroke="#111" stroke-width="2"/>
<text x="267.5" y="1242.1" font-size="18.5" text-anchor="end" fill="#111">1</text>
<line x1="269.5" y1="1263.0" x2="275.5" y2="1263.0" stroke="#111" stroke-width="2"/>
<text x="267.5" y="1268.5" font-size="18.5" text-anchor="end" fill="#111">0</text>
<line x1="275.5" y1="1263" x2="453.6" y2="1263" stroke="#111" stroke-width="1.3" stroke-dasharray="1.4,1.6"/>
<line x1="337.2" y1="1163" x2="337.2" y2="1456" stroke="#e2623c" stroke-width="1.6" stroke-dasharray="2.2,5.3"/>
<path d="M277.3,1266.7 C278.8,1266.4 283.1,1265.0 286.4,1264.8 C289.7,1264.7 293.6,1264.9 297.3,1265.6 C301.0,1266.4 304.7,1269.5 308.4,1269.3 C312.2,1269.2 316.3,1265.0 319.9,1264.8 C323.5,1264.7 325.4,1267.2 330.2,1268.5 C334.9,1269.9 341.1,1271.5 348.4,1272.8 C355.8,1274.0 365.1,1275.4 374.3,1275.9 C383.5,1276.5 393.9,1276.2 403.6,1275.9 C413.4,1275.7 424.7,1275.1 433.0,1274.6 C441.4,1274.2 450.2,1273.5 453.6,1273.3" fill="none" stroke="#3d4a9c" stroke-width="3" stroke-linejoin="round" stroke-linecap="round"/>
<text x="279.5" y="1184.8" font-size="29" text-anchor="start" fill="#111">O+</text>
<text x="246.5" y="1221" font-size="20" text-anchor="middle" fill="#111" transform="rotate(-90 246.5 1221)">z-score</text>
<rect x="277.3" y="1328.33" width="176.30" height="2.03" fill="url(#h109)"/><rect x="277.3" y="1330.36" width="176.30" height="2.03" fill="url(#h110)"/><rect x="277.3" y="1332.39" width="176.30" height="2.03" fill="url(#h111)"/><rect x="277.3" y="1334.42" width="176.30" height="2.03" fill="url(#h112)"/><rect x="277.3" y="1336.45" width="176.30" height="2.03" fill="url(#h113)"/><rect x="277.3" y="1338.48" width="176.30" height="2.03" fill="url(#h114)"/><rect x="277.3" y="1350.66" width="176.30" height="2.03" fill="url(#h115)"/><rect x="277.3" y="1352.69" width="176.30" height="2.03" fill="url(#h116)"/><rect x="277.3" y="1356.75" width="176.30" height="2.03" fill="url(#h117)"/><rect x="277.3" y="1362.83" width="176.30" height="2.03" fill="url(#h118)"/><rect x="277.3" y="1366.89" width="176.30" height="2.03" fill="url(#h119)"/><rect x="277.3" y="1372.98" width="176.30" height="2.03" fill="url(#h120)"/><rect x="277.3" y="1381.10" width="176.30" height="2.03" fill="url(#h121)"/><rect x="277.3" y="1389.22" width="176.30" height="2.03" fill="url(#h122)"/><rect x="277.3" y="1393.28" width="176.30" height="2.03" fill="url(#h123)"/><rect x="277.3" y="1395.31" width="176.30" height="2.03" fill="url(#h124)"/><rect x="277.3" y="1399.37" width="176.30" height="2.03" fill="url(#h125)"/><rect x="277.3" y="1403.43" width="176.30" height="2.03" fill="url(#h126)"/><rect x="277.3" y="1405.46" width="176.30" height="2.03" fill="url(#h127)"/><rect x="277.3" y="1409.52" width="176.30" height="2.03" fill="url(#h128)"/><rect x="277.3" y="1411.55" width="176.30" height="2.03" fill="url(#h129)"/><rect x="277.3" y="1413.58" width="176.30" height="2.03" fill="url(#h130)"/><rect x="277.3" y="1415.61" width="176.30" height="2.03" fill="url(#h131)"/><rect x="277.3" y="1419.67" width="176.30" height="2.03" fill="url(#h132)"/><rect x="277.3" y="1429.81" width="176.30" height="2.03" fill="url(#h133)"/><rect x="277.3" y="1431.84" width="176.30" height="2.03" fill="url(#h134)"/><rect x="277.3" y="1439.96" width="176.30" height="2.03" fill="url(#h135)"/><rect x="277.3" y="1444.02" width="176.30" height="2.03" fill="url(#h136)"/><rect x="277.3" y="1446.05" width="176.30" height="2.03" fill="url(#h137)"/><rect x="277.3" y="1454.17" width="176.30" height="2.03" fill="url(#h138)"/><rect x="277.3" y="1327.80" width="176.30" height="1.80" fill="url(#h139)"/><rect x="277.3" y="1330.50" width="176.30" height="1.80" fill="url(#h140)"/><rect x="277.3" y="1333.90" width="176.30" height="2.00" fill="url(#h141)"/><rect x="277.3" y="1340.30" width="176.30" height="2.00" fill="url(#h142)"/><rect x="277.3" y="1342.70" width="176.30" height="1.60" fill="url(#h143)"/><rect x="277.3" y="1350.00" width="176.30" height="2.00" fill="url(#h144)"/><rect x="277.3" y="1355.60" width="176.30" height="1.60" fill="url(#h145)"/><rect x="277.3" y="1357.50" width="176.30" height="1.60" fill="url(#h146)"/><rect x="277.3" y="1363.40" width="176.30" height="2.00" fill="url(#h147)"/><rect x="277.3" y="1369.90" width="176.30" height="2.00" fill="url(#h148)"/><rect x="277.3" y="1374.90" width="176.30" height="1.60" fill="url(#h149)"/><rect x="277.3" y="1380.60" width="176.30" height="2.00" fill="url(#h150)"/><rect x="277.3" y="1384.20" width="176.30" height="1.80" fill="url(#h151)"/><rect x="277.3" y="1388.10" width="176.30" height="2.00" fill="url(#h152)"/><rect x="277.3" y="1397.80" width="176.30" height="1.60" fill="url(#h153)"/><rect x="277.3" y="1401.70" width="176.30" height="1.80" fill="url(#h154)"/><rect x="277.3" y="1404.90" width="176.30" height="1.80" fill="url(#h155)"/><rect x="277.3" y="1408.00" width="176.30" height="2.60" fill="url(#h156)"/><rect x="277.3" y="1411.10" width="176.30" height="1.80" fill="url(#h157)"/><rect x="277.3" y="1413.70" width="176.30" height="2.00" fill="url(#h158)"/><rect x="277.3" y="1417.30" width="176.30" height="1.80" fill="url(#h159)"/><rect x="277.3" y="1421.80" width="176.30" height="1.80" fill="url(#h160)"/><rect x="277.3" y="1425.30" width="176.30" height="1.80" fill="url(#h161)"/><rect x="277.3" y="1429.90" width="176.30" height="1.80" fill="url(#h162)"/><rect x="277.3" y="1435.30" width="176.30" height="1.80" fill="url(#h163)"/><rect x="277.3" y="1439.10" width="176.30" height="2.20" fill="url(#h164)"/><rect x="277.3" y="1446.00" width="176.30" height="1.80" fill="url(#h165)"/><rect x="277.3" y="1449.30" width="176.30" height="2.20" fill="url(#h166)"/><rect x="277.3" y="1453.10" width="176.30" height="2.20" fill="url(#h167)"/>
<rect x="277.3" y="1326.3" width="176.30" height="129.90" fill="none" stroke="#222" stroke-width="1.3"/>
<line x1="337.2" y1="1326.3" x2="337.2" y2="1456.2" stroke="#e2623c" stroke-width="1.6" stroke-dasharray="2.2,5.3"/>
<line x1="277.3" y1="1462" x2="277.3" y2="1466.5" stroke="#111" stroke-width="1.6"/>
<text x="277.3" y="1487" font-size="20" text-anchor="middle" fill="#111">-2</text>
<line x1="336.06666666666666" y1="1462" x2="336.06666666666666" y2="1466.5" stroke="#111" stroke-width="1.6"/>
<text x="336.06666666666666" y="1487" font-size="20" text-anchor="middle" fill="#111">0</text>
<line x1="394.83333333333337" y1="1462" x2="394.83333333333337" y2="1466.5" stroke="#111" stroke-width="1.6"/>
<text x="394.83333333333337" y="1487" font-size="20" text-anchor="middle" fill="#111">2</text>
<line x1="453.6" y1="1462" x2="453.6" y2="1466.5" stroke="#111" stroke-width="1.6"/>
<text x="453.6" y="1487" font-size="20" text-anchor="middle" fill="#111">4</text>
<text x="367.45000000000005" y="1509.8" font-size="22.5" text-anchor="middle" fill="#111">Time (s)</text>
<text x="249.5" y="1387" font-size="20.8" text-anchor="middle" fill="#111" transform="rotate(-90 249.5 1387)">Trials</text>
<text x="267.5" y="1385" font-size="20.8" text-anchor="middle" fill="#111" transform="rotate(-90 267.5 1385)">(O+)</text>
<line x1="501.9" y1="1163" x2="501.9" y2="1289" stroke="#111" stroke-width="2"/>
<line x1="495.9" y1="1183.8" x2="501.9" y2="1183.8" stroke="#111" stroke-width="2"/>
<text x="493.9" y="1189.3" font-size="18.5" text-anchor="end" fill="#111">3</text>
<line x1="495.9" y1="1210.2" x2="501.9" y2="1210.2" stroke="#111" stroke-width="2"/>
<text x="493.9" y="1215.7" font-size="18.5" text-anchor="end" fill="#111">2</text>
<line x1="495.9" y1="1236.6" x2="501.9" y2="1236.6" stroke="#111" stroke-width="2"/>
<text x="493.9" y="1242.1" font-size="18.5" text-anchor="end" fill="#111">1</text>
<line x1="495.9" y1="1263.0" x2="501.9" y2="1263.0" stroke="#111" stroke-width="2"/>
<text x="493.9" y="1268.5" font-size="18.5" text-anchor="end" fill="#111">0</text>
<line x1="501.9" y1="1263" x2="676.7" y2="1263" stroke="#111" stroke-width="1.3" stroke-dasharray="1.4,1.6"/>
<line x1="561.3" y1="1163" x2="561.3" y2="1456" stroke="#e2623c" stroke-width="1.6" stroke-dasharray="2.2,5.3"/>
<path d="M503.4,1260.4 C504.8,1260.6 509.3,1261.8 512.2,1261.7 C515.0,1261.5 516.2,1258.9 520.4,1259.6 C524.5,1260.3 532.5,1265.4 537.1,1265.9 C541.7,1266.4 543.8,1262.2 547.9,1262.5 C552.1,1262.8 558.5,1267.0 562.0,1267.8 C565.5,1268.5 566.9,1268.1 568.8,1266.7 C570.6,1265.2 571.2,1263.5 572.9,1259.0 C574.5,1254.6 576.6,1246.5 578.4,1239.8 C580.3,1233.1 582.4,1223.4 584.0,1218.9 C585.6,1214.4 586.7,1213.7 588.1,1212.6 C589.5,1211.4 590.7,1213.1 592.2,1212.0 C593.7,1211.0 595.6,1206.9 597.2,1206.5 C598.8,1206.1 599.9,1208.0 601.9,1209.4 C603.8,1210.8 606.4,1214.4 608.9,1215.0 C611.5,1215.5 614.8,1213.8 617.1,1212.6 C619.4,1211.4 621.1,1208.4 622.7,1207.8 C624.3,1207.3 625.3,1209.5 626.8,1209.4 C628.3,1209.3 629.4,1206.1 631.5,1207.0 C633.6,1208.0 637.0,1213.0 639.4,1215.0 C641.9,1216.9 643.2,1217.5 646.2,1218.9 C649.1,1220.3 654.8,1222.8 657.3,1223.1 C659.8,1223.5 659.5,1221.9 661.4,1221.0 C663.3,1220.2 665.4,1218.3 668.4,1218.1 C671.5,1217.9 677.7,1219.4 679.6,1219.7 L679.6,1226.6 C677.7,1226.3 671.5,1224.8 668.4,1225.0 C665.4,1225.2 663.3,1227.1 661.4,1227.9 C659.5,1228.7 659.8,1230.4 657.3,1230.0 C654.8,1229.6 649.1,1227.1 646.2,1225.8 C643.2,1224.4 641.9,1223.8 639.4,1221.8 C637.0,1219.8 633.6,1214.8 631.5,1213.9 C629.4,1213.0 628.3,1216.1 626.8,1216.3 C625.3,1216.4 624.3,1214.2 622.7,1214.7 C621.1,1215.2 619.4,1218.3 617.1,1219.4 C614.8,1220.6 611.5,1222.3 608.9,1221.8 C606.4,1221.3 603.8,1217.7 601.9,1216.3 C599.9,1214.9 598.8,1212.9 597.2,1213.4 C595.6,1213.8 593.7,1217.9 592.2,1218.9 C590.7,1219.9 589.5,1218.3 588.1,1219.4 C586.7,1220.6 585.6,1221.2 584.0,1225.8 C582.4,1230.3 580.3,1239.9 578.4,1246.6 C576.6,1253.3 574.5,1261.4 572.9,1265.9 C571.2,1270.4 570.6,1272.1 568.8,1273.6 C566.9,1275.0 565.5,1275.3 562.0,1274.6 C558.5,1273.9 552.1,1269.6 547.9,1269.3 C543.8,1269.0 541.7,1273.3 537.1,1272.8 C532.5,1272.3 524.5,1267.1 520.4,1266.4 C516.2,1265.7 515.0,1268.4 512.2,1268.5 C509.3,1268.7 504.8,1267.4 503.4,1267.2 Z" fill="#9da1cc" fill-opacity="0.5" stroke="none"/>
<path d="M503.4,1263.8 C504.8,1264.0 509.3,1265.2 512.2,1265.1 C515.0,1265.0 516.2,1262.3 520.4,1263.0 C524.5,1263.7 532.5,1268.9 537.1,1269.3 C541.7,1269.8 543.8,1265.6 547.9,1265.9 C552.1,1266.2 558.5,1270.5 562.0,1271.2 C565.5,1271.9 566.9,1271.6 568.8,1270.1 C570.6,1268.7 571.2,1267.0 572.9,1262.5 C574.5,1258.0 576.6,1249.9 578.4,1243.2 C580.3,1236.5 582.4,1226.9 584.0,1222.3 C585.6,1217.8 586.7,1217.2 588.1,1216.0 C589.5,1214.9 590.7,1216.5 592.2,1215.5 C593.7,1214.5 595.6,1210.4 597.2,1209.9 C598.8,1209.5 599.9,1211.4 601.9,1212.8 C603.8,1214.2 606.4,1217.9 608.9,1218.4 C611.5,1218.9 614.8,1217.2 617.1,1216.0 C619.4,1214.8 621.1,1211.8 622.7,1211.3 C624.3,1210.7 625.3,1213.0 626.8,1212.8 C628.3,1212.7 629.4,1209.5 631.5,1210.5 C633.6,1211.4 637.0,1216.4 639.4,1218.4 C641.9,1220.4 643.2,1221.0 646.2,1222.3 C649.1,1223.7 654.8,1226.2 657.3,1226.6 C659.8,1226.9 659.5,1225.3 661.4,1224.5 C663.3,1223.6 665.4,1221.8 668.4,1221.6 C671.5,1221.3 677.7,1222.9 679.6,1223.1" fill="none" stroke="#3d4a9c" stroke-width="3" stroke-linejoin="round" stroke-linecap="round"/>
<text x="505.9" y="1184.8" font-size="29" text-anchor="start" fill="#111">O-</text>
<text x="471.5" y="1221" font-size="20" text-anchor="middle" fill="#111" transform="rotate(-90 471.5 1221)">z-score</text>
<rect x="502.5" y="1326.30" width="175.90" height="2.67" fill="url(#h168)"/><rect x="502.5" y="1328.62" width="175.90" height="2.67" fill="url(#h169)"/><rect x="502.5" y="1330.94" width="175.90" height="2.67" fill="url(#h170)"/><rect x="502.5" y="1333.26" width="175.90" height="2.67" fill="url(#h171)"/><rect x="502.5" y="1337.90" width="175.90" height="2.67" fill="url(#h172)"/><rect x="502.5" y="1340.22" width="175.90" height="2.67" fill="url(#h173)"/><rect x="502.5" y="1342.54" width="175.90" height="2.67" fill="url(#h174)"/><rect x="502.5" y="1344.86" width="175.90" height="2.67" fill="url(#h175)"/><rect x="502.5" y="1347.18" width="175.90" height="2.67" fill="url(#h176)"/><rect x="502.5" y="1349.50" width="175.90" height="2.67" fill="url(#h177)"/><rect x="502.5" y="1351.82" width="175.90" height="2.67" fill="url(#h178)"/><rect x="502.5" y="1354.14" width="175.90" height="2.67" fill="url(#h179)"/><rect x="502.5" y="1356.46" width="175.90" height="2.67" fill="url(#h180)"/><rect x="502.5" y="1358.78" width="175.90" height="2.67" fill="url(#h181)"/><rect x="502.5" y="1363.41" width="175.90" height="2.67" fill="url(#h182)"/><rect x="502.5" y="1365.73" width="175.90" height="2.67" fill="url(#h183)"/><rect x="502.5" y="1368.05" width="175.90" height="2.67" fill="url(#h184)"/><rect x="502.5" y="1370.37" width="175.90" height="2.67" fill="url(#h185)"/><rect x="502.5" y="1372.69" width="175.90" height="2.67" fill="url(#h186)"/><rect x="502.5" y="1375.01" width="175.90" height="2.67" fill="url(#h187)"/><rect x="502.5" y="1377.33" width="175.90" height="2.67" fill="url(#h188)"/><rect x="502.5" y="1379.65" width="175.90" height="2.67" fill="url(#h189)"/><rect x="502.5" y="1381.97" width="175.90" height="2.67" fill="url(#h190)"/><rect x="502.5" y="1384.29" width="175.90" height="2.67" fill="url(#h191)"/><rect x="502.5" y="1386.61" width="175.90" height="2.67" fill="url(#h192)"/><rect x="502.5" y="1388.93" width="175.90" height="2.67" fill="url(#h193)"/><rect x="502.5" y="1391.25" width="175.90" height="2.67" fill="url(#h194)"/><rect x="502.5" y="1393.57" width="175.90" height="2.67" fill="url(#h195)"/><rect x="502.5" y="1395.89" width="175.90" height="2.67" fill="url(#h196)"/><rect x="502.5" y="1398.21" width="175.90" height="2.67" fill="url(#h197)"/><rect x="502.5" y="1400.53" width="175.90" height="2.67" fill="url(#h198)"/><rect x="502.5" y="1402.85" width="175.90" height="2.67" fill="url(#h199)"/><rect x="502.5" y="1405.17" width="175.90" height="2.67" fill="url(#h200)"/><rect x="502.5" y="1407.49" width="175.90" height="2.67" fill="url(#h201)"/><rect x="502.5" y="1412.13" width="175.90" height="2.67" fill="url(#h202)"/><rect x="502.5" y="1414.45" width="175.90" height="2.67" fill="url(#h203)"/><rect x="502.5" y="1416.77" width="175.90" height="2.67" fill="url(#h204)"/><rect x="502.5" y="1419.09" width="175.90" height="2.67" fill="url(#h205)"/><rect x="502.5" y="1421.41" width="175.90" height="2.67" fill="url(#h206)"/><rect x="502.5" y="1423.72" width="175.90" height="2.67" fill="url(#h207)"/><rect x="502.5" y="1426.04" width="175.90" height="2.67" fill="url(#h208)"/><rect x="502.5" y="1428.36" width="175.90" height="2.67" fill="url(#h209)"/><rect x="502.5" y="1430.68" width="175.90" height="2.67" fill="url(#h210)"/><rect x="502.5" y="1433.00" width="175.90" height="2.67" fill="url(#h211)"/><rect x="502.5" y="1435.32" width="175.90" height="2.67" fill="url(#h212)"/><rect x="502.5" y="1437.64" width="175.90" height="2.67" fill="url(#h213)"/><rect x="502.5" y="1439.96" width="175.90" height="2.67" fill="url(#h214)"/><rect x="502.5" y="1442.28" width="175.90" height="2.67" fill="url(#h215)"/><rect x="502.5" y="1444.60" width="175.90" height="2.67" fill="url(#h216)"/><rect x="502.5" y="1446.92" width="175.90" height="2.67" fill="url(#h217)"/><rect x="502.5" y="1449.24" width="175.90" height="2.67" fill="url(#h218)"/><rect x="502.5" y="1451.56" width="175.90" height="2.67" fill="url(#h219)"/><rect x="502.5" y="1453.88" width="175.90" height="2.67" fill="url(#h220)"/>
<rect x="502.5" y="1326.3" width="175.90" height="129.90" fill="none" stroke="#222" stroke-width="1.3"/>
<line x1="561.3" y1="1326.3" x2="561.3" y2="1456.2" stroke="#e2623c" stroke-width="1.6" stroke-dasharray="2.2,5.3"/>
<line x1="502.5" y1="1462" x2="502.5" y2="1466.5" stroke="#111" stroke-width="1.6"/>
<text x="502.5" y="1487" font-size="20" text-anchor="middle" fill="#111">-2</text>
<line x1="561.1333333333333" y1="1462" x2="561.1333333333333" y2="1466.5" stroke="#111" stroke-width="1.6"/>
<text x="561.1333333333333" y="1487" font-size="20" text-anchor="middle" fill="#111">0</text>
<line x1="619.7666666666667" y1="1462" x2="619.7666666666667" y2="1466.5" stroke="#111" stroke-width="1.6"/>
<text x="619.7666666666667" y="1487" font-size="20" text-anchor="middle" fill="#111">2</text>
<line x1="678.4" y1="1462" x2="678.4" y2="1466.5" stroke="#111" stroke-width="1.6"/>
<text x="678.4" y="1487" font-size="20" text-anchor="middle" fill="#111">4</text>
<text x="592.45" y="1509.8" font-size="22.5" text-anchor="middle" fill="#111">Time (s)</text>
<text x="479" y="1392" font-size="20.8" text-anchor="middle" fill="#111" transform="rotate(-90 479 1392)">Trials</text>
<text x="496.5" y="1388.5" font-size="20.8" text-anchor="middle" fill="#111" transform="rotate(-90 496.5 1388.5)">(O-)</text>
<rect x="442" y="1436" width="4" height="16" fill="url(#cbar)"/>
<text x="447" y="1440" font-size="7" text-anchor="start" fill="#333">1</text>
<text x="447" y="1454" font-size="7" text-anchor="start" fill="#333">0</text>
<text x="16" y="1557.4" font-size="40" text-anchor="start" fill="#111">k</text>
<line x1="100.5" y1="1563.7" x2="100.5" y2="1741.6" stroke="#111" stroke-width="2"/>
<line x1="92.0" y1="1563.7" x2="100.5" y2="1563.7" stroke="#111" stroke-width="2"/>
<line x1="92.0" y1="1652.65" x2="100.5" y2="1652.65" stroke="#111" stroke-width="2"/>
<line x1="92.0" y1="1741.6" x2="100.5" y2="1741.6" stroke="#111" stroke-width="2"/>
<line x1="91.5" y1="1741.6" x2="279.4" y2="1741.6" stroke="#111" stroke-width="2"/>
<line x1="100.5" y1="1741.6" x2="100.5" y2="1749.6" stroke="#111" stroke-width="2"/>
<line x1="190" y1="1741.6" x2="190" y2="1749.6" stroke="#111" stroke-width="2"/>
<line x1="279.4" y1="1741.6" x2="279.4" y2="1749.6" stroke="#111" stroke-width="2"/>
<text x="87" y="1572" font-size="24" text-anchor="end" fill="#111">1</text>
<text x="85.5" y="1750" font-size="24" text-anchor="end" fill="#111">0</text>
<text x="100.5" y="1775.8" font-size="24" text-anchor="middle" fill="#111">0</text>
<text x="190" y="1775.8" font-size="24" text-anchor="middle" fill="#111">5</text>
<text x="279.4" y="1775.8" font-size="24" text-anchor="middle" fill="#111">10</text>
<text x="190" y="1808" font-size="27.5" text-anchor="middle" fill="#111" textLength="155.5" lengthAdjust="spacingAndGlyphs">Tuning Index</text>
<text x="40" y="1663" font-size="27.5" text-anchor="middle" fill="#111" transform="rotate(-90 40 1663)">CDF</text>
<text x="69" y="1657.5" font-size="27.5" text-anchor="middle" fill="#111" transform="rotate(-90 69 1657.5)">(O-)</text>
<text x="316" y="1591.4" font-size="20" text-anchor="end" fill="#3d4a9c" textLength="100.3" lengthAdjust="spacingAndGlyphs">PL::A-DMS</text>
<text x="316" y="1617.7" font-size="20" text-anchor="end" fill="#f0962e" textLength="100.3" lengthAdjust="spacingAndGlyphs">PL::P-DMS</text>
<text x="195.7" y="1681.3" font-size="16.5" text-anchor="end" fill="#111" font-weight="bold" font-style="italic">k-s test</text>
<text x="195.7" y="1699" font-size="16.1" text-anchor="end" fill="#111">***p=2e<tspan font-size="10" dy="-6">-5</tspan></text>
<text x="195.7" y="1713.4" font-size="16.5" text-anchor="end" fill="#111" font-weight="bold" font-style="italic">t-test</text>
<text x="193.5" y="1731" font-size="16.2" text-anchor="end" fill="#111">**p = 0.004</text>
<path d="M100.5,1675.4 C101.2,1671.1 103.3,1657.8 104.9,1649.3 C106.5,1640.8 107.8,1632.3 109.9,1624.5 C112.0,1616.7 114.4,1608.4 117.3,1602.2 C120.2,1596.0 123.6,1591.0 127.3,1587.3 C131.0,1583.6 134.8,1582.1 139.7,1579.8 C144.6,1577.5 150.8,1575.6 157.0,1573.6 C163.2,1571.6 169.5,1569.4 176.9,1567.9 C184.3,1566.4 197.6,1565.0 201.7,1564.4" fill="none" stroke="#f0962e" stroke-width="3.3" stroke-linejoin="round" stroke-linecap="round"/>
<path d="M100.5,1696.5 C101.5,1692.0 104.2,1678.3 106.2,1669.2 C108.2,1660.1 110.1,1650.2 112.4,1641.9 C114.7,1633.6 116.9,1626.3 119.8,1619.5 C122.7,1612.7 126.0,1605.9 129.7,1600.9 C133.4,1595.9 137.6,1593.0 142.2,1589.7 C146.8,1586.4 151.2,1583.9 157.0,1581.1 C162.8,1578.3 169.5,1575.0 176.9,1572.9 C184.3,1570.8 192.6,1569.5 201.7,1568.7 C210.8,1567.9 220.9,1568.2 231.5,1567.9 C242.1,1567.7 256.9,1567.5 265.0,1567.2 C273.1,1566.9 277.4,1566.4 279.9,1566.2" fill="none" stroke="#3d4a9c" stroke-width="3.3" stroke-linejoin="round" stroke-linecap="round"/>
<line x1="279.5" y1="1654.8" x2="279.5" y2="1732.2" stroke="#111" stroke-width="1.3"/>
<line x1="279.5" y1="1732.2" x2="282.0" y2="1732.2" stroke="#111" stroke-width="1.3"/>
<text x="283.3" y="1737.2" font-size="14" text-anchor="start" fill="#111">0</text>
<line x1="279.5" y1="1706.4" x2="282.0" y2="1706.4" stroke="#111" stroke-width="1.3"/>
<text x="283.3" y="1711.4" font-size="14" text-anchor="start" fill="#111">2</text>
<line x1="279.5" y1="1680.6" x2="282.0" y2="1680.6" stroke="#111" stroke-width="1.3"/>
<text x="283.3" y="1685.6" font-size="14" text-anchor="start" fill="#111">4</text>
<line x1="279.5" y1="1654.8" x2="282.0" y2="1654.8" stroke="#111" stroke-width="1.3"/>
<text x="283.3" y="1659.8" font-size="14" text-anchor="start" fill="#111">6</text>
<text x="301.5" y="1691.5" font-size="15.6" text-anchor="middle" fill="#111" transform="rotate(90 301.5 1691.5)">Tuning index</text>
<path d="M233.6,1656.3 C233.6,1660.4 233.8,1674.5 233.9,1681.1 C234.1,1687.7 234.1,1692.4 234.2,1695.7 C234.3,1699.0 234.4,1699.3 234.5,1701.0 C234.6,1702.7 234.6,1704.1 235.0,1705.9 C235.3,1707.7 235.9,1709.8 236.4,1711.8 C236.9,1713.8 237.7,1716.1 238.2,1717.6 C238.7,1719.1 239.0,1719.8 239.4,1721.0 C239.8,1722.2 240.4,1723.7 240.8,1724.9 C241.2,1726.1 241.6,1727.0 241.9,1728.0 C242.2,1729.0 242.5,1730.0 242.6,1730.7 C242.6,1731.4 242.3,1732.1 242.3,1732.4 L224.7,1732.4 C224.7,1732.1 224.4,1731.4 224.4,1730.7 C224.5,1730.0 224.8,1729.0 225.1,1728.0 C225.4,1727.0 225.8,1726.1 226.2,1724.9 C226.6,1723.7 227.2,1722.2 227.6,1721.0 C228.0,1719.8 228.3,1719.1 228.8,1717.6 C229.3,1716.1 230.1,1713.8 230.6,1711.8 C231.1,1709.8 231.7,1707.7 232.0,1705.9 C232.4,1704.1 232.4,1702.7 232.5,1701.0 C232.6,1699.3 232.7,1699.0 232.8,1695.7 C232.9,1692.4 232.9,1687.7 233.1,1681.1 C233.2,1674.5 233.4,1660.4 233.4,1656.3 Z" fill="#6f70b0"/>
<line x1="229.9" y1="1718.3" x2="237.1" y2="1718.3" stroke="#111" stroke-width="1.0"/>
<line x1="225.8" y1="1727.5" x2="241.2" y2="1727.5" stroke="#111" stroke-width="1.0" stroke-dasharray="3.5,2.5"/>
<path d="M261.5,1715.0 C261.6,1716.4 261.6,1721.4 261.7,1723.4 C261.8,1725.4 261.7,1726.0 262.3,1727.1 C262.9,1728.2 263.7,1729.2 265.0,1730.0 C266.4,1730.8 269.5,1731.8 270.4,1732.2 L252.3,1732.2 C253.2,1731.8 256.4,1730.8 257.8,1730.0 C259.1,1729.2 259.9,1728.2 260.5,1727.1 C261.1,1726.0 261.0,1725.4 261.1,1723.4 C261.2,1721.4 261.2,1716.4 261.2,1715.0 Z" fill="#f5b062"/>
<line x1="260.2" y1="1728.1" x2="262.59999999999997" y2="1728.1" stroke="#111" stroke-width="1.0"/>
<line x1="252.89999999999998" y1="1732" x2="269.9" y2="1732" stroke="#111" stroke-width="1.0" stroke-dasharray="3.5,2.5"/>
<line x1="232.8" y1="1648.7" x2="261.7" y2="1648.7" stroke="#111" stroke-width="1.6"/>
<text x="247.25" y="1650.7" font-size="20" text-anchor="middle" fill="#111" font-weight="bold">**</text>
<line x1="261.4" y1="1674" x2="261.4" y2="1716" stroke="#f5b062" stroke-width="0.9" stroke-dasharray="3,3"/>
<rect x="363.4" y="1530" width="3.4" height="27.5" fill="#111"/>
<line x1="440.2" y1="1558.1" x2="440.2" y2="1738.4" stroke="#111" stroke-width="2.4"/>
<line x1="428.2" y1="1558.1" x2="440.2" y2="1558.1" stroke="#111" stroke-width="2.4"/>
<line x1="428.2" y1="1648.25" x2="440.2" y2="1648.25" stroke="#111" stroke-width="2.4"/>
<line x1="428.2" y1="1738.4" x2="440.2" y2="1738.4" stroke="#111" stroke-width="2.4"/>
<line x1="428" y1="1738.4" x2="653.8" y2="1738.4" stroke="#111" stroke-width="2.4"/>
<line x1="440.2" y1="1738.4" x2="440.2" y2="1748.4" stroke="#111" stroke-width="2.4"/>
<line x1="475.8" y1="1738.4" x2="475.8" y2="1748.4" stroke="#111" stroke-width="2.4"/>
<line x1="511.4" y1="1738.4" x2="511.4" y2="1748.4" stroke="#111" stroke-width="2.4"/>
<line x1="547.0" y1="1738.4" x2="547.0" y2="1748.4" stroke="#111" stroke-width="2.4"/>
<line x1="582.6" y1="1738.4" x2="582.6" y2="1748.4" stroke="#111" stroke-width="2.4"/>
<line x1="618.2" y1="1738.4" x2="618.2" y2="1748.4" stroke="#111" stroke-width="2.4"/>
<line x1="653.8" y1="1738.4" x2="653.8" y2="1748.4" stroke="#111" stroke-width="2.4"/>
<text x="420.5" y="1567" font-size="25.5" text-anchor="end" fill="#111">2</text>
<text x="421.5" y="1657" font-size="25.5" text-anchor="end" fill="#111">1</text>
<text x="420.5" y="1747.5" font-size="25.5" text-anchor="end" fill="#111">0</text>
<text x="440.2" y="1779.8" font-size="26.5" text-anchor="middle" fill="#111">0</text>
<text x="475.8" y="1779.8" font-size="26.5" text-anchor="middle" fill="#111">1</text>
<text x="511.4" y="1779.8" font-size="26.5" text-anchor="middle" fill="#111">2</text>
<text x="547.0" y="1779.8" font-size="26.5" text-anchor="middle" fill="#111">3</text>
<text x="582.6" y="1779.8" font-size="26.5" text-anchor="middle" fill="#111">4</text>
<text x="618.2" y="1779.8" font-size="26.5" text-anchor="middle" fill="#111">5</text>
<text x="653.8" y="1779.8" font-size="26.5" text-anchor="middle" fill="#111">6</text>
<text x="548" y="1814" font-size="28" text-anchor="middle" fill="#111" textLength="98.4" lengthAdjust="spacingAndGlyphs">Time (s)</text>
<text x="388" y="1646" font-size="27.5" text-anchor="middle" fill="#111" transform="rotate(-90 388 1646)">a.u.</text>
<rect x="440.2" y="1558" width="173.7" height="10.4" fill="#3d4a9c"/>
<text x="658.5" y="1595.5" font-size="24.8" text-anchor="end" fill="#111">Kernel (O-)</text>
<text x="658" y="1619.2" font-size="20.2" text-anchor="end" fill="#3d4a9c">PL::A-DMS</text>
<text x="658" y="1640.9" font-size="20.2" text-anchor="end" fill="#f0962e">PL::P-DMS</text>
<path d="M440.2,1733.9 C442.3,1730.6 448.3,1719.2 453.0,1714.1 C457.8,1709.0 464.8,1714.2 468.7,1703.2 C472.6,1692.3 474.1,1660.4 476.5,1648.2 C478.9,1636.1 480.6,1633.2 483.3,1630.2 C485.9,1627.2 489.3,1630.5 492.5,1630.2 C495.8,1629.9 498.3,1626.3 502.9,1628.4 C507.4,1630.5 514.4,1638.2 519.9,1642.8 C525.5,1647.5 530.2,1652.5 536.3,1656.4 C542.4,1660.3 549.0,1662.1 556.6,1666.3 C564.2,1670.5 573.5,1677.4 581.9,1681.6 C590.3,1685.8 596.8,1687.3 606.8,1691.5 C616.8,1695.7 634.2,1700.5 642.1,1706.8 C649.9,1713.2 651.8,1725.6 653.8,1729.4 L653.8,1735.7 C648.5,1734.0 632.1,1728.3 621.8,1725.8 C611.4,1723.2 601.1,1722.0 591.9,1720.4 C582.7,1718.7 574.9,1717.8 566.6,1715.9 C558.2,1713.9 549.4,1708.3 541.7,1708.7 C533.9,1709.0 527.3,1715.9 519.9,1717.7 C512.6,1719.5 503.1,1719.8 497.5,1719.5 C491.9,1719.2 489.8,1716.9 486.5,1715.9 C483.2,1714.8 480.5,1712.6 477.6,1713.2 C474.6,1713.8 472.8,1717.2 468.7,1719.5 C464.6,1721.7 457.8,1723.5 453.0,1726.7 C448.3,1729.8 442.3,1736.4 440.2,1738.4 Z" fill="#9da1cc" fill-opacity="0.45" stroke="none"/>
<path d="M440.2,1733.9 C442.3,1732.8 448.3,1729.2 453.0,1727.6 C457.8,1725.9 464.3,1724.4 468.7,1724.0 C473.1,1723.5 475.2,1724.9 479.4,1724.9 C483.5,1724.9 487.7,1723.9 493.6,1724.0 C499.5,1724.1 507.8,1724.9 515.0,1725.3 C522.1,1725.8 530.4,1726.3 536.3,1726.7 C542.3,1727.1 545.8,1727.7 550.6,1727.6 C555.3,1727.4 560.6,1725.8 564.8,1725.8 C569.0,1725.8 570.7,1727.0 575.5,1727.6 C580.2,1728.2 586.2,1728.9 593.3,1729.4 C600.4,1729.8 609.9,1729.9 618.2,1730.3 C626.5,1730.7 637.2,1731.0 643.1,1731.6 C649.1,1732.2 652.0,1733.5 653.8,1733.9 L653.8,1738.4 C652.0,1738.2 649.1,1737.5 643.1,1737.0 C637.2,1736.6 626.5,1736.1 618.2,1735.7 C609.9,1735.3 600.4,1735.2 593.3,1734.8 C586.2,1734.3 580.2,1733.6 575.5,1733.0 C570.7,1732.4 569.0,1731.2 564.8,1731.2 C560.6,1731.2 555.3,1732.8 550.6,1733.0 C545.8,1733.1 542.3,1732.5 536.3,1732.1 C530.4,1731.7 522.1,1731.2 515.0,1730.7 C507.8,1730.3 499.5,1729.5 493.6,1729.4 C487.7,1729.3 483.5,1730.3 479.4,1730.3 C475.2,1730.3 473.1,1728.9 468.7,1729.4 C464.3,1729.8 457.8,1731.5 453.0,1733.0 C448.3,1734.5 442.3,1737.5 440.2,1738.4 Z" fill="#f5b45e" fill-opacity="0.5" stroke="none"/>
<path d="M440.2,1736.6 C442.3,1735.5 448.3,1731.9 453.0,1730.3 C457.8,1728.6 464.3,1727.1 468.7,1726.7 C473.1,1726.2 475.2,1727.6 479.4,1727.6 C483.5,1727.6 487.7,1726.6 493.6,1726.7 C499.5,1726.8 507.8,1727.6 515.0,1728.0 C522.1,1728.5 530.4,1729.0 536.3,1729.4 C542.3,1729.8 545.8,1730.4 550.6,1730.3 C555.3,1730.1 560.6,1728.5 564.8,1728.5 C569.0,1728.5 570.7,1729.7 575.5,1730.3 C580.2,1730.9 586.2,1731.6 593.3,1732.1 C600.4,1732.5 609.9,1732.6 618.2,1733.0 C626.5,1733.4 637.2,1733.7 643.1,1734.3 C649.1,1734.9 652.0,1736.2 653.8,1736.6" fill="none" stroke="#f0a030" stroke-width="3.3" stroke-linejoin="round" stroke-linecap="round"/>
<path d="M440.2,1736.6 C441.9,1734.2 446.7,1725.9 450.5,1722.2 C454.4,1718.4 459.4,1718.9 463.3,1714.1 C467.3,1709.3 470.7,1698.7 474.0,1693.3 C477.3,1687.9 480.2,1683.7 483.3,1681.6 C486.4,1679.5 489.0,1681.0 492.5,1680.7 C496.0,1680.4 501.1,1679.7 504.3,1679.8 C507.4,1680.0 508.8,1680.7 511.4,1681.6 C514.0,1682.5 515.8,1684.5 519.9,1685.2 C524.1,1686.0 531.8,1685.2 536.3,1686.1 C540.8,1687.0 543.6,1689.0 547.0,1690.6 C550.4,1692.3 550.8,1693.8 556.6,1696.0 C562.4,1698.3 574.4,1702.0 581.9,1704.1 C589.4,1706.2 594.3,1707.0 601.8,1708.7 C609.4,1710.3 620.0,1712.4 627.1,1714.1 C634.2,1715.7 640.1,1715.4 644.5,1718.6 C649.0,1721.7 652.3,1730.6 653.8,1733.0" fill="none" stroke="#3d4a9c" stroke-width="3.3" stroke-linejoin="round" stroke-linecap="round"/>
</svg></body></html>
